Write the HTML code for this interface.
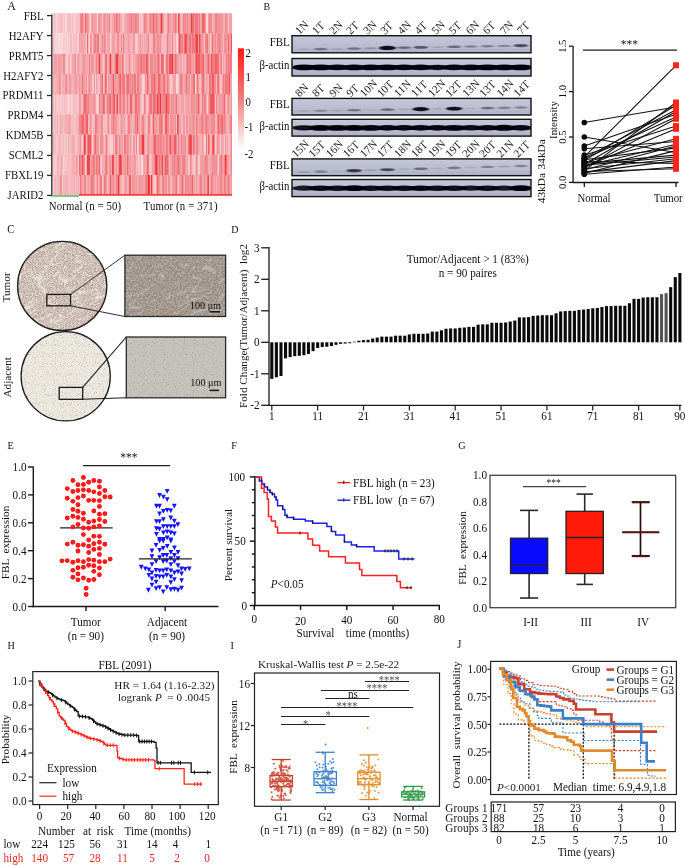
<!DOCTYPE html>
<html><head><meta charset="utf-8"><title>Figure</title>
<style>
html,body{margin:0;padding:0;background:#fff;}
body{width:685px;height:866px;overflow:hidden;}
svg{display:block;font-family:"Liberation Serif", serif;}
svg text{white-space:pre;}
svg{will-change:transform;}
</style></head><body>
<svg width="685" height="866" viewBox="0 0 685 866">
<rect x="0" y="0" width="685" height="866" fill="#fff"/>
<text x="7.30" y="9.60" font-size="12" text-anchor="start" fill="#111" transform="translate(0 5.40) scale(1 1.1) translate(0 -5.40)" >A</text>
<path fill="rgb(250,232,234)" d="M77.40 33.50h0.94v20.24h-0.94z"/>
<path fill="rgb(249,227,230)" d="M58.60 33.50h1.04v20.24h-1.04z"/>
<path fill="rgb(249,222,225)" d="M67.40 33.50h0.54v20.24h-0.54z"/>
<path fill="rgb(248,218,221)" d="M65.60 13.30h1.04v20.24h-1.04zM96.70 13.30h1.54v20.24h-1.54zM110.00 33.50h1.54v20.24h-1.54zM177.40 33.50h0.94v20.24h-0.94zM121.40 53.70h0.54v20.24h-0.54zM95.10 73.90h1.04v20.24h-1.04zM175.90 73.90h2.54v20.24h-2.54zM195.00 73.90h1.54v20.24h-1.54zM96.30 94.10h2.54v20.24h-2.54zM58.10 114.30h1.04v20.24h-1.04zM140.90 154.70h1.54v20.24h-1.54zM197.90 154.70h1.24v20.24h-1.24zM209.40 174.90h0.54v20.24h-0.54z"/>
<path fill="rgb(248,213,216)" d="M73.60 13.30h0.74v20.24h-0.74zM138.90 13.30h1.04v20.24h-1.04zM177.00 13.30h0.94v20.24h-0.94zM180.40 13.30h1.04v20.24h-1.04zM206.00 13.30h1.54v20.24h-1.54zM207.50 13.30h0.54v20.24h-0.54zM55.90 33.50h1.04v20.24h-1.04zM56.90 33.50h1.04v20.24h-1.04zM60.80 33.50h0.94v20.24h-0.94zM175.70 33.50h0.54v20.24h-0.54zM70.00 53.70h1.54v20.24h-1.54zM63.00 154.70h1.04v20.24h-1.04zM100.30 154.70h1.24v20.24h-1.24zM217.60 154.70h1.04v20.24h-1.04z"/>
<path fill="rgb(247,208,211)" d="M56.20 13.30h1.54v20.24h-1.54zM101.50 13.30h0.74v20.24h-0.74zM54.50 33.50h0.94v20.24h-0.94zM61.70 33.50h1.24v20.24h-1.24zM86.00 33.50h1.04v20.24h-1.04zM136.10 33.50h1.04v20.24h-1.04zM164.00 53.70h1.54v20.24h-1.54zM142.20 73.90h1.04v20.24h-1.04zM169.90 73.90h1.54v20.24h-1.54zM52.50 94.10h0.54v20.24h-0.54zM67.30 94.10h1.04v20.24h-1.04zM68.30 94.10h1.54v20.24h-1.54zM206.50 94.10h0.94v20.24h-0.94zM99.40 134.50h0.94v20.24h-0.94zM109.80 134.50h1.24v20.24h-1.24zM187.30 134.50h1.04v20.24h-1.04zM204.10 134.50h2.04v20.24h-2.04zM223.90 134.50h0.74v20.24h-0.74zM78.00 154.70h0.74v20.24h-0.74zM138.20 154.70h1.04v20.24h-1.04zM142.40 154.70h1.04v20.24h-1.04zM188.50 154.70h1.54v20.24h-1.54zM114.80 174.90h0.54v20.24h-0.54z"/>
<path fill="rgb(247,203,207)" d="M62.70 13.30h0.54v20.24h-0.54zM71.10 13.30h1.04v20.24h-1.04zM78.00 13.30h1.24v20.24h-1.24zM90.20 13.30h1.04v20.24h-1.04zM59.60 33.50h1.24v20.24h-1.24zM62.90 33.50h2.54v20.24h-2.54zM67.90 33.50h2.04v20.24h-2.04zM88.20 33.50h1.54v20.24h-1.54zM91.70 33.50h1.54v20.24h-1.54zM75.90 53.70h0.74v20.24h-0.74zM124.10 53.70h1.54v20.24h-1.54zM184.50 53.70h0.74v20.24h-0.74zM221.70 53.70h1.04v20.24h-1.04zM92.20 73.90h2.04v20.24h-2.04zM143.20 73.90h2.04v20.24h-2.04zM60.70 94.10h1.54v20.24h-1.54zM76.00 94.10h0.74v20.24h-0.74zM141.20 94.10h2.54v20.24h-2.54zM125.60 114.30h1.04v20.24h-1.04zM176.10 114.30h1.04v20.24h-1.04zM185.80 114.30h0.74v20.24h-0.74zM92.20 134.50h1.04v20.24h-1.04zM111.00 134.50h2.04v20.24h-2.04zM122.70 134.50h1.04v20.24h-1.04zM137.00 134.50h2.04v20.24h-2.04zM215.50 134.50h1.24v20.24h-1.24zM228.60 134.50h1.04v20.24h-1.04zM54.50 154.70h2.54v20.24h-2.54zM85.00 154.70h0.94v20.24h-0.94zM149.20 154.70h1.04v20.24h-1.04zM53.00 174.90h1.54v20.24h-1.54zM62.10 174.90h1.04v20.24h-1.04zM140.50 174.90h0.54v20.24h-0.54zM170.70 174.90h1.54v20.24h-1.54z"/>
<path fill="rgb(246,198,202)" d="M53.70 13.30h2.54v20.24h-2.54zM140.40 13.30h2.04v20.24h-2.04zM57.90 33.50h0.74v20.24h-0.74zM65.40 33.50h2.04v20.24h-2.04zM89.70 33.50h0.54v20.24h-0.54zM176.20 33.50h1.24v20.24h-1.24zM210.20 33.50h1.54v20.24h-1.54zM65.00 53.70h2.54v20.24h-2.54zM103.10 53.70h1.54v20.24h-1.54zM182.30 53.70h1.04v20.24h-1.04zM57.60 94.10h1.04v20.24h-1.04zM65.90 94.10h0.54v20.24h-0.54zM71.30 94.10h1.04v20.24h-1.04zM226.40 94.10h1.04v20.24h-1.04zM75.70 134.50h1.54v20.24h-1.54zM128.60 134.50h1.04v20.24h-1.04zM134.60 134.50h1.24v20.24h-1.24zM192.40 154.70h2.04v20.24h-2.04zM102.20 174.90h1.54v20.24h-1.54zM154.30 174.90h2.04v20.24h-2.04zM177.40 174.90h1.24v20.24h-1.24zM184.40 174.90h0.54v20.24h-0.54zM229.60 174.90h0.74v20.24h-0.74z"/>
<path fill="rgb(246,194,198)" d="M57.70 13.30h2.54v20.24h-2.54zM63.20 13.30h1.54v20.24h-1.54zM64.70 13.30h0.94v20.24h-0.94zM74.30 13.30h1.24v20.24h-1.24zM123.20 13.30h0.94v20.24h-0.94zM165.70 13.30h0.94v20.24h-0.94zM227.90 13.30h1.04v20.24h-1.04zM72.40 33.50h0.54v20.24h-0.54zM72.90 33.50h2.54v20.24h-2.54zM99.20 33.50h1.04v20.24h-1.04zM137.10 33.50h0.54v20.24h-0.54zM113.30 53.70h0.54v20.24h-0.54zM194.10 53.70h0.54v20.24h-0.54zM60.90 73.90h1.04v20.24h-1.04zM98.50 73.90h1.04v20.24h-1.04zM103.00 73.90h1.24v20.24h-1.24zM107.10 73.90h1.04v20.24h-1.04zM125.30 73.90h0.54v20.24h-0.54zM220.20 73.90h1.54v20.24h-1.54zM53.90 94.10h0.74v20.24h-0.74zM56.60 94.10h1.04v20.24h-1.04zM59.50 94.10h1.24v20.24h-1.24zM69.80 94.10h1.54v20.24h-1.54zM77.70 94.10h1.54v20.24h-1.54zM81.70 94.10h1.04v20.24h-1.04zM118.20 94.10h1.04v20.24h-1.04zM214.60 94.10h1.24v20.24h-1.24zM56.40 114.30h0.54v20.24h-0.54zM74.60 114.30h1.54v20.24h-1.54zM150.30 114.30h2.54v20.24h-2.54zM215.50 114.30h0.74v20.24h-0.74zM56.50 134.50h1.04v20.24h-1.04zM61.20 134.50h1.24v20.24h-1.24zM64.60 134.50h1.54v20.24h-1.54zM81.30 134.50h1.54v20.24h-1.54zM131.10 134.50h1.54v20.24h-1.54zM145.70 134.50h1.54v20.24h-1.54zM64.00 154.70h2.54v20.24h-2.54zM69.60 154.70h0.94v20.24h-0.94zM85.90 154.70h1.04v20.24h-1.04zM107.30 154.70h0.54v20.24h-0.54zM55.70 174.90h1.54v20.24h-1.54zM121.90 174.90h2.54v20.24h-2.54z"/>
<path fill="rgb(245,189,193)" d="M52.50 13.30h1.24v20.24h-1.24zM66.60 13.30h2.04v20.24h-2.04zM68.60 13.30h2.54v20.24h-2.54zM75.50 13.30h2.54v20.24h-2.54zM83.80 13.30h1.04v20.24h-1.04zM89.30 13.30h0.94v20.24h-0.94zM109.90 13.30h2.04v20.24h-2.04zM171.50 13.30h0.54v20.24h-0.54zM52.50 33.50h2.04v20.24h-2.04zM55.40 33.50h0.54v20.24h-0.54zM70.90 33.50h1.54v20.24h-1.54zM135.40 33.50h0.74v20.24h-0.74zM141.40 33.50h1.04v20.24h-1.04zM148.90 33.50h2.54v20.24h-2.54zM161.40 33.50h0.54v20.24h-0.54zM173.00 33.50h1.54v20.24h-1.54zM204.30 33.50h0.94v20.24h-0.94zM62.00 53.70h0.54v20.24h-0.54zM131.30 53.70h1.54v20.24h-1.54zM159.90 53.70h0.94v20.24h-0.94zM86.70 73.90h1.04v20.24h-1.04zM121.30 73.90h0.54v20.24h-0.54zM190.10 73.90h0.94v20.24h-0.94zM199.00 73.90h2.04v20.24h-2.04zM204.60 73.90h1.54v20.24h-1.54zM231.90 73.90h0.14v20.24h-0.14zM63.40 94.10h2.54v20.24h-2.54zM72.30 94.10h2.54v20.24h-2.54zM74.80 94.10h1.24v20.24h-1.24zM145.70 94.10h0.74v20.24h-0.74zM146.40 94.10h1.54v20.24h-1.54zM207.90 94.10h0.54v20.24h-0.54zM52.50 114.30h0.94v20.24h-0.94zM54.90 114.30h1.54v20.24h-1.54zM63.60 114.30h0.94v20.24h-0.94zM91.70 114.30h1.04v20.24h-1.04zM94.20 114.30h0.74v20.24h-0.74zM102.60 114.30h2.54v20.24h-2.54zM109.10 114.30h0.94v20.24h-0.94zM110.00 114.30h1.04v20.24h-1.04zM146.10 114.30h1.54v20.24h-1.54zM187.50 114.30h1.24v20.24h-1.24zM54.50 134.50h2.04v20.24h-2.04zM66.10 134.50h1.24v20.24h-1.24zM69.30 134.50h1.04v20.24h-1.04zM85.80 134.50h1.54v20.24h-1.54zM107.30 134.50h2.54v20.24h-2.54zM114.50 134.50h0.74v20.24h-0.74zM220.30 134.50h1.24v20.24h-1.24zM53.50 154.70h1.04v20.24h-1.04zM150.20 154.70h1.54v20.24h-1.54zM194.40 154.70h1.04v20.24h-1.04zM199.10 154.70h1.24v20.24h-1.24zM218.60 154.70h0.54v20.24h-0.54zM52.50 174.90h0.54v20.24h-0.54zM193.30 174.90h0.54v20.24h-0.54zM194.50 174.90h0.54v20.24h-0.54z"/>
<path fill="rgb(245,184,188)" d="M60.20 13.30h2.54v20.24h-2.54zM72.10 13.30h1.54v20.24h-1.54zM120.50 13.30h1.24v20.24h-1.24zM121.70 13.30h1.54v20.24h-1.54zM181.90 13.30h1.04v20.24h-1.04zM212.00 13.30h1.54v20.24h-1.54zM78.30 33.50h0.74v20.24h-0.74zM106.10 33.50h0.74v20.24h-0.74zM119.40 33.50h1.54v20.24h-1.54zM121.80 33.50h1.24v20.24h-1.24zM163.30 33.50h2.54v20.24h-2.54zM165.80 33.50h1.04v20.24h-1.04zM67.50 53.70h1.54v20.24h-1.54zM67.00 73.90h1.24v20.24h-1.24zM171.40 73.90h1.04v20.24h-1.04zM216.20 73.90h0.94v20.24h-0.94zM53.00 94.10h0.94v20.24h-0.94zM54.60 94.10h2.04v20.24h-2.04zM147.90 94.10h1.04v20.24h-1.04zM169.70 94.10h1.54v20.24h-1.54zM200.50 94.10h1.04v20.24h-1.04zM71.20 114.30h0.94v20.24h-0.94zM105.10 114.30h2.54v20.24h-2.54zM162.50 114.30h2.04v20.24h-2.04zM169.00 114.30h0.74v20.24h-0.74zM184.80 114.30h1.04v20.24h-1.04zM204.30 114.30h0.74v20.24h-0.74zM67.30 134.50h0.54v20.24h-0.54zM91.30 134.50h0.94v20.24h-0.94zM207.10 134.50h1.04v20.24h-1.04zM209.60 134.50h0.74v20.24h-0.74zM101.50 154.70h0.54v20.24h-0.54zM136.20 154.70h1.04v20.24h-1.04zM139.20 154.70h0.74v20.24h-0.74zM168.70 154.70h1.54v20.24h-1.54zM181.00 154.70h0.54v20.24h-0.54zM69.40 174.90h0.94v20.24h-0.94zM78.00 174.90h2.04v20.24h-2.04zM106.60 174.90h1.24v20.24h-1.24zM160.70 174.90h1.04v20.24h-1.04z"/>
<path fill="rgb(244,179,184)" d="M102.20 13.30h1.04v20.24h-1.04zM126.40 13.30h0.94v20.24h-0.94zM69.90 33.50h1.04v20.24h-1.04zM75.40 33.50h2.04v20.24h-2.04zM114.70 33.50h2.54v20.24h-2.54zM171.00 33.50h0.54v20.24h-0.54zM88.00 53.70h0.94v20.24h-0.94zM54.40 73.90h2.54v20.24h-2.54zM104.20 73.90h0.54v20.24h-0.54zM208.10 73.90h1.04v20.24h-1.04zM62.20 94.10h1.24v20.24h-1.24zM183.70 94.10h1.04v20.24h-1.04zM207.40 94.10h0.54v20.24h-0.54zM53.40 114.30h1.54v20.24h-1.54zM73.70 114.30h0.94v20.24h-0.94zM92.70 114.30h1.54v20.24h-1.54zM119.40 114.30h1.24v20.24h-1.24zM144.10 114.30h2.04v20.24h-2.04zM180.80 114.30h2.04v20.24h-2.04zM194.80 114.30h0.74v20.24h-0.74zM226.20 114.30h1.24v20.24h-1.24zM228.90 114.30h1.04v20.24h-1.04zM57.50 134.50h2.04v20.24h-2.04zM62.40 134.50h1.54v20.24h-1.54zM63.90 134.50h0.74v20.24h-0.74zM214.50 134.50h1.04v20.24h-1.04zM62.00 154.70h1.04v20.24h-1.04zM67.70 154.70h0.74v20.24h-0.74zM71.20 154.70h0.94v20.24h-0.94zM75.00 154.70h1.04v20.24h-1.04zM57.20 174.90h1.54v20.24h-1.54zM63.10 174.90h1.04v20.24h-1.04zM71.30 174.90h2.54v20.24h-2.54zM75.30 174.90h0.74v20.24h-0.74zM76.00 174.90h2.04v20.24h-2.04zM94.60 174.90h0.94v20.24h-0.94zM144.00 174.90h0.74v20.24h-0.74zM152.40 174.90h1.04v20.24h-1.04zM166.70 174.90h1.54v20.24h-1.54z"/>
<path fill="rgb(244,174,179)" d="M79.20 13.30h0.74v20.24h-0.74zM107.90 13.30h1.04v20.24h-1.04zM164.50 13.30h0.74v20.24h-0.74zM100.70 33.50h0.94v20.24h-0.94zM170.00 33.50h1.04v20.24h-1.04zM223.30 33.50h1.04v20.24h-1.04zM94.60 53.70h1.04v20.24h-1.04zM107.10 53.70h1.24v20.24h-1.24zM126.30 53.70h1.04v20.24h-1.04zM148.60 53.70h0.94v20.24h-0.94zM72.70 73.90h0.74v20.24h-0.74zM75.80 73.90h0.54v20.24h-0.54zM141.00 73.90h1.24v20.24h-1.24zM150.00 73.90h0.94v20.24h-0.94zM207.10 73.90h1.04v20.24h-1.04zM66.40 94.10h0.94v20.24h-0.94zM76.70 94.10h1.04v20.24h-1.04zM115.10 94.10h0.94v20.24h-0.94zM217.70 94.10h1.24v20.24h-1.24zM229.10 94.10h2.04v20.24h-2.04zM59.10 114.30h1.04v20.24h-1.04zM61.10 114.30h2.54v20.24h-2.54zM65.70 114.30h2.54v20.24h-2.54zM72.10 114.30h0.74v20.24h-0.74zM77.10 114.30h0.74v20.24h-0.74zM60.00 134.50h1.24v20.24h-1.24zM67.80 134.50h1.54v20.24h-1.54zM71.30 134.50h0.94v20.24h-0.94zM73.70 134.50h2.04v20.24h-2.04zM77.20 134.50h0.94v20.24h-0.94zM78.10 134.50h1.24v20.24h-1.24zM104.30 134.50h1.54v20.24h-1.54zM117.40 134.50h1.54v20.24h-1.54zM179.80 134.50h1.04v20.24h-1.04zM186.30 134.50h0.54v20.24h-0.54zM198.60 134.50h2.54v20.24h-2.54zM203.10 134.50h1.04v20.24h-1.04zM52.50 154.70h1.04v20.24h-1.04zM57.00 154.70h0.74v20.24h-0.74zM57.70 154.70h0.74v20.24h-0.74zM59.40 154.70h0.74v20.24h-0.74zM60.80 154.70h1.24v20.24h-1.24zM66.50 154.70h0.54v20.24h-0.54zM73.10 154.70h1.24v20.24h-1.24zM78.70 154.70h0.54v20.24h-0.54zM102.90 154.70h1.54v20.24h-1.54zM117.10 154.70h1.04v20.24h-1.04zM64.10 174.90h2.04v20.24h-2.04zM67.00 174.90h1.04v20.24h-1.04zM68.50 174.90h0.94v20.24h-0.94zM73.80 174.90h1.54v20.24h-1.54zM86.00 174.90h2.04v20.24h-2.04zM97.90 174.90h0.94v20.24h-0.94zM107.80 174.90h1.54v20.24h-1.54zM149.90 174.90h1.04v20.24h-1.04zM202.20 174.90h1.04v20.24h-1.04zM216.10 174.90h1.04v20.24h-1.04z"/>
<path fill="rgb(243,170,175)" d="M112.40 13.30h1.24v20.24h-1.24zM124.10 13.30h0.94v20.24h-0.94zM142.40 13.30h1.04v20.24h-1.04zM164.00 13.30h0.54v20.24h-0.54zM200.00 13.30h2.04v20.24h-2.04zM84.00 33.50h2.04v20.24h-2.04zM129.20 33.50h1.54v20.24h-1.54zM130.70 33.50h0.74v20.24h-0.74zM143.60 33.50h2.04v20.24h-2.04zM161.90 33.50h0.54v20.24h-0.54zM57.10 53.70h0.74v20.24h-0.74zM60.00 53.70h1.04v20.24h-1.04zM79.30 53.70h1.24v20.24h-1.24zM101.70 53.70h0.94v20.24h-0.94zM111.30 53.70h2.04v20.24h-2.04zM185.20 53.70h0.94v20.24h-0.94zM209.70 53.70h1.04v20.24h-1.04zM52.50 73.90h0.74v20.24h-0.74zM77.00 73.90h1.54v20.24h-1.54zM80.00 73.90h1.04v20.24h-1.04zM97.60 73.90h0.94v20.24h-0.94zM135.90 73.90h0.94v20.24h-0.94zM80.70 94.10h1.04v20.24h-1.04zM105.50 94.10h1.04v20.24h-1.04zM121.20 94.10h0.54v20.24h-0.54zM125.10 94.10h1.54v20.24h-1.54zM177.00 94.10h0.54v20.24h-0.54zM177.50 94.10h0.74v20.24h-0.74zM178.20 94.10h2.54v20.24h-2.54zM60.10 114.30h1.04v20.24h-1.04zM70.70 114.30h0.54v20.24h-0.54zM72.80 114.30h0.94v20.24h-0.94zM77.80 114.30h1.24v20.24h-1.24zM88.30 114.30h1.04v20.24h-1.04zM117.40 114.30h2.04v20.24h-2.04zM132.60 114.30h2.54v20.24h-2.54zM174.10 114.30h1.04v20.24h-1.04zM197.90 114.30h0.74v20.24h-0.74zM52.50 134.50h2.04v20.24h-2.04zM176.60 134.50h1.54v20.24h-1.54zM210.30 134.50h1.04v20.24h-1.04zM222.70 134.50h1.24v20.24h-1.24zM58.40 154.70h1.04v20.24h-1.04zM67.00 154.70h0.74v20.24h-0.74zM126.00 154.70h1.04v20.24h-1.04zM139.90 154.70h1.04v20.24h-1.04zM211.20 154.70h0.54v20.24h-0.54zM66.10 174.90h0.94v20.24h-0.94zM120.20 174.90h1.24v20.24h-1.24zM121.40 174.90h0.54v20.24h-0.54zM126.40 174.90h2.04v20.24h-2.04zM153.40 174.90h0.94v20.24h-0.94zM195.00 174.90h1.54v20.24h-1.54zM196.50 174.90h2.04v20.24h-2.04zM213.20 174.90h0.94v20.24h-0.94z"/>
<path fill="rgb(243,165,170)" d="M99.60 13.30h1.24v20.24h-1.24zM105.70 13.30h1.04v20.24h-1.04zM118.30 13.30h0.74v20.24h-0.74zM125.00 13.30h0.94v20.24h-0.94zM146.40 13.30h1.54v20.24h-1.54zM148.60 13.30h0.74v20.24h-0.74zM208.00 13.30h1.04v20.24h-1.04zM223.20 13.30h1.54v20.24h-1.54zM82.00 33.50h2.04v20.24h-2.04zM125.20 33.50h1.54v20.24h-1.54zM131.40 33.50h1.04v20.24h-1.04zM134.40 33.50h1.04v20.24h-1.04zM142.90 33.50h0.74v20.24h-0.74zM162.40 33.50h0.94v20.24h-0.94zM197.90 33.50h1.04v20.24h-1.04zM208.70 33.50h1.54v20.24h-1.54zM69.00 53.70h1.04v20.24h-1.04zM72.90 53.70h2.04v20.24h-2.04zM80.50 53.70h2.04v20.24h-2.04zM179.70 53.70h0.94v20.24h-0.94zM218.70 53.70h2.04v20.24h-2.04zM224.70 53.70h1.04v20.24h-1.04zM63.10 73.90h0.74v20.24h-0.74zM63.80 73.90h0.74v20.24h-0.74zM85.50 73.90h0.74v20.24h-0.74zM99.50 73.90h0.54v20.24h-0.54zM178.40 73.90h1.54v20.24h-1.54zM210.60 73.90h0.94v20.24h-0.94zM219.00 73.90h1.24v20.24h-1.24zM230.00 73.90h1.24v20.24h-1.24zM58.60 94.10h0.94v20.24h-0.94zM94.60 94.10h0.54v20.24h-0.54zM104.80 94.10h0.74v20.24h-0.74zM128.60 94.10h1.54v20.24h-1.54zM132.50 94.10h2.54v20.24h-2.54zM189.60 94.10h1.54v20.24h-1.54zM224.90 94.10h1.54v20.24h-1.54zM98.90 114.30h1.54v20.24h-1.54zM114.50 114.30h0.74v20.24h-0.74zM130.10 114.30h2.54v20.24h-2.54zM140.60 114.30h1.54v20.24h-1.54zM216.20 114.30h1.04v20.24h-1.04zM59.50 134.50h0.54v20.24h-0.54zM70.30 134.50h1.04v20.24h-1.04zM82.80 134.50h1.04v20.24h-1.04zM102.80 134.50h1.54v20.24h-1.54zM113.00 134.50h1.54v20.24h-1.54zM120.60 134.50h1.24v20.24h-1.24zM150.40 134.50h2.54v20.24h-2.54zM218.80 134.50h1.54v20.24h-1.54zM226.60 134.50h2.04v20.24h-2.04zM60.10 154.70h0.74v20.24h-0.74zM68.40 154.70h1.24v20.24h-1.24zM72.10 154.70h1.04v20.24h-1.04zM107.80 154.70h0.74v20.24h-0.74zM113.90 154.70h2.04v20.24h-2.04zM122.10 154.70h0.54v20.24h-0.54zM131.70 154.70h2.54v20.24h-2.54zM163.60 154.70h1.04v20.24h-1.04zM186.50 154.70h2.04v20.24h-2.04zM209.20 154.70h1.04v20.24h-1.04zM228.30 154.70h1.54v20.24h-1.54zM58.70 174.90h0.94v20.24h-0.94zM68.00 174.90h0.54v20.24h-0.54zM137.00 174.90h2.54v20.24h-2.54zM178.60 174.90h1.04v20.24h-1.04zM179.60 174.90h0.94v20.24h-0.94zM183.70 174.90h0.74v20.24h-0.74zM214.10 174.90h1.04v20.24h-1.04z"/>
<path fill="rgb(242,160,165)" d="M94.20 13.30h2.04v20.24h-2.04zM162.50 13.30h1.54v20.24h-1.54zM165.20 13.30h0.54v20.24h-0.54zM172.00 13.30h1.04v20.24h-1.04zM229.80 13.30h2.04v20.24h-2.04zM81.00 33.50h1.04v20.24h-1.04zM124.50 33.50h0.74v20.24h-0.74zM138.60 33.50h0.94v20.24h-0.94zM151.40 33.50h1.04v20.24h-1.04zM169.00 33.50h1.04v20.24h-1.04zM208.20 33.50h0.54v20.24h-0.54zM230.00 33.50h1.04v20.24h-1.04zM53.90 53.70h0.74v20.24h-0.74zM54.60 53.70h2.54v20.24h-2.54zM61.00 53.70h1.04v20.24h-1.04zM72.00 53.70h0.94v20.24h-0.94zM76.60 53.70h1.24v20.24h-1.24zM86.50 53.70h1.54v20.24h-1.54zM90.10 53.70h1.04v20.24h-1.04zM127.30 53.70h1.54v20.24h-1.54zM133.80 53.70h0.74v20.24h-0.74zM156.00 53.70h1.54v20.24h-1.54zM176.70 53.70h2.54v20.24h-2.54zM181.30 53.70h1.04v20.24h-1.04zM204.70 53.70h2.54v20.24h-2.54zM56.90 73.90h1.54v20.24h-1.54zM71.70 73.90h1.04v20.24h-1.04zM73.40 73.90h1.54v20.24h-1.54zM81.00 73.90h0.94v20.24h-0.94zM87.70 73.90h1.24v20.24h-1.24zM140.00 73.90h1.04v20.24h-1.04zM168.90 73.90h1.04v20.24h-1.04zM172.40 73.90h2.04v20.24h-2.04zM174.40 73.90h1.54v20.24h-1.54zM183.40 73.90h2.54v20.24h-2.54zM201.00 73.90h0.94v20.24h-0.94zM89.70 94.10h2.54v20.24h-2.54zM140.50 94.10h0.74v20.24h-0.74zM185.60 94.10h2.04v20.24h-2.04zM56.90 114.30h1.24v20.24h-1.24zM76.60 114.30h0.54v20.24h-0.54zM87.80 114.30h0.54v20.24h-0.54zM157.30 114.30h1.54v20.24h-1.54zM190.10 114.30h1.04v20.24h-1.04zM208.50 114.30h2.54v20.24h-2.54zM227.40 114.30h1.54v20.24h-1.54zM93.20 134.50h1.04v20.24h-1.04zM98.90 134.50h0.54v20.24h-0.54zM144.70 134.50h1.04v20.24h-1.04zM70.50 154.70h0.74v20.24h-0.74zM76.00 154.70h2.04v20.24h-2.04zM89.90 154.70h1.54v20.24h-1.54zM102.00 154.70h0.94v20.24h-0.94zM135.70 154.70h0.54v20.24h-0.54zM137.20 154.70h1.04v20.24h-1.04zM208.30 154.70h0.94v20.24h-0.94zM54.50 174.90h1.24v20.24h-1.24zM88.00 174.90h0.94v20.24h-0.94zM89.60 174.90h1.54v20.24h-1.54zM113.90 174.90h0.94v20.24h-0.94zM130.90 174.90h1.04v20.24h-1.04zM135.80 174.90h1.24v20.24h-1.24zM141.00 174.90h2.54v20.24h-2.54zM226.10 174.90h1.54v20.24h-1.54z"/>
<path fill="rgb(242,155,161)" d="M87.80 13.30h1.54v20.24h-1.54zM147.90 13.30h0.74v20.24h-0.74zM228.90 13.30h0.94v20.24h-0.94zM79.00 33.50h1.54v20.24h-1.54zM106.80 33.50h1.04v20.24h-1.04zM108.30 33.50h1.24v20.24h-1.24zM109.50 33.50h0.54v20.24h-0.54zM126.70 33.50h1.04v20.24h-1.04zM137.60 33.50h1.04v20.24h-1.04zM146.50 33.50h0.94v20.24h-0.94zM152.40 33.50h0.54v20.24h-0.54zM159.00 33.50h0.94v20.24h-0.94zM203.30 33.50h1.04v20.24h-1.04zM215.90 33.50h0.54v20.24h-0.54zM221.30 33.50h2.04v20.24h-2.04zM53.40 53.70h0.54v20.24h-0.54zM57.80 53.70h1.54v20.24h-1.54zM59.30 53.70h0.74v20.24h-0.74zM84.00 53.70h2.54v20.24h-2.54zM132.80 53.70h1.04v20.24h-1.04zM168.00 53.70h0.74v20.24h-0.74zM179.20 53.70h0.54v20.24h-0.54zM204.20 53.70h0.54v20.24h-0.54zM222.70 53.70h2.04v20.24h-2.04zM62.40 73.90h0.74v20.24h-0.74zM68.20 73.90h2.04v20.24h-2.04zM70.20 73.90h1.54v20.24h-1.54zM82.80 73.90h1.54v20.24h-1.54zM96.10 73.90h1.54v20.24h-1.54zM133.00 73.90h0.54v20.24h-0.54zM133.50 73.90h0.54v20.24h-0.54zM146.20 73.90h1.04v20.24h-1.04zM165.20 73.90h1.54v20.24h-1.54zM187.10 73.90h1.04v20.24h-1.04zM95.60 94.10h0.74v20.24h-0.74zM180.70 94.10h2.04v20.24h-2.04zM194.60 94.10h1.04v20.24h-1.04zM201.50 94.10h0.54v20.24h-0.54zM203.00 94.10h1.04v20.24h-1.04zM68.20 114.30h2.54v20.24h-2.54zM96.90 114.30h2.04v20.24h-2.04zM126.60 114.30h1.04v20.24h-1.04zM138.10 114.30h2.54v20.24h-2.54zM132.60 134.50h1.04v20.24h-1.04zM148.90 134.50h1.54v20.24h-1.54zM201.10 134.50h0.54v20.24h-0.54zM224.60 134.50h2.04v20.24h-2.04zM108.50 154.70h1.04v20.24h-1.04zM111.20 154.70h0.74v20.24h-0.74zM115.90 154.70h1.24v20.24h-1.24zM201.80 154.70h2.54v20.24h-2.54zM229.80 154.70h0.74v20.24h-0.74zM70.30 174.90h1.04v20.24h-1.04zM82.50 174.90h1.04v20.24h-1.04zM95.50 174.90h0.94v20.24h-0.94zM131.90 174.90h1.54v20.24h-1.54zM205.20 174.90h1.04v20.24h-1.04zM208.90 174.90h0.54v20.24h-0.54z"/>
<path fill="rgb(241,150,156)" d="M169.50 13.30h2.04v20.24h-2.04zM188.50 13.30h2.54v20.24h-2.54zM221.70 13.30h1.54v20.24h-1.54zM224.70 13.30h0.54v20.24h-0.54zM102.80 33.50h0.94v20.24h-0.94zM127.70 33.50h1.54v20.24h-1.54zM132.40 33.50h1.04v20.24h-1.04zM168.50 33.50h0.54v20.24h-0.54zM174.50 33.50h1.24v20.24h-1.24zM100.20 53.70h1.54v20.24h-1.54zM130.30 53.70h1.04v20.24h-1.04zM173.20 53.70h1.54v20.24h-1.54zM192.60 53.70h1.54v20.24h-1.54zM53.20 73.90h0.74v20.24h-0.74zM64.50 73.90h1.54v20.24h-1.54zM78.50 73.90h1.54v20.24h-1.54zM116.70 73.90h0.74v20.24h-0.74zM148.10 73.90h1.24v20.24h-1.24zM156.40 73.90h0.94v20.24h-0.94zM206.10 73.90h1.04v20.24h-1.04zM92.20 94.10h0.94v20.24h-0.94zM151.90 94.10h0.74v20.24h-0.74zM174.80 94.10h1.24v20.24h-1.24zM184.70 94.10h0.94v20.24h-0.94zM218.90 94.10h2.54v20.24h-2.54zM64.50 114.30h1.24v20.24h-1.24zM76.10 114.30h0.54v20.24h-0.54zM84.20 114.30h0.74v20.24h-0.74zM89.30 114.30h1.54v20.24h-1.54zM111.00 114.30h1.54v20.24h-1.54zM112.50 114.30h0.54v20.24h-0.54zM115.90 114.30h1.54v20.24h-1.54zM122.10 114.30h0.54v20.24h-0.54zM124.60 114.30h1.04v20.24h-1.04zM153.80 114.30h1.04v20.24h-1.04zM155.80 114.30h1.54v20.24h-1.54zM179.60 114.30h1.24v20.24h-1.24zM191.10 114.30h0.54v20.24h-0.54zM72.20 134.50h1.54v20.24h-1.54zM147.70 134.50h1.24v20.24h-1.24zM164.00 134.50h1.54v20.24h-1.54zM182.80 134.50h1.04v20.24h-1.04zM183.80 134.50h1.54v20.24h-1.54zM185.30 134.50h1.04v20.24h-1.04zM191.80 134.50h0.74v20.24h-0.74zM229.60 134.50h1.04v20.24h-1.04zM110.50 154.70h0.74v20.24h-0.74zM129.20 154.70h2.54v20.24h-2.54zM145.30 154.70h1.24v20.24h-1.24zM170.20 154.70h1.54v20.24h-1.54zM174.90 154.70h1.24v20.24h-1.24zM176.10 154.70h1.04v20.24h-1.04zM179.80 154.70h1.24v20.24h-1.24zM59.60 174.90h2.54v20.24h-2.54zM111.50 174.90h0.94v20.24h-0.94zM158.70 174.90h2.04v20.24h-2.04zM163.70 174.90h1.54v20.24h-1.54zM209.90 174.90h0.74v20.24h-0.74z"/>
<path fill="rgb(241,146,152)" d="M91.20 13.30h2.54v20.24h-2.54zM114.80 13.30h1.04v20.24h-1.04zM157.60 13.30h1.04v20.24h-1.04zM176.00 13.30h1.04v20.24h-1.04zM181.40 13.30h0.54v20.24h-0.54zM205.00 13.30h1.04v20.24h-1.04zM107.80 33.50h0.54v20.24h-0.54zM52.50 53.70h0.94v20.24h-0.94zM71.50 53.70h0.54v20.24h-0.54zM77.80 53.70h1.54v20.24h-1.54zM93.60 53.70h1.04v20.24h-1.04zM123.10 53.70h1.04v20.24h-1.04zM135.50 53.70h0.94v20.24h-0.94zM194.60 53.70h0.74v20.24h-0.74zM53.90 73.90h0.54v20.24h-0.54zM58.40 73.90h2.54v20.24h-2.54zM61.90 73.90h0.54v20.24h-0.54zM89.90 73.90h0.54v20.24h-0.54zM108.10 73.90h1.54v20.24h-1.54zM112.00 73.90h1.04v20.24h-1.04zM114.70 73.90h2.04v20.24h-2.04zM129.00 73.90h1.04v20.24h-1.04zM161.20 73.90h1.54v20.24h-1.54zM181.90 73.90h1.54v20.24h-1.54zM191.00 73.90h1.54v20.24h-1.54zM231.20 73.90h0.74v20.24h-0.74zM100.30 94.10h2.54v20.24h-2.54zM128.10 94.10h0.54v20.24h-0.54zM139.50 94.10h1.04v20.24h-1.04zM172.40 94.10h0.94v20.24h-0.94zM173.30 94.10h1.54v20.24h-1.54zM187.60 94.10h2.04v20.24h-2.04zM199.00 94.10h1.54v20.24h-1.54zM122.60 114.30h1.04v20.24h-1.04zM164.50 114.30h0.54v20.24h-0.54zM169.70 114.30h2.54v20.24h-2.54zM182.80 114.30h1.04v20.24h-1.04zM199.30 114.30h1.54v20.24h-1.54zM79.30 134.50h2.04v20.24h-2.04zM97.70 134.50h1.24v20.24h-1.24zM161.60 134.50h1.24v20.24h-1.24zM171.40 134.50h2.54v20.24h-2.54zM201.60 134.50h1.54v20.24h-1.54zM211.30 134.50h1.04v20.24h-1.04zM217.60 134.50h1.24v20.24h-1.24zM74.30 154.70h0.74v20.24h-0.74zM95.30 154.70h1.04v20.24h-1.04zM151.70 154.70h1.04v20.24h-1.04zM163.10 154.70h0.54v20.24h-0.54zM185.00 154.70h1.54v20.24h-1.54zM195.40 154.70h2.54v20.24h-2.54zM200.80 154.70h1.04v20.24h-1.04zM212.60 154.70h2.04v20.24h-2.04zM214.60 154.70h1.54v20.24h-1.54zM222.10 154.70h1.54v20.24h-1.54zM169.20 174.90h1.54v20.24h-1.54zM173.70 174.90h0.94v20.24h-0.94zM185.60 174.90h2.54v20.24h-2.54zM222.60 174.90h1.04v20.24h-1.04zM231.50 174.90h0.54v20.24h-0.54z"/>
<path fill="rgb(240,141,147)" d="M105.20 13.30h0.54v20.24h-0.54zM158.60 13.30h0.94v20.24h-0.94zM166.60 13.30h0.94v20.24h-0.94zM173.00 13.30h1.54v20.24h-1.54zM183.80 13.30h1.04v20.24h-1.04zM214.50 13.30h0.54v20.24h-0.54zM218.20 13.30h2.04v20.24h-2.04zM226.20 13.30h1.04v20.24h-1.04zM105.40 33.50h0.74v20.24h-0.74zM113.70 33.50h1.04v20.24h-1.04zM157.80 33.50h1.24v20.24h-1.24zM159.90 33.50h1.54v20.24h-1.54zM183.40 33.50h0.94v20.24h-0.94zM191.00 33.50h0.74v20.24h-0.74zM202.10 33.50h1.24v20.24h-1.24zM216.40 33.50h1.54v20.24h-1.54zM217.90 33.50h1.54v20.24h-1.54zM82.50 53.70h1.54v20.24h-1.54zM91.10 53.70h2.54v20.24h-2.54zM97.20 53.70h1.54v20.24h-1.54zM102.60 53.70h0.54v20.24h-0.54zM108.30 53.70h1.54v20.24h-1.54zM138.90 53.70h1.04v20.24h-1.04zM144.90 53.70h1.04v20.24h-1.04zM153.50 53.70h2.54v20.24h-2.54zM188.60 53.70h0.74v20.24h-0.74zM191.70 53.70h0.94v20.24h-0.94zM91.30 73.90h0.94v20.24h-0.94zM100.00 73.90h1.54v20.24h-1.54zM114.00 73.90h0.74v20.24h-0.74zM125.80 73.90h1.24v20.24h-1.24zM130.00 73.90h1.54v20.24h-1.54zM139.30 73.90h0.74v20.24h-0.74zM188.10 73.90h2.04v20.24h-2.04zM198.50 73.90h0.54v20.24h-0.54zM214.00 73.90h0.74v20.24h-0.74zM221.70 73.90h0.94v20.24h-0.94zM121.70 94.10h0.94v20.24h-0.94zM123.60 94.10h1.54v20.24h-1.54zM192.10 94.10h1.54v20.24h-1.54zM221.40 94.10h2.54v20.24h-2.54zM231.10 94.10h0.94v20.24h-0.94zM154.80 114.30h1.04v20.24h-1.04zM172.20 114.30h0.94v20.24h-0.94zM211.00 114.30h2.54v20.24h-2.54zM213.50 114.30h2.04v20.24h-2.04zM129.60 134.50h1.54v20.24h-1.54zM156.90 134.50h1.04v20.24h-1.04zM158.40 134.50h2.04v20.24h-2.04zM165.50 134.50h0.94v20.24h-0.94zM167.40 134.50h1.04v20.24h-1.04zM179.10 134.50h0.74v20.24h-0.74zM195.40 134.50h0.74v20.24h-0.74zM124.50 154.70h1.54v20.24h-1.54zM191.50 154.70h0.94v20.24h-0.94zM205.80 154.70h2.54v20.24h-2.54zM210.20 154.70h1.04v20.24h-1.04zM223.60 154.70h1.04v20.24h-1.04zM81.00 174.90h1.54v20.24h-1.54zM88.90 174.90h0.74v20.24h-0.74zM98.80 174.90h0.94v20.24h-0.94zM104.90 174.90h1.24v20.24h-1.24zM128.40 174.90h0.54v20.24h-0.54zM135.30 174.90h0.54v20.24h-0.54zM198.50 174.90h1.24v20.24h-1.24zM203.20 174.90h2.04v20.24h-2.04zM215.10 174.90h1.04v20.24h-1.04z"/>
<path fill="rgb(240,136,142)" d="M83.30 13.30h0.54v20.24h-0.54zM103.20 13.30h2.04v20.24h-2.04zM106.70 13.30h1.24v20.24h-1.24zM128.30 13.30h1.24v20.24h-1.24zM137.40 13.30h1.54v20.24h-1.54zM139.90 13.30h0.54v20.24h-0.54zM154.40 13.30h2.54v20.24h-2.54zM198.00 13.30h1.54v20.24h-1.54zM217.00 13.30h1.24v20.24h-1.24zM80.50 33.50h0.54v20.24h-0.54zM95.70 33.50h1.04v20.24h-1.04zM100.20 33.50h0.54v20.24h-0.54zM111.50 33.50h1.04v20.24h-1.04zM117.90 33.50h1.54v20.24h-1.54zM140.20 33.50h1.24v20.24h-1.24zM145.60 33.50h0.94v20.24h-0.94zM155.40 33.50h0.94v20.24h-0.94zM171.50 33.50h1.54v20.24h-1.54zM201.60 33.50h0.54v20.24h-0.54zM213.40 33.50h1.04v20.24h-1.04zM62.50 53.70h2.54v20.24h-2.54zM118.00 53.70h1.24v20.24h-1.24zM128.80 53.70h1.54v20.24h-1.54zM134.50 53.70h1.04v20.24h-1.04zM136.40 53.70h2.54v20.24h-2.54zM149.50 53.70h1.54v20.24h-1.54zM151.00 53.70h2.54v20.24h-2.54zM158.70 53.70h1.24v20.24h-1.24zM183.80 53.70h0.74v20.24h-0.74zM186.10 53.70h1.04v20.24h-1.04zM190.80 53.70h0.94v20.24h-0.94zM226.90 53.70h1.04v20.24h-1.04zM66.00 73.90h1.04v20.24h-1.04zM74.90 73.90h0.94v20.24h-0.94zM76.30 73.90h0.74v20.24h-0.74zM90.40 73.90h0.94v20.24h-0.94zM109.60 73.90h1.04v20.24h-1.04zM149.30 73.90h0.74v20.24h-0.74zM215.70 73.90h0.54v20.24h-0.54zM88.70 94.10h1.04v20.24h-1.04zM107.00 94.10h2.04v20.24h-2.04zM111.40 94.10h1.24v20.24h-1.24zM164.50 94.10h1.04v20.24h-1.04zM182.70 94.10h1.04v20.24h-1.04zM215.80 94.10h1.24v20.24h-1.24zM217.00 94.10h0.74v20.24h-0.74zM79.00 114.30h2.04v20.24h-2.04zM100.40 114.30h1.54v20.24h-1.54zM120.60 114.30h1.54v20.24h-1.54zM123.60 114.30h1.04v20.24h-1.04zM167.50 114.30h1.54v20.24h-1.54zM183.80 114.30h1.04v20.24h-1.04zM197.00 114.30h0.94v20.24h-0.94zM96.20 134.50h1.54v20.24h-1.54zM101.30 134.50h1.54v20.24h-1.54zM135.80 134.50h1.24v20.24h-1.24zM155.90 134.50h1.04v20.24h-1.04zM162.80 134.50h1.24v20.24h-1.24zM193.90 134.50h1.54v20.24h-1.54zM230.60 134.50h1.44v20.24h-1.44zM94.80 154.70h0.54v20.24h-0.54zM104.40 154.70h2.04v20.24h-2.04zM144.40 154.70h0.94v20.24h-0.94zM153.60 154.70h1.54v20.24h-1.54zM171.70 154.70h2.04v20.24h-2.04zM230.50 154.70h1.54v20.24h-1.54zM83.50 174.90h1.04v20.24h-1.04zM84.50 174.90h1.54v20.24h-1.54zM124.40 174.90h2.04v20.24h-2.04zM183.00 174.90h0.74v20.24h-0.74zM188.10 174.90h2.54v20.24h-2.54zM217.60 174.90h0.74v20.24h-0.74zM219.50 174.90h1.24v20.24h-1.24z"/>
<path fill="rgb(240,131,137)" d="M111.90 13.30h0.54v20.24h-0.54zM119.00 13.30h1.54v20.24h-1.54zM132.40 13.30h2.04v20.24h-2.04zM143.40 13.30h2.04v20.24h-2.04zM186.50 13.30h2.04v20.24h-2.04zM197.00 13.30h1.04v20.24h-1.04zM210.50 13.30h1.54v20.24h-1.54zM213.50 13.30h1.04v20.24h-1.04zM215.00 13.30h1.04v20.24h-1.04zM216.00 13.30h1.04v20.24h-1.04zM227.20 13.30h0.74v20.24h-0.74zM112.50 33.50h1.24v20.24h-1.24zM139.50 33.50h0.74v20.24h-0.74zM152.90 33.50h2.54v20.24h-2.54zM156.30 33.50h1.54v20.24h-1.54zM180.90 33.50h2.54v20.24h-2.54zM186.80 33.50h0.54v20.24h-0.54zM214.40 33.50h1.54v20.24h-1.54zM226.30 33.50h1.24v20.24h-1.24zM88.90 53.70h1.24v20.24h-1.24zM114.50 53.70h1.04v20.24h-1.04zM119.20 53.70h1.54v20.24h-1.54zM183.30 53.70h0.54v20.24h-0.54zM84.30 73.90h1.24v20.24h-1.24zM88.90 73.90h1.04v20.24h-1.04zM105.90 73.90h1.24v20.24h-1.24zM117.40 73.90h0.94v20.24h-0.94zM132.00 73.90h1.04v20.24h-1.04zM157.30 73.90h0.74v20.24h-0.74zM168.20 73.90h0.74v20.24h-0.74zM79.20 94.10h1.54v20.24h-1.54zM82.70 94.10h1.04v20.24h-1.04zM156.30 94.10h0.54v20.24h-0.54zM161.20 94.10h1.54v20.24h-1.54zM196.80 94.10h1.04v20.24h-1.04zM204.00 94.10h2.54v20.24h-2.54zM90.80 114.30h0.94v20.24h-0.94zM127.60 114.30h2.54v20.24h-2.54zM173.10 114.30h1.04v20.24h-1.04zM178.60 114.30h1.04v20.24h-1.04zM188.70 114.30h0.74v20.24h-0.74zM192.60 114.30h1.24v20.24h-1.24zM195.50 114.30h1.54v20.24h-1.54zM205.00 114.30h2.54v20.24h-2.54zM219.20 114.30h0.94v20.24h-0.94zM223.20 114.30h2.54v20.24h-2.54zM118.90 134.50h1.04v20.24h-1.04zM126.20 134.50h1.54v20.24h-1.54zM140.70 134.50h1.04v20.24h-1.04zM144.20 134.50h0.54v20.24h-0.54zM152.90 134.50h1.04v20.24h-1.04zM168.40 134.50h1.54v20.24h-1.54zM182.30 134.50h0.54v20.24h-0.54zM196.10 134.50h2.54v20.24h-2.54zM221.50 134.50h1.24v20.24h-1.24zM80.40 154.70h1.54v20.24h-1.54zM97.80 154.70h1.04v20.24h-1.04zM122.60 154.70h0.94v20.24h-0.94zM128.20 154.70h1.04v20.24h-1.04zM134.20 154.70h1.54v20.24h-1.54zM152.70 154.70h0.94v20.24h-0.94zM160.60 154.70h1.54v20.24h-1.54zM181.50 154.70h2.04v20.24h-2.04zM183.50 154.70h1.54v20.24h-1.54zM216.10 154.70h1.54v20.24h-1.54zM219.10 154.70h1.54v20.24h-1.54zM226.60 154.70h1.04v20.24h-1.04zM96.40 174.90h1.54v20.24h-1.54zM115.30 174.90h0.94v20.24h-0.94zM116.20 174.90h0.94v20.24h-0.94zM156.30 174.90h0.54v20.24h-0.54zM161.70 174.90h1.04v20.24h-1.04zM174.60 174.90h0.94v20.24h-0.94zM206.20 174.90h1.24v20.24h-1.24zM218.30 174.90h1.24v20.24h-1.24zM221.60 174.90h1.04v20.24h-1.04zM223.60 174.90h2.54v20.24h-2.54z"/>
<path fill="rgb(240,126,132)" d="M80.60 13.30h1.54v20.24h-1.54zM86.30 13.30h1.54v20.24h-1.54zM93.70 13.30h0.54v20.24h-0.54zM125.90 13.30h0.54v20.24h-0.54zM134.40 13.30h0.94v20.24h-0.94zM135.30 13.30h0.94v20.24h-0.94zM151.20 13.30h1.04v20.24h-1.04zM159.50 13.30h1.04v20.24h-1.04zM185.50 13.30h1.04v20.24h-1.04zM220.20 13.30h1.54v20.24h-1.54zM93.20 33.50h1.54v20.24h-1.54zM103.70 33.50h0.54v20.24h-0.54zM123.00 33.50h1.54v20.24h-1.54zM142.40 33.50h0.54v20.24h-0.54zM147.40 33.50h1.54v20.24h-1.54zM166.80 33.50h1.24v20.24h-1.24zM168.00 33.50h0.54v20.24h-0.54zM192.90 33.50h2.54v20.24h-2.54zM220.30 33.50h1.04v20.24h-1.04zM74.90 53.70h1.04v20.24h-1.04zM125.60 53.70h0.74v20.24h-0.74zM139.90 53.70h1.04v20.24h-1.04zM142.40 53.70h2.54v20.24h-2.54zM227.90 53.70h2.54v20.24h-2.54zM230.40 53.70h1.64v20.24h-1.64zM110.60 73.90h0.94v20.24h-0.94zM136.80 73.90h2.54v20.24h-2.54zM166.70 73.90h1.54v20.24h-1.54zM179.90 73.90h2.04v20.24h-2.04zM222.60 73.90h0.94v20.24h-0.94zM223.50 73.90h1.04v20.24h-1.04zM227.00 73.90h2.04v20.24h-2.04zM93.10 94.10h1.54v20.24h-1.54zM98.80 94.10h1.54v20.24h-1.54zM116.00 94.10h0.74v20.24h-0.74zM126.60 94.10h1.54v20.24h-1.54zM143.70 94.10h2.04v20.24h-2.04zM191.10 94.10h1.04v20.24h-1.04zM195.60 94.10h1.24v20.24h-1.24zM84.90 114.30h0.74v20.24h-0.74zM107.60 114.30h1.54v20.24h-1.54zM142.10 114.30h1.54v20.24h-1.54zM147.60 114.30h0.74v20.24h-0.74zM149.80 114.30h0.54v20.24h-0.54zM158.80 114.30h1.04v20.24h-1.04zM159.80 114.30h1.54v20.24h-1.54zM175.10 114.30h1.04v20.24h-1.04zM193.80 114.30h1.04v20.24h-1.04zM229.90 114.30h2.14v20.24h-2.14zM119.90 134.50h0.74v20.24h-0.74zM139.50 134.50h1.24v20.24h-1.24zM180.80 134.50h1.54v20.24h-1.54zM118.10 154.70h1.04v20.24h-1.04zM123.50 154.70h1.04v20.24h-1.04zM143.40 154.70h1.04v20.24h-1.04zM190.00 154.70h1.54v20.24h-1.54zM93.10 174.90h1.54v20.24h-1.54zM99.70 174.90h2.54v20.24h-2.54zM119.30 174.90h0.94v20.24h-0.94zM143.50 174.90h0.54v20.24h-0.54zM165.20 174.90h1.54v20.24h-1.54zM168.20 174.90h1.04v20.24h-1.04zM172.20 174.90h1.54v20.24h-1.54zM199.70 174.90h2.54v20.24h-2.54zM230.30 174.90h1.24v20.24h-1.24z"/>
<path fill="rgb(240,121,127)" d="M96.20 13.30h0.54v20.24h-0.54zM108.90 13.30h1.04v20.24h-1.04zM115.80 13.30h2.54v20.24h-2.54zM127.30 13.30h1.04v20.24h-1.04zM130.40 13.30h2.04v20.24h-2.04zM167.50 13.30h2.04v20.24h-2.04zM204.00 13.30h1.04v20.24h-1.04zM209.00 13.30h1.54v20.24h-1.54zM90.20 33.50h1.54v20.24h-1.54zM96.70 33.50h2.54v20.24h-2.54zM117.20 33.50h0.74v20.24h-0.74zM225.30 33.50h1.04v20.24h-1.04zM229.50 33.50h0.54v20.24h-0.54zM95.60 53.70h0.74v20.24h-0.74zM165.50 53.70h1.54v20.24h-1.54zM167.00 53.70h1.04v20.24h-1.04zM225.70 53.70h1.24v20.24h-1.24zM111.50 73.90h0.54v20.24h-0.54zM122.80 73.90h2.54v20.24h-2.54zM150.90 73.90h2.54v20.24h-2.54zM95.10 94.10h0.54v20.24h-0.54zM158.70 94.10h1.04v20.24h-1.04zM167.50 94.10h0.74v20.24h-0.74zM202.00 94.10h1.04v20.24h-1.04zM94.90 114.30h2.04v20.24h-2.04zM200.80 114.30h0.94v20.24h-0.94zM202.40 114.30h1.04v20.24h-1.04zM220.10 114.30h0.94v20.24h-0.94zM121.80 134.50h0.94v20.24h-0.94zM123.70 134.50h2.54v20.24h-2.54zM178.10 134.50h1.04v20.24h-1.04zM192.50 134.50h0.74v20.24h-0.74zM84.30 154.70h0.74v20.24h-0.74zM148.00 154.70h1.24v20.24h-1.24zM80.00 174.90h1.04v20.24h-1.04zM109.30 174.90h0.54v20.24h-0.54zM112.40 174.90h1.54v20.24h-1.54zM134.30 174.90h1.04v20.24h-1.04zM146.90 174.90h1.04v20.24h-1.04zM190.60 174.90h0.74v20.24h-0.74zM217.10 174.90h0.54v20.24h-0.54z"/>
<path fill="rgb(240,116,122)" d="M98.20 13.30h0.74v20.24h-0.74zM113.60 13.30h1.24v20.24h-1.24zM152.20 13.30h1.04v20.24h-1.04zM174.50 13.30h1.54v20.24h-1.54zM194.50 13.30h2.04v20.24h-2.04zM196.50 13.30h0.54v20.24h-0.54zM225.20 13.30h1.04v20.24h-1.04zM101.60 33.50h1.24v20.24h-1.24zM120.90 33.50h0.94v20.24h-0.94zM179.90 33.50h1.04v20.24h-1.04zM188.50 33.50h1.04v20.24h-1.04zM189.50 33.50h1.54v20.24h-1.54zM200.10 33.50h1.04v20.24h-1.04zM206.70 33.50h1.54v20.24h-1.54zM227.50 33.50h2.04v20.24h-2.04zM104.60 53.70h2.54v20.24h-2.54zM147.90 53.70h0.74v20.24h-0.74zM162.00 53.70h2.04v20.24h-2.04zM94.20 73.90h0.94v20.24h-0.94zM134.90 73.90h1.04v20.24h-1.04zM145.20 73.90h1.04v20.24h-1.04zM162.70 73.90h2.54v20.24h-2.54zM196.50 73.90h2.04v20.24h-2.04zM217.10 73.90h1.24v20.24h-1.24zM218.30 73.90h0.74v20.24h-0.74zM224.50 73.90h2.54v20.24h-2.54zM86.20 94.10h1.54v20.24h-1.54zM119.20 94.10h2.04v20.24h-2.04zM131.00 94.10h1.54v20.24h-1.54zM137.50 94.10h1.04v20.24h-1.04zM176.00 94.10h1.04v20.24h-1.04zM208.40 94.10h1.24v20.24h-1.24zM227.40 94.10h1.24v20.24h-1.24zM113.00 114.30h1.54v20.24h-1.54zM189.40 114.30h0.74v20.24h-0.74zM191.60 114.30h1.04v20.24h-1.04zM105.80 134.50h1.54v20.24h-1.54zM96.80 154.70h1.04v20.24h-1.04zM146.50 154.70h0.54v20.24h-0.54zM158.60 154.70h1.54v20.24h-1.54zM173.70 154.70h1.24v20.24h-1.24zM177.10 154.70h2.04v20.24h-2.04zM179.10 154.70h0.74v20.24h-0.74zM200.30 154.70h0.54v20.24h-0.54zM204.30 154.70h1.54v20.24h-1.54zM220.60 154.70h1.54v20.24h-1.54zM227.60 154.70h0.74v20.24h-0.74zM117.10 174.90h0.74v20.24h-0.74zM176.70 174.90h0.74v20.24h-0.74zM211.60 174.90h0.94v20.24h-0.94z"/>
<path fill="rgb(239,111,117)" d="M82.10 13.30h1.24v20.24h-1.24zM98.90 13.30h0.74v20.24h-0.74zM136.20 13.30h1.24v20.24h-1.24zM178.90 13.30h1.54v20.24h-1.54zM182.90 13.30h0.94v20.24h-0.94zM104.20 33.50h1.24v20.24h-1.24zM133.40 33.50h1.04v20.24h-1.04zM178.30 33.50h0.74v20.24h-0.74zM187.30 33.50h1.24v20.24h-1.24zM201.10 33.50h0.54v20.24h-0.54zM224.30 33.50h1.04v20.24h-1.04zM121.90 53.70h1.24v20.24h-1.24zM140.90 53.70h1.54v20.24h-1.54zM200.30 53.70h0.94v20.24h-0.94zM101.50 73.90h1.54v20.24h-1.54zM118.30 73.90h1.54v20.24h-1.54zM127.00 73.90h2.04v20.24h-2.04zM134.00 73.90h0.94v20.24h-0.94zM155.40 73.90h1.04v20.24h-1.04zM185.90 73.90h1.24v20.24h-1.24zM192.50 73.90h2.54v20.24h-2.54zM202.60 73.90h2.04v20.24h-2.04zM214.70 73.90h1.04v20.24h-1.04zM106.50 94.10h0.54v20.24h-0.54zM109.90 94.10h1.54v20.24h-1.54zM135.00 94.10h2.54v20.24h-2.54zM149.40 94.10h2.54v20.24h-2.54zM155.10 94.10h1.24v20.24h-1.24zM81.00 114.30h2.04v20.24h-2.04zM115.20 114.30h0.74v20.24h-0.74zM135.10 114.30h1.54v20.24h-1.54zM198.60 114.30h0.74v20.24h-0.74zM225.70 114.30h0.54v20.24h-0.54zM186.80 134.50h0.54v20.24h-0.54zM91.40 154.70h1.24v20.24h-1.24zM93.80 154.70h1.04v20.24h-1.04zM157.60 154.70h1.04v20.24h-1.04zM133.40 174.90h0.94v20.24h-0.94zM145.70 174.90h1.24v20.24h-1.24zM180.50 174.90h1.04v20.24h-1.04zM193.80 174.90h0.74v20.24h-0.74zM227.60 174.90h1.54v20.24h-1.54zM229.10 174.90h0.54v20.24h-0.54z"/>
<path fill="rgb(239,106,112)" d="M149.30 13.30h1.24v20.24h-1.24zM192.50 13.30h2.04v20.24h-2.04zM191.70 33.50h1.24v20.24h-1.24zM205.20 33.50h1.54v20.24h-1.54zM212.70 33.50h0.74v20.24h-0.74zM96.30 53.70h0.94v20.24h-0.94zM113.80 53.70h0.74v20.24h-0.74zM160.80 53.70h1.24v20.24h-1.24zM174.70 53.70h2.04v20.24h-2.04zM180.60 53.70h0.74v20.24h-0.74zM207.20 53.70h2.54v20.24h-2.54zM212.20 53.70h1.54v20.24h-1.54zM158.00 73.90h2.54v20.24h-2.54zM84.70 94.10h1.54v20.24h-1.54zM109.00 94.10h0.94v20.24h-0.94zM152.60 94.10h2.54v20.24h-2.54zM171.20 94.10h1.24v20.24h-1.24zM193.60 94.10h1.04v20.24h-1.04zM228.60 94.10h0.54v20.24h-0.54zM221.70 114.30h1.54v20.24h-1.54zM94.20 134.50h2.04v20.24h-2.04zM133.60 134.50h1.04v20.24h-1.04zM206.10 134.50h1.04v20.24h-1.04zM98.80 154.70h1.54v20.24h-1.54zM127.00 154.70h1.24v20.24h-1.24zM147.00 154.70h1.04v20.24h-1.04zM166.70 154.70h2.04v20.24h-2.04zM103.70 174.90h1.24v20.24h-1.24zM110.80 174.90h0.74v20.24h-0.74zM181.50 174.90h1.54v20.24h-1.54z"/>
<path fill="rgb(239,101,107)" d="M79.90 13.30h0.74v20.24h-0.74zM84.80 13.30h1.54v20.24h-1.54zM87.00 33.50h1.24v20.24h-1.24zM120.70 53.70h0.74v20.24h-0.74zM201.20 53.70h1.54v20.24h-1.54zM81.90 73.90h0.94v20.24h-0.94zM121.80 73.90h1.04v20.24h-1.04zM131.50 73.90h0.54v20.24h-0.54zM102.80 94.10h2.04v20.24h-2.04zM162.70 94.10h0.94v20.24h-0.94zM83.00 114.30h1.24v20.24h-1.24zM101.90 114.30h0.74v20.24h-0.74zM136.60 114.30h1.54v20.24h-1.54zM148.30 114.30h1.54v20.24h-1.54zM203.40 114.30h0.94v20.24h-0.94zM216.70 134.50h0.94v20.24h-0.94zM92.60 154.70h1.24v20.24h-1.24zM91.10 174.90h1.54v20.24h-1.54zM106.10 174.90h0.54v20.24h-0.54zM144.70 174.90h1.04v20.24h-1.04zM156.80 174.90h1.04v20.24h-1.04zM157.80 174.90h0.94v20.24h-0.94zM191.30 174.90h2.04v20.24h-2.04z"/>
<path fill="rgb(239,97,102)" d="M129.50 13.30h0.94v20.24h-0.94zM150.50 13.30h0.74v20.24h-0.74zM202.00 13.30h2.04v20.24h-2.04zM231.80 13.30h0.24v20.24h-0.24zM187.10 53.70h1.54v20.24h-1.54zM189.30 53.70h1.54v20.24h-1.54zM202.70 53.70h1.54v20.24h-1.54zM214.70 53.70h2.54v20.24h-2.54zM119.80 73.90h1.54v20.24h-1.54zM153.40 73.90h2.04v20.24h-2.04zM160.50 73.90h0.74v20.24h-0.74zM87.70 94.10h1.04v20.24h-1.04zM197.80 94.10h1.24v20.24h-1.24zM223.90 94.10h1.04v20.24h-1.04zM207.50 114.30h1.04v20.24h-1.04zM217.20 114.30h0.54v20.24h-0.54zM116.40 134.50h1.04v20.24h-1.04zM127.70 134.50h0.94v20.24h-0.94zM147.20 134.50h0.54v20.24h-0.54zM83.40 154.70h0.94v20.24h-0.94zM109.50 154.70h1.04v20.24h-1.04zM160.10 154.70h0.54v20.24h-0.54zM211.70 154.70h0.94v20.24h-0.94zM210.60 174.90h1.04v20.24h-1.04z"/>
<path fill="rgb(239,92,97)" d="M100.80 13.30h0.74v20.24h-0.74zM156.90 13.30h0.74v20.24h-0.74zM94.70 33.50h1.04v20.24h-1.04zM145.90 53.70h2.04v20.24h-2.04zM197.80 53.70h2.54v20.24h-2.54zM104.70 73.90h1.24v20.24h-1.24zM122.60 94.10h1.04v20.24h-1.04zM168.20 94.10h1.54v20.24h-1.54zM209.60 94.10h2.54v20.24h-2.54zM165.00 114.30h2.54v20.24h-2.54zM217.70 114.30h1.54v20.24h-1.54zM100.30 134.50h1.04v20.24h-1.04zM115.20 134.50h1.24v20.24h-1.24zM139.00 134.50h0.54v20.24h-0.54zM153.90 134.50h2.04v20.24h-2.04zM174.60 134.50h2.04v20.24h-2.04zM193.20 134.50h0.74v20.24h-0.74zM92.60 174.90h0.54v20.24h-0.54zM128.90 174.90h2.04v20.24h-2.04zM162.70 174.90h1.04v20.24h-1.04z"/>
<path fill="rgb(239,87,92)" d="M145.40 13.30h1.04v20.24h-1.04zM184.80 13.30h0.74v20.24h-0.74zM168.70 53.70h1.04v20.24h-1.04zM169.70 53.70h1.54v20.24h-1.54zM213.70 53.70h1.04v20.24h-1.04zM86.20 73.90h0.54v20.24h-0.54zM113.00 73.90h1.04v20.24h-1.04zM209.10 73.90h0.54v20.24h-0.54zM211.50 73.90h2.54v20.24h-2.54zM229.00 73.90h1.04v20.24h-1.04zM113.60 94.10h1.54v20.24h-1.54zM138.50 94.10h1.04v20.24h-1.04zM148.90 94.10h0.54v20.24h-0.54zM163.60 94.10h0.94v20.24h-0.94zM81.90 154.70h1.54v20.24h-1.54zM121.10 154.70h1.04v20.24h-1.04zM139.50 174.90h1.04v20.24h-1.04z"/>
<path fill="rgb(239,82,87)" d="M211.70 33.50h1.04v20.24h-1.04zM231.00 33.50h1.04v20.24h-1.04zM217.20 53.70h1.54v20.24h-1.54zM201.90 73.90h0.74v20.24h-0.74zM130.10 94.10h0.94v20.24h-0.94zM221.00 114.30h0.74v20.24h-0.74zM87.30 134.50h2.04v20.24h-2.04zM160.40 134.50h1.24v20.24h-1.24zM169.90 134.50h1.54v20.24h-1.54zM208.10 134.50h1.54v20.24h-1.54zM175.50 174.90h1.24v20.24h-1.24zM212.50 174.90h0.74v20.24h-0.74zM220.70 174.90h0.94v20.24h-0.94z"/>
<path fill="rgb(238,77,82)" d="M153.20 13.30h1.24v20.24h-1.24zM219.40 33.50h0.94v20.24h-0.94zM195.30 53.70h2.54v20.24h-2.54zM210.70 53.70h1.54v20.24h-1.54zM83.70 94.10h1.04v20.24h-1.04zM212.10 94.10h2.54v20.24h-2.54zM161.30 114.30h1.24v20.24h-1.24zM186.50 114.30h1.04v20.24h-1.04zM201.70 114.30h0.74v20.24h-0.74zM89.30 134.50h2.04v20.24h-2.04zM165.80 154.70h0.94v20.24h-0.94zM109.80 174.90h1.04v20.24h-1.04z"/>
<path fill="rgb(238,72,77)" d="M198.90 33.50h1.24v20.24h-1.24zM220.70 53.70h1.04v20.24h-1.04zM116.70 94.10h1.54v20.24h-1.54zM79.20 154.70h1.24v20.24h-1.24zM111.90 154.70h2.04v20.24h-2.04zM164.60 154.70h1.24v20.24h-1.24zM184.90 174.90h0.74v20.24h-0.74z"/>
<path fill="rgb(238,67,72)" d="M179.00 33.50h0.94v20.24h-0.94zM184.30 33.50h2.54v20.24h-2.54zM157.50 53.70h1.24v20.24h-1.24zM112.60 94.10h1.04v20.24h-1.04zM156.80 94.10h1.24v20.24h-1.24zM86.60 114.30h1.24v20.24h-1.24zM83.80 134.50h2.04v20.24h-2.04zM188.30 134.50h1.04v20.24h-1.04zM213.00 134.50h1.54v20.24h-1.54zM86.90 154.70h1.04v20.24h-1.04zM87.90 154.70h2.04v20.24h-2.04z"/>
<path fill="rgb(238,62,66)" d="M160.50 13.30h2.04v20.24h-2.04zM177.90 13.30h1.04v20.24h-1.04zM199.50 13.30h0.54v20.24h-0.54zM115.50 53.70h2.54v20.24h-2.54zM147.20 73.90h0.94v20.24h-0.94zM85.60 114.30h1.04v20.24h-1.04zM143.60 114.30h0.54v20.24h-0.54zM141.70 134.50h2.54v20.24h-2.54zM189.30 134.50h2.54v20.24h-2.54zM212.30 134.50h0.74v20.24h-0.74zM119.10 154.70h2.04v20.24h-2.04zM117.80 174.90h1.54v20.24h-1.54z"/>
<path fill="rgb(238,57,62)" d="M191.00 13.30h1.54v20.24h-1.54zM195.40 33.50h2.54v20.24h-2.54zM98.70 53.70h1.54v20.24h-1.54zM109.80 53.70h1.54v20.24h-1.54zM171.20 53.70h2.04v20.24h-2.04zM209.60 73.90h1.04v20.24h-1.04zM158.00 94.10h0.74v20.24h-0.74zM159.70 94.10h1.54v20.24h-1.54zM165.50 94.10h2.04v20.24h-2.04zM177.10 114.30h1.54v20.24h-1.54zM157.90 134.50h0.54v20.24h-0.54zM166.40 134.50h1.04v20.24h-1.04zM173.90 134.50h0.74v20.24h-0.74zM96.30 154.70h0.54v20.24h-0.54zM106.40 154.70h0.94v20.24h-0.94zM155.10 154.70h2.54v20.24h-2.54zM224.60 154.70h2.04v20.24h-2.04zM150.90 174.90h1.54v20.24h-1.54z"/>
<path fill="rgb(238,52,57)" d="M152.80 114.30h1.04v20.24h-1.04zM162.10 154.70h1.04v20.24h-1.04zM207.40 174.90h1.54v20.24h-1.54z"/>
<path fill="rgb(238,48,52)" d="M147.90 174.90h2.04v20.24h-2.04z"/>
<line x1="51.80" y1="14.50" x2="51.80" y2="196.20" stroke="#2a2a2a" stroke-width="1.3" />
<line x1="47.00" y1="15.60" x2="51.80" y2="15.60" stroke="#2a2a2a" stroke-width="1.3" />
<text x="43.50" y="19.20" font-size="10.8" text-anchor="end" fill="#111" transform="translate(0 15.42) scale(1 1.1) translate(0 -15.42)" >FBL</text>
<line x1="47.00" y1="35.58" x2="51.80" y2="35.58" stroke="#2a2a2a" stroke-width="1.3" />
<text x="43.50" y="39.18" font-size="10.8" text-anchor="end" fill="#111" transform="translate(0 35.40) scale(1 1.1) translate(0 -35.40)" >H2AFY</text>
<line x1="47.00" y1="55.56" x2="51.80" y2="55.56" stroke="#2a2a2a" stroke-width="1.3" />
<text x="43.50" y="59.16" font-size="10.8" text-anchor="end" fill="#111" transform="translate(0 55.38) scale(1 1.1) translate(0 -55.38)" >PRMT5</text>
<line x1="47.00" y1="75.54" x2="51.80" y2="75.54" stroke="#2a2a2a" stroke-width="1.3" />
<text x="43.50" y="79.14" font-size="10.8" text-anchor="end" fill="#111" transform="translate(0 75.36) scale(1 1.1) translate(0 -75.36)" >H2AFY2</text>
<line x1="47.00" y1="95.52" x2="51.80" y2="95.52" stroke="#2a2a2a" stroke-width="1.3" />
<text x="43.50" y="99.12" font-size="10.8" text-anchor="end" fill="#111" transform="translate(0 95.34) scale(1 1.1) translate(0 -95.34)" >PRDM11</text>
<line x1="47.00" y1="115.50" x2="51.80" y2="115.50" stroke="#2a2a2a" stroke-width="1.3" />
<text x="43.50" y="119.10" font-size="10.8" text-anchor="end" fill="#111" transform="translate(0 115.32) scale(1 1.1) translate(0 -115.32)" >PRDM4</text>
<line x1="47.00" y1="135.48" x2="51.80" y2="135.48" stroke="#2a2a2a" stroke-width="1.3" />
<text x="43.50" y="139.08" font-size="10.8" text-anchor="end" fill="#111" transform="translate(0 135.30) scale(1 1.1) translate(0 -135.30)" >KDM5B</text>
<line x1="47.00" y1="155.46" x2="51.80" y2="155.46" stroke="#2a2a2a" stroke-width="1.3" />
<text x="43.50" y="159.06" font-size="10.8" text-anchor="end" fill="#111" transform="translate(0 155.28) scale(1 1.1) translate(0 -155.28)" >SCML2</text>
<line x1="47.00" y1="175.44" x2="51.80" y2="175.44" stroke="#2a2a2a" stroke-width="1.3" />
<text x="43.50" y="179.04" font-size="10.8" text-anchor="end" fill="#111" transform="translate(0 175.26) scale(1 1.1) translate(0 -175.26)" >FBXL19</text>
<line x1="47.00" y1="195.42" x2="51.80" y2="195.42" stroke="#2a2a2a" stroke-width="1.3" />
<text x="43.50" y="199.02" font-size="10.8" text-anchor="end" fill="#111" transform="translate(0 195.24) scale(1 1.1) translate(0 -195.24)" >JARID2</text>
<line x1="52.50" y1="196.00" x2="79.00" y2="196.00" stroke="#5bbf6a" stroke-width="1.6" />
<line x1="79.00" y1="194.90" x2="232.00" y2="194.90" stroke="#f2403a" stroke-width="1.6" />
<text x="48.80" y="209.90" font-size="10.8" text-anchor="start" fill="#111" textLength="72.4" lengthAdjust="spacing" transform="translate(0 206.12) scale(1 1.1) translate(0 -206.12)" >Normal (n = 50)</text>
<text x="143.60" y="209.90" font-size="10.8" text-anchor="start" fill="#111" textLength="73.9" lengthAdjust="spacing" transform="translate(0 206.12) scale(1 1.1) translate(0 -206.12)" >Tumor (n = 371)</text>
<defs><linearGradient id="cb" x1="0" y1="0" x2="0" y2="1"><stop offset="0" stop-color="#ff1a14"/><stop offset="0.5" stop-color="#ee8080"/><stop offset="1" stop-color="#ffffff"/></linearGradient></defs>
<rect x="237.90" y="48.30" width="6.10" height="101.50" fill="url(#cb)" stroke="none" stroke-width="1" />
<text x="245.50" y="56.20" font-size="10.8" text-anchor="start" fill="#111" transform="translate(0 52.42) scale(1 1.1) translate(0 -52.42)" >2</text>
<text x="245.50" y="81.10" font-size="10.8" text-anchor="start" fill="#111" transform="translate(0 77.32) scale(1 1.1) translate(0 -77.32)" >1</text>
<text x="245.50" y="105.30" font-size="10.8" text-anchor="start" fill="#111" transform="translate(0 101.52) scale(1 1.1) translate(0 -101.52)" >0</text>
<text x="244.50" y="130.30" font-size="10.8" text-anchor="start" fill="#111" transform="translate(0 126.52) scale(1 1.1) translate(0 -126.52)" >-1</text>
<text x="244.50" y="158.00" font-size="10.8" text-anchor="start" fill="#111" transform="translate(0 154.22) scale(1 1.1) translate(0 -154.22)" >-2</text>
<text x="263.50" y="9.50" font-size="10" text-anchor="start" fill="#111" transform="translate(0 6.00) scale(1 1.1) translate(0 -6.00)" >B</text>
<defs><filter id="blur1" x="-20%" y="-50%" width="140%" height="200%"><feGaussianBlur stdDeviation="1.0 0.6"/></filter></defs>
<text x="0" y="0" font-size="11.2" fill="#1a1a1a" transform="translate(299.54,34.90) rotate(-45)">1N</text>
<text x="0" y="0" font-size="11.2" fill="#1a1a1a" transform="translate(316.61,34.90) rotate(-45)">1T</text>
<text x="0" y="0" font-size="11.2" fill="#1a1a1a" transform="translate(333.68,34.90) rotate(-45)">2N</text>
<text x="0" y="0" font-size="11.2" fill="#1a1a1a" transform="translate(350.75,34.90) rotate(-45)">2T</text>
<text x="0" y="0" font-size="11.2" fill="#1a1a1a" transform="translate(367.82,34.90) rotate(-45)">3N</text>
<text x="0" y="0" font-size="11.2" fill="#1a1a1a" transform="translate(384.89,34.90) rotate(-45)">3T</text>
<text x="0" y="0" font-size="11.2" fill="#1a1a1a" transform="translate(401.96,34.90) rotate(-45)">4N</text>
<text x="0" y="0" font-size="11.2" fill="#1a1a1a" transform="translate(419.04,34.90) rotate(-45)">4T</text>
<text x="0" y="0" font-size="11.2" fill="#1a1a1a" transform="translate(436.11,34.90) rotate(-45)">5N</text>
<text x="0" y="0" font-size="11.2" fill="#1a1a1a" transform="translate(453.18,34.90) rotate(-45)">5T</text>
<text x="0" y="0" font-size="11.2" fill="#1a1a1a" transform="translate(470.25,34.90) rotate(-45)">6N</text>
<text x="0" y="0" font-size="11.2" fill="#1a1a1a" transform="translate(487.32,34.90) rotate(-45)">6T</text>
<text x="0" y="0" font-size="11.2" fill="#1a1a1a" transform="translate(504.39,34.90) rotate(-45)">7N</text>
<text x="0" y="0" font-size="11.2" fill="#1a1a1a" transform="translate(521.46,34.90) rotate(-45)">7T</text>
<defs><linearGradient id="bl11" x1="0" y1="0" x2="0" y2="1"><stop offset="0" stop-color="#c6c8d8"/><stop offset="0.6" stop-color="#babdd0"/><stop offset="1" stop-color="#acafc4"/></linearGradient></defs>
<rect x="292.00" y="35.70" width="239.00" height="17.10" fill="url(#bl11)" stroke="none" stroke-width="1" />
<clipPath id="cbl11"><rect x="292.0" y="35.7" width="239.0" height="17.099999999999994"/></clipPath>
<g clip-path="url(#cbl11)"><g filter="url(#blur1)">
<ellipse cx="304.00" cy="49.38" rx="6.27" ry="0.86" fill="#0a0a1a" opacity="0.06"/>
<ellipse cx="320.68" cy="49.09" rx="6.98" ry="1.25" fill="#0a0a1a" opacity="0.39"/>
<ellipse cx="337.36" cy="48.80" rx="6.38" ry="0.93" fill="#0a0a1a" opacity="0.11"/>
<ellipse cx="354.04" cy="48.51" rx="6.98" ry="1.25" fill="#0a0a1a" opacity="0.39"/>
<ellipse cx="370.72" cy="48.22" rx="6.62" ry="1.06" fill="#0a0a1a" opacity="0.22"/>
<ellipse cx="387.40" cy="47.93" rx="8.54" ry="2.10" fill="#0a0a1a" opacity="1.00"/>
<ellipse cx="404.08" cy="47.64" rx="7.10" ry="1.32" fill="#0a0a1a" opacity="0.44"/>
<ellipse cx="420.76" cy="47.35" rx="7.34" ry="1.45" fill="#0a0a1a" opacity="0.55"/>
<ellipse cx="437.44" cy="47.06" rx="6.43" ry="0.96" fill="#0a0a1a" opacity="0.13"/>
<ellipse cx="454.12" cy="46.78" rx="7.10" ry="1.32" fill="#0a0a1a" opacity="0.44"/>
<ellipse cx="470.80" cy="46.49" rx="6.86" ry="1.19" fill="#0a0a1a" opacity="0.33"/>
<ellipse cx="487.48" cy="46.20" rx="6.86" ry="1.19" fill="#0a0a1a" opacity="0.33"/>
<ellipse cx="504.16" cy="45.91" rx="6.74" ry="1.12" fill="#0a0a1a" opacity="0.28"/>
<ellipse cx="520.84" cy="45.62" rx="7.46" ry="1.52" fill="#0a0a1a" opacity="0.61"/>
</g></g>
<rect x="292.00" y="35.70" width="239.00" height="17.10" fill="none" stroke="#111" stroke-width="1.4" />
<defs><linearGradient id="bl12" x1="0" y1="0" x2="0" y2="1"><stop offset="0" stop-color="#c6c8d8"/><stop offset="0.6" stop-color="#babdd0"/><stop offset="1" stop-color="#acafc4"/></linearGradient></defs>
<rect x="292.00" y="58.50" width="239.00" height="17.50" fill="url(#bl12)" stroke="none" stroke-width="1" />
<clipPath id="cbl12"><rect x="292.0" y="58.5" width="239.0" height="17.5"/></clipPath>
<g clip-path="url(#cbl12)"><g filter="url(#blur1)">
<ellipse cx="304.00" cy="67.42" rx="12.29" ry="2.90" fill="#05050f" opacity="1.00"/>
<ellipse cx="320.68" cy="67.42" rx="12.29" ry="2.90" fill="#05050f" opacity="1.00"/>
<ellipse cx="337.36" cy="67.42" rx="12.29" ry="2.80" fill="#05050f" opacity="0.96"/>
<ellipse cx="354.04" cy="67.42" rx="12.29" ry="2.85" fill="#05050f" opacity="0.98"/>
<ellipse cx="370.72" cy="67.42" rx="12.29" ry="2.85" fill="#05050f" opacity="0.98"/>
<ellipse cx="387.40" cy="67.42" rx="12.29" ry="2.90" fill="#05050f" opacity="1.00"/>
<ellipse cx="404.08" cy="67.42" rx="12.29" ry="2.80" fill="#05050f" opacity="0.96"/>
<ellipse cx="420.76" cy="67.42" rx="12.29" ry="2.80" fill="#05050f" opacity="0.96"/>
<ellipse cx="437.44" cy="67.42" rx="12.29" ry="2.75" fill="#05050f" opacity="0.94"/>
<ellipse cx="454.12" cy="67.42" rx="12.29" ry="2.80" fill="#05050f" opacity="0.96"/>
<ellipse cx="470.80" cy="67.42" rx="12.29" ry="2.85" fill="#05050f" opacity="0.98"/>
<ellipse cx="487.48" cy="67.42" rx="12.29" ry="2.95" fill="#05050f" opacity="1.00"/>
<ellipse cx="504.16" cy="67.42" rx="12.29" ry="2.85" fill="#05050f" opacity="0.98"/>
<ellipse cx="520.84" cy="67.42" rx="12.29" ry="2.90" fill="#05050f" opacity="1.00"/>
</g></g>
<rect x="292.00" y="58.50" width="239.00" height="17.50" fill="none" stroke="#111" stroke-width="1.4" />
<text x="289.50" y="45.40" font-size="10.8" text-anchor="end" fill="#111" transform="translate(0 41.62) scale(1 1.1) translate(0 -41.62)" >FBL</text>
<text x="289.50" y="69.10" font-size="10.8" text-anchor="end" fill="#111" transform="translate(0 65.32) scale(1 1.1) translate(0 -65.32)" >β-actin</text>
<text x="0" y="0" font-size="11.2" fill="#1a1a1a" transform="translate(299.54,97.60) rotate(-45)">8N</text>
<text x="0" y="0" font-size="11.2" fill="#1a1a1a" transform="translate(316.61,97.60) rotate(-45)">8T</text>
<text x="0" y="0" font-size="11.2" fill="#1a1a1a" transform="translate(333.68,97.60) rotate(-45)">9N</text>
<text x="0" y="0" font-size="11.2" fill="#1a1a1a" transform="translate(350.75,97.60) rotate(-45)">9T</text>
<text x="0" y="0" font-size="11.2" fill="#1a1a1a" transform="translate(364.32,97.60) rotate(-45)">10N</text>
<text x="0" y="0" font-size="11.2" fill="#1a1a1a" transform="translate(381.39,97.60) rotate(-45)">10T</text>
<text x="0" y="0" font-size="11.2" fill="#1a1a1a" transform="translate(398.46,97.60) rotate(-45)">11N</text>
<text x="0" y="0" font-size="11.2" fill="#1a1a1a" transform="translate(415.54,97.60) rotate(-45)">11T</text>
<text x="0" y="0" font-size="11.2" fill="#1a1a1a" transform="translate(432.61,97.60) rotate(-45)">12N</text>
<text x="0" y="0" font-size="11.2" fill="#1a1a1a" transform="translate(449.68,97.60) rotate(-45)">12T</text>
<text x="0" y="0" font-size="11.2" fill="#1a1a1a" transform="translate(466.75,97.60) rotate(-45)">13N</text>
<text x="0" y="0" font-size="11.2" fill="#1a1a1a" transform="translate(483.82,97.60) rotate(-45)">13T</text>
<text x="0" y="0" font-size="11.2" fill="#1a1a1a" transform="translate(500.89,97.60) rotate(-45)">14N</text>
<text x="0" y="0" font-size="11.2" fill="#1a1a1a" transform="translate(517.96,97.60) rotate(-45)">14T</text>
<defs><linearGradient id="bl81" x1="0" y1="0" x2="0" y2="1"><stop offset="0" stop-color="#c6c8d8"/><stop offset="0.6" stop-color="#babdd0"/><stop offset="1" stop-color="#acafc4"/></linearGradient></defs>
<rect x="292.00" y="98.40" width="239.00" height="16.60" fill="url(#bl81)" stroke="none" stroke-width="1" />
<clipPath id="cbl81"><rect x="292.0" y="98.4" width="239.0" height="16.599999999999994"/></clipPath>
<g clip-path="url(#cbl81)"><g filter="url(#blur1)">
<ellipse cx="304.00" cy="111.02" rx="6.38" ry="0.93" fill="#0a0a1a" opacity="0.11"/>
<ellipse cx="320.68" cy="110.75" rx="6.74" ry="1.12" fill="#0a0a1a" opacity="0.28"/>
<ellipse cx="337.36" cy="110.48" rx="6.38" ry="0.93" fill="#0a0a1a" opacity="0.11"/>
<ellipse cx="354.04" cy="110.21" rx="6.98" ry="1.25" fill="#0a0a1a" opacity="0.39"/>
<ellipse cx="370.72" cy="109.94" rx="6.27" ry="0.86" fill="#0a0a1a" opacity="0.06"/>
<ellipse cx="387.40" cy="109.68" rx="7.10" ry="1.32" fill="#0a0a1a" opacity="0.44"/>
<ellipse cx="404.08" cy="109.41" rx="6.43" ry="0.96" fill="#0a0a1a" opacity="0.13"/>
<ellipse cx="420.76" cy="109.14" rx="8.42" ry="2.04" fill="#0a0a1a" opacity="1.00"/>
<ellipse cx="437.44" cy="108.87" rx="6.38" ry="0.93" fill="#0a0a1a" opacity="0.11"/>
<ellipse cx="454.12" cy="108.60" rx="8.30" ry="1.97" fill="#0a0a1a" opacity="0.99"/>
<ellipse cx="470.80" cy="108.33" rx="6.34" ry="0.90" fill="#0a0a1a" opacity="0.09"/>
<ellipse cx="487.48" cy="108.07" rx="7.10" ry="1.32" fill="#0a0a1a" opacity="0.44"/>
<ellipse cx="504.16" cy="107.80" rx="6.86" ry="1.19" fill="#0a0a1a" opacity="0.33"/>
<ellipse cx="520.84" cy="107.53" rx="6.86" ry="1.19" fill="#0a0a1a" opacity="0.33"/>
</g></g>
<rect x="292.00" y="98.40" width="239.00" height="16.60" fill="none" stroke="#111" stroke-width="1.4" />
<defs><linearGradient id="bl82" x1="0" y1="0" x2="0" y2="1"><stop offset="0" stop-color="#c6c8d8"/><stop offset="0.6" stop-color="#babdd0"/><stop offset="1" stop-color="#acafc4"/></linearGradient></defs>
<rect x="292.00" y="119.30" width="239.00" height="16.80" fill="url(#bl82)" stroke="none" stroke-width="1" />
<clipPath id="cbl82"><rect x="292.0" y="119.3" width="239.0" height="16.799999999999997"/></clipPath>
<g clip-path="url(#cbl82)"><g filter="url(#blur1)">
<ellipse cx="304.00" cy="127.87" rx="12.29" ry="2.70" fill="#05050f" opacity="0.92"/>
<ellipse cx="320.68" cy="127.87" rx="12.29" ry="2.90" fill="#05050f" opacity="1.00"/>
<ellipse cx="337.36" cy="127.87" rx="12.29" ry="2.85" fill="#05050f" opacity="0.98"/>
<ellipse cx="354.04" cy="127.87" rx="12.29" ry="2.90" fill="#05050f" opacity="1.00"/>
<ellipse cx="370.72" cy="127.87" rx="12.29" ry="2.85" fill="#05050f" opacity="0.98"/>
<ellipse cx="387.40" cy="127.87" rx="12.29" ry="2.80" fill="#05050f" opacity="0.96"/>
<ellipse cx="404.08" cy="127.87" rx="12.29" ry="2.80" fill="#05050f" opacity="0.96"/>
<ellipse cx="420.76" cy="127.87" rx="12.29" ry="2.80" fill="#05050f" opacity="0.96"/>
<ellipse cx="437.44" cy="127.87" rx="12.29" ry="2.80" fill="#05050f" opacity="0.96"/>
<ellipse cx="454.12" cy="127.87" rx="12.29" ry="2.85" fill="#05050f" opacity="0.98"/>
<ellipse cx="470.80" cy="127.87" rx="12.29" ry="2.75" fill="#05050f" opacity="0.94"/>
<ellipse cx="487.48" cy="127.87" rx="12.29" ry="2.80" fill="#05050f" opacity="0.96"/>
<ellipse cx="504.16" cy="127.87" rx="12.29" ry="3.00" fill="#05050f" opacity="1.00"/>
<ellipse cx="520.84" cy="127.87" rx="12.29" ry="2.80" fill="#05050f" opacity="0.96"/>
</g></g>
<rect x="292.00" y="119.30" width="239.00" height="16.80" fill="none" stroke="#111" stroke-width="1.4" />
<text x="289.50" y="108.10" font-size="10.8" text-anchor="end" fill="#111" transform="translate(0 104.32) scale(1 1.1) translate(0 -104.32)" >FBL</text>
<text x="289.50" y="129.90" font-size="10.8" text-anchor="end" fill="#111" transform="translate(0 126.12) scale(1 1.1) translate(0 -126.12)" >β-actin</text>
<text x="0" y="0" font-size="11.2" fill="#1a1a1a" transform="translate(296.04,158.10) rotate(-45)">15N</text>
<text x="0" y="0" font-size="11.2" fill="#1a1a1a" transform="translate(313.11,158.10) rotate(-45)">15T</text>
<text x="0" y="0" font-size="11.2" fill="#1a1a1a" transform="translate(330.18,158.10) rotate(-45)">16N</text>
<text x="0" y="0" font-size="11.2" fill="#1a1a1a" transform="translate(347.25,158.10) rotate(-45)">16T</text>
<text x="0" y="0" font-size="11.2" fill="#1a1a1a" transform="translate(364.32,158.10) rotate(-45)">17N</text>
<text x="0" y="0" font-size="11.2" fill="#1a1a1a" transform="translate(381.39,158.10) rotate(-45)">17T</text>
<text x="0" y="0" font-size="11.2" fill="#1a1a1a" transform="translate(398.46,158.10) rotate(-45)">18N</text>
<text x="0" y="0" font-size="11.2" fill="#1a1a1a" transform="translate(415.54,158.10) rotate(-45)">18T</text>
<text x="0" y="0" font-size="11.2" fill="#1a1a1a" transform="translate(432.61,158.10) rotate(-45)">19N</text>
<text x="0" y="0" font-size="11.2" fill="#1a1a1a" transform="translate(449.68,158.10) rotate(-45)">19T</text>
<text x="0" y="0" font-size="11.2" fill="#1a1a1a" transform="translate(466.75,158.10) rotate(-45)">20N</text>
<text x="0" y="0" font-size="11.2" fill="#1a1a1a" transform="translate(483.82,158.10) rotate(-45)">20T</text>
<text x="0" y="0" font-size="11.2" fill="#1a1a1a" transform="translate(500.89,158.10) rotate(-45)">21N</text>
<text x="0" y="0" font-size="11.2" fill="#1a1a1a" transform="translate(517.96,158.10) rotate(-45)">21T</text>
<defs><linearGradient id="bl151" x1="0" y1="0" x2="0" y2="1"><stop offset="0" stop-color="#c6c8d8"/><stop offset="0.6" stop-color="#babdd0"/><stop offset="1" stop-color="#acafc4"/></linearGradient></defs>
<rect x="292.00" y="158.90" width="239.00" height="16.80" fill="url(#bl151)" stroke="none" stroke-width="1" />
<clipPath id="cbl151"><rect x="292.0" y="158.9" width="239.0" height="16.799999999999983"/></clipPath>
<g clip-path="url(#cbl151)"><g filter="url(#blur1)">
<ellipse cx="304.00" cy="172.00" rx="6.43" ry="0.96" fill="#0a0a1a" opacity="0.13"/>
<ellipse cx="320.68" cy="171.54" rx="6.86" ry="1.19" fill="#0a0a1a" opacity="0.33"/>
<ellipse cx="337.36" cy="171.07" rx="6.27" ry="0.86" fill="#0a0a1a" opacity="0.06"/>
<ellipse cx="354.04" cy="170.61" rx="7.82" ry="1.71" fill="#0a0a1a" opacity="0.77"/>
<ellipse cx="370.72" cy="170.14" rx="6.50" ry="1.00" fill="#0a0a1a" opacity="0.17"/>
<ellipse cx="387.40" cy="169.68" rx="7.46" ry="1.52" fill="#0a0a1a" opacity="0.61"/>
<ellipse cx="404.08" cy="169.21" rx="6.34" ry="0.90" fill="#0a0a1a" opacity="0.09"/>
<ellipse cx="420.76" cy="168.75" rx="7.10" ry="1.32" fill="#0a0a1a" opacity="0.44"/>
<ellipse cx="437.44" cy="168.28" rx="6.34" ry="0.90" fill="#0a0a1a" opacity="0.09"/>
<ellipse cx="454.12" cy="167.82" rx="6.98" ry="1.25" fill="#0a0a1a" opacity="0.39"/>
<ellipse cx="470.80" cy="167.35" rx="6.38" ry="0.93" fill="#0a0a1a" opacity="0.11"/>
<ellipse cx="487.48" cy="166.89" rx="6.86" ry="1.19" fill="#0a0a1a" opacity="0.33"/>
<ellipse cx="504.16" cy="166.42" rx="6.50" ry="1.00" fill="#0a0a1a" opacity="0.17"/>
<ellipse cx="520.84" cy="165.96" rx="6.86" ry="1.19" fill="#0a0a1a" opacity="0.33"/>
</g></g>
<rect x="292.00" y="158.90" width="239.00" height="16.80" fill="none" stroke="#111" stroke-width="1.4" />
<defs><linearGradient id="bl152" x1="0" y1="0" x2="0" y2="1"><stop offset="0" stop-color="#c6c8d8"/><stop offset="0.6" stop-color="#babdd0"/><stop offset="1" stop-color="#acafc4"/></linearGradient></defs>
<rect x="292.00" y="179.50" width="239.00" height="17.10" fill="url(#bl152)" stroke="none" stroke-width="1" />
<clipPath id="cbl152"><rect x="292.0" y="179.5" width="239.0" height="17.099999999999994"/></clipPath>
<g clip-path="url(#cbl152)"><g filter="url(#blur1)">
<ellipse cx="304.00" cy="188.22" rx="12.29" ry="2.60" fill="#05050f" opacity="0.87"/>
<ellipse cx="320.68" cy="188.22" rx="12.29" ry="2.75" fill="#05050f" opacity="0.94"/>
<ellipse cx="337.36" cy="188.22" rx="12.29" ry="2.70" fill="#05050f" opacity="0.92"/>
<ellipse cx="354.04" cy="188.22" rx="12.29" ry="2.90" fill="#05050f" opacity="1.00"/>
<ellipse cx="370.72" cy="188.22" rx="12.29" ry="2.70" fill="#05050f" opacity="0.92"/>
<ellipse cx="387.40" cy="188.22" rx="12.29" ry="2.70" fill="#05050f" opacity="0.92"/>
<ellipse cx="404.08" cy="188.22" rx="12.29" ry="2.75" fill="#05050f" opacity="0.94"/>
<ellipse cx="420.76" cy="188.22" rx="12.29" ry="2.80" fill="#05050f" opacity="0.96"/>
<ellipse cx="437.44" cy="188.22" rx="12.29" ry="2.70" fill="#05050f" opacity="0.92"/>
<ellipse cx="454.12" cy="188.22" rx="12.29" ry="2.70" fill="#05050f" opacity="0.92"/>
<ellipse cx="470.80" cy="188.22" rx="12.29" ry="2.65" fill="#05050f" opacity="0.89"/>
<ellipse cx="487.48" cy="188.22" rx="12.29" ry="2.70" fill="#05050f" opacity="0.92"/>
<ellipse cx="504.16" cy="188.22" rx="12.29" ry="2.60" fill="#05050f" opacity="0.87"/>
<ellipse cx="520.84" cy="188.22" rx="12.29" ry="2.90" fill="#05050f" opacity="1.00"/>
</g></g>
<rect x="292.00" y="179.50" width="239.00" height="17.10" fill="none" stroke="#111" stroke-width="1.4" />
<text x="289.50" y="168.60" font-size="10.8" text-anchor="end" fill="#111" transform="translate(0 164.82) scale(1 1.1) translate(0 -164.82)" >FBL</text>
<text x="289.50" y="190.10" font-size="10.8" text-anchor="end" fill="#111" transform="translate(0 186.32) scale(1 1.1) translate(0 -186.32)" >β-actin</text>
<text x="0" y="0" font-size="11.4" text-anchor="middle" fill="#111" transform="translate(544.60,154.30) rotate(-90)" >34kDa</text>
<text x="0" y="0" font-size="11.4" text-anchor="middle" fill="#111" transform="translate(544.60,188.10) rotate(-90)" >43kDa</text>
<line x1="573.10" y1="46.00" x2="573.10" y2="183.10" stroke="#1a1a1a" stroke-width="1.3" />
<line x1="572.50" y1="182.50" x2="678.50" y2="182.50" stroke="#1a1a1a" stroke-width="1.3" />
<line x1="569.00" y1="182.40" x2="573.10" y2="182.40" stroke="#1a1a1a" stroke-width="1.3" />
<text x="0" y="0" font-size="10.6" text-anchor="middle" fill="#111" transform="translate(565.50,182.40) rotate(-90)" >0.0</text>
<line x1="569.00" y1="137.00" x2="573.10" y2="137.00" stroke="#1a1a1a" stroke-width="1.3" />
<text x="0" y="0" font-size="10.6" text-anchor="middle" fill="#111" transform="translate(565.50,137.00) rotate(-90)" >0.5</text>
<line x1="569.00" y1="91.60" x2="573.10" y2="91.60" stroke="#1a1a1a" stroke-width="1.3" />
<text x="0" y="0" font-size="10.6" text-anchor="middle" fill="#111" transform="translate(565.50,91.60) rotate(-90)" >1.0</text>
<line x1="569.00" y1="46.20" x2="573.10" y2="46.20" stroke="#1a1a1a" stroke-width="1.3" />
<text x="0" y="0" font-size="10.6" text-anchor="middle" fill="#111" transform="translate(565.50,46.20) rotate(-90)" >1.5</text>
<line x1="584.30" y1="182.50" x2="584.30" y2="187.00" stroke="#1a1a1a" stroke-width="1.3" />
<line x1="676.00" y1="182.50" x2="676.00" y2="187.00" stroke="#1a1a1a" stroke-width="1.3" />
<text x="594.00" y="201.20" font-size="10.8" text-anchor="middle" fill="#111" transform="translate(0 197.42) scale(1 1.1) translate(0 -197.42)" >Normal</text>
<text x="668.20" y="201.20" font-size="10.8" text-anchor="middle" fill="#111" transform="translate(0 197.42) scale(1 1.1) translate(0 -197.42)" >Tumor</text>
<text x="0" y="0" font-size="10.8" text-anchor="middle" fill="#111" transform="translate(556.50,120.00) rotate(-90)" >Intensity</text>
<line x1="583.00" y1="50.10" x2="677.00" y2="50.10" stroke="#1a1a1a" stroke-width="1.2" />
<text x="629.30" y="47.50" font-size="11.5" text-anchor="middle" fill="#111" transform="translate(0 43.48) scale(1 1.1) translate(0 -43.48)" >***</text>
<line x1="584.30" y1="122.47" x2="676.00" y2="107.04" stroke="#111" stroke-width="1.1" />
<line x1="584.30" y1="137.00" x2="676.00" y2="152.44" stroke="#111" stroke-width="1.1" />
<line x1="584.30" y1="146.08" x2="676.00" y2="114.30" stroke="#111" stroke-width="1.1" />
<line x1="584.30" y1="148.80" x2="676.00" y2="141.54" stroke="#111" stroke-width="1.1" />
<line x1="584.30" y1="155.16" x2="676.00" y2="126.10" stroke="#111" stroke-width="1.1" />
<line x1="584.30" y1="156.98" x2="676.00" y2="65.27" stroke="#111" stroke-width="1.1" />
<line x1="584.30" y1="157.88" x2="676.00" y2="109.76" stroke="#111" stroke-width="1.1" />
<line x1="584.30" y1="158.79" x2="676.00" y2="117.02" stroke="#111" stroke-width="1.1" />
<line x1="584.30" y1="159.70" x2="676.00" y2="147.90" stroke="#111" stroke-width="1.1" />
<line x1="584.30" y1="160.61" x2="676.00" y2="105.22" stroke="#111" stroke-width="1.1" />
<line x1="584.30" y1="162.42" x2="676.00" y2="138.82" stroke="#111" stroke-width="1.1" />
<line x1="584.30" y1="163.33" x2="676.00" y2="155.16" stroke="#111" stroke-width="1.1" />
<line x1="584.30" y1="164.24" x2="676.00" y2="111.58" stroke="#111" stroke-width="1.1" />
<line x1="584.30" y1="166.06" x2="676.00" y2="144.26" stroke="#111" stroke-width="1.1" />
<line x1="584.30" y1="166.96" x2="676.00" y2="128.83" stroke="#111" stroke-width="1.1" />
<line x1="584.30" y1="168.78" x2="676.00" y2="158.79" stroke="#111" stroke-width="1.1" />
<line x1="584.30" y1="169.69" x2="676.00" y2="146.08" stroke="#111" stroke-width="1.1" />
<line x1="584.30" y1="170.60" x2="676.00" y2="102.50" stroke="#111" stroke-width="1.1" />
<line x1="584.30" y1="172.41" x2="676.00" y2="160.61" stroke="#111" stroke-width="1.1" />
<line x1="584.30" y1="173.32" x2="676.00" y2="150.62" stroke="#111" stroke-width="1.1" />
<line x1="584.30" y1="174.23" x2="676.00" y2="166.96" stroke="#111" stroke-width="1.1" />
<line x1="584.30" y1="171.50" x2="676.00" y2="168.78" stroke="#111" stroke-width="1.1" />
<line x1="584.30" y1="167.87" x2="676.00" y2="118.84" stroke="#111" stroke-width="1.1" />
<line x1="584.30" y1="165.15" x2="676.00" y2="156.98" stroke="#111" stroke-width="1.1" />
<line x1="584.30" y1="161.52" x2="676.00" y2="163.33" stroke="#111" stroke-width="1.1" />
<circle cx="584.30" cy="122.47" r="2.8" fill="#0a0a0a" />
<circle cx="584.30" cy="137.00" r="2.8" fill="#0a0a0a" />
<circle cx="584.30" cy="146.08" r="2.8" fill="#0a0a0a" />
<circle cx="584.30" cy="148.80" r="2.8" fill="#0a0a0a" />
<circle cx="584.30" cy="155.16" r="2.8" fill="#0a0a0a" />
<circle cx="584.30" cy="156.98" r="2.8" fill="#0a0a0a" />
<circle cx="584.30" cy="157.88" r="2.8" fill="#0a0a0a" />
<circle cx="584.30" cy="158.79" r="2.8" fill="#0a0a0a" />
<circle cx="584.30" cy="159.70" r="2.8" fill="#0a0a0a" />
<circle cx="584.30" cy="160.61" r="2.8" fill="#0a0a0a" />
<circle cx="584.30" cy="162.42" r="2.8" fill="#0a0a0a" />
<circle cx="584.30" cy="163.33" r="2.8" fill="#0a0a0a" />
<circle cx="584.30" cy="164.24" r="2.8" fill="#0a0a0a" />
<circle cx="584.30" cy="166.06" r="2.8" fill="#0a0a0a" />
<circle cx="584.30" cy="166.96" r="2.8" fill="#0a0a0a" />
<circle cx="584.30" cy="168.78" r="2.8" fill="#0a0a0a" />
<circle cx="584.30" cy="169.69" r="2.8" fill="#0a0a0a" />
<circle cx="584.30" cy="170.60" r="2.8" fill="#0a0a0a" />
<circle cx="584.30" cy="172.41" r="2.8" fill="#0a0a0a" />
<circle cx="584.30" cy="173.32" r="2.8" fill="#0a0a0a" />
<circle cx="584.30" cy="174.23" r="2.8" fill="#0a0a0a" />
<circle cx="584.30" cy="171.50" r="2.8" fill="#0a0a0a" />
<circle cx="584.30" cy="167.87" r="2.8" fill="#0a0a0a" />
<circle cx="584.30" cy="165.15" r="2.8" fill="#0a0a0a" />
<circle cx="584.30" cy="161.52" r="2.8" fill="#0a0a0a" />
<rect x="673.00" y="104.04" width="6.00" height="6.00" fill="#ff2418" stroke="none" stroke-width="1" />
<rect x="673.00" y="149.44" width="6.00" height="6.00" fill="#ff2418" stroke="none" stroke-width="1" />
<rect x="673.00" y="111.30" width="6.00" height="6.00" fill="#ff2418" stroke="none" stroke-width="1" />
<rect x="673.00" y="138.54" width="6.00" height="6.00" fill="#ff2418" stroke="none" stroke-width="1" />
<rect x="673.00" y="123.10" width="6.00" height="6.00" fill="#ff2418" stroke="none" stroke-width="1" />
<rect x="673.00" y="62.27" width="6.00" height="6.00" fill="#ff2418" stroke="none" stroke-width="1" />
<rect x="673.00" y="106.76" width="6.00" height="6.00" fill="#ff2418" stroke="none" stroke-width="1" />
<rect x="673.00" y="114.02" width="6.00" height="6.00" fill="#ff2418" stroke="none" stroke-width="1" />
<rect x="673.00" y="144.90" width="6.00" height="6.00" fill="#ff2418" stroke="none" stroke-width="1" />
<rect x="673.00" y="102.22" width="6.00" height="6.00" fill="#ff2418" stroke="none" stroke-width="1" />
<rect x="673.00" y="135.82" width="6.00" height="6.00" fill="#ff2418" stroke="none" stroke-width="1" />
<rect x="673.00" y="152.16" width="6.00" height="6.00" fill="#ff2418" stroke="none" stroke-width="1" />
<rect x="673.00" y="108.58" width="6.00" height="6.00" fill="#ff2418" stroke="none" stroke-width="1" />
<rect x="673.00" y="141.26" width="6.00" height="6.00" fill="#ff2418" stroke="none" stroke-width="1" />
<rect x="673.00" y="125.83" width="6.00" height="6.00" fill="#ff2418" stroke="none" stroke-width="1" />
<rect x="673.00" y="155.79" width="6.00" height="6.00" fill="#ff2418" stroke="none" stroke-width="1" />
<rect x="673.00" y="143.08" width="6.00" height="6.00" fill="#ff2418" stroke="none" stroke-width="1" />
<rect x="673.00" y="99.50" width="6.00" height="6.00" fill="#ff2418" stroke="none" stroke-width="1" />
<rect x="673.00" y="157.61" width="6.00" height="6.00" fill="#ff2418" stroke="none" stroke-width="1" />
<rect x="673.00" y="147.62" width="6.00" height="6.00" fill="#ff2418" stroke="none" stroke-width="1" />
<rect x="673.00" y="163.96" width="6.00" height="6.00" fill="#ff2418" stroke="none" stroke-width="1" />
<rect x="673.00" y="165.78" width="6.00" height="6.00" fill="#ff2418" stroke="none" stroke-width="1" />
<rect x="673.00" y="115.84" width="6.00" height="6.00" fill="#ff2418" stroke="none" stroke-width="1" />
<rect x="673.00" y="153.98" width="6.00" height="6.00" fill="#ff2418" stroke="none" stroke-width="1" />
<rect x="673.00" y="160.33" width="6.00" height="6.00" fill="#ff2418" stroke="none" stroke-width="1" />
<text x="7.30" y="232.80" font-size="10.5" text-anchor="start" fill="#111" transform="translate(0 229.12) scale(1 1.1) translate(0 -229.12)" >C</text>
<defs>
<filter id="spkT" x="0" y="0" width="1" height="1" color-interpolation-filters="sRGB">
  <feTurbulence type="fractalNoise" baseFrequency="1.1" numOctaves="1" seed="4" result="n"/>
  <feColorMatrix in="n" type="matrix" values="0 0 0 0 0.70  0 0 0 0 0.60  0 0 0 0 0.56  2.6 0 0 0 -0.8" result="s"/>
  <feComposite in="s" in2="SourceGraphic" operator="in"/>
</filter>
<filter id="strk" x="0" y="0" width="1" height="1" color-interpolation-filters="sRGB">
  <feTurbulence type="turbulence" baseFrequency="0.045 0.11" numOctaves="2" seed="9" result="n"/>
  <feColorMatrix in="n" type="matrix" values="0 0 0 0 0.91  0 0 0 0 0.91  0 0 0 0 0.87  -12 0 0 0 1.4" result="s"/>
  <feComposite in="s" in2="SourceGraphic" operator="in"/>
</filter>
<filter id="spkA" x="0" y="0" width="1" height="1" color-interpolation-filters="sRGB">
  <feTurbulence type="fractalNoise" baseFrequency="0.9" numOctaves="1" seed="11" result="n"/>
  <feColorMatrix in="n" type="matrix" values="0 0 0 0 0.55  0 0 0 0 0.48  0 0 0 0 0.46  2.6 0 0 0 -1.55" result="s"/>
  <feComposite in="s" in2="SourceGraphic" operator="in"/>
</filter>
<clipPath id="cT"><circle cx="62.2" cy="285.9" r="45"/></clipPath>
<clipPath id="bxT"><rect x="124.9" y="255.2" width="100.7" height="61.3"/></clipPath>
<filter id="spkB" x="0" y="0" width="1" height="1" color-interpolation-filters="sRGB">
  <feTurbulence type="fractalNoise" baseFrequency="0.55" numOctaves="1" seed="6" result="n"/>
  <feColorMatrix in="n" type="matrix" values="0 0 0 0 0.61  0 0 0 0 0.54  0 0 0 0 0.50  3.5 0 0 0 -1.1" result="s"/>
  <feComposite in="s" in2="SourceGraphic" operator="in"/>
</filter>
<filter id="strkB" x="0" y="0" width="1" height="1" color-interpolation-filters="sRGB">
  <feTurbulence type="turbulence" baseFrequency="0.03 0.08" numOctaves="2" seed="21" result="n"/>
  <feColorMatrix in="n" type="matrix" values="0 0 0 0 0.78  0 0 0 0 0.79  0 0 0 0 0.76  -16 0 0 0 1.5" result="s"/>
  <feComposite in="s" in2="SourceGraphic" operator="in"/>
</filter>
<clipPath id="cA"><circle cx="65.7" cy="376.3" r="45"/></clipPath>
</defs>
<circle cx="62.20" cy="285.90" r="45" fill="#e8e3db" />
<g clip-path="url(#cT)">
<rect x="17.00" y="240.00" width="91.00" height="92.00" fill="#000" stroke="none" stroke-width="1" filter="url(#spkT)"/>
<g transform="rotate(-35 62 286)">
<rect x="-10.00" y="230.00" width="150.00" height="115.00" fill="#000" stroke="none" stroke-width="1" filter="url(#strk)"/>
</g></g>
<circle cx="62.2" cy="285.9" r="44.6" fill="none" stroke="#1e1e1e" stroke-width="1.3"/>
<rect x="124.90" y="255.20" width="100.70" height="61.30" fill="#b0b0aa" stroke="none" stroke-width="1" />
<rect x="124.90" y="255.20" width="100.70" height="61.30" fill="#000" stroke="none" stroke-width="1" filter="url(#spkB)"/>
<g clip-path="url(#bxT)"><g transform="rotate(-20 175 286)">
<rect x="110.00" y="235.00" width="130.00" height="100.00" fill="#000" stroke="none" stroke-width="1" filter="url(#strkB)" opacity="0.7"/>
</g></g>
<rect x="124.90" y="255.20" width="100.70" height="61.30" fill="none" stroke="#2a2a2a" stroke-width="1.3" />
<rect x="46.80" y="294.40" width="23.80" height="11.40" fill="none" stroke="#1a1a1a" stroke-width="1.3" />
<line x1="70.60" y1="294.40" x2="124.90" y2="255.20" stroke="#1a1a1a" stroke-width="0.9" />
<line x1="70.60" y1="305.80" x2="124.90" y2="316.50" stroke="#1a1a1a" stroke-width="0.9" />
<text x="189.80" y="308.80" font-size="10.2" text-anchor="start" fill="#111" transform="translate(0 305.23) scale(1 1.1) translate(0 -305.23)" >100 μm</text>
<line x1="209.80" y1="311.80" x2="220.00" y2="311.80" stroke="#111" stroke-width="1.5" />
<text x="0" y="0" font-size="11.2" text-anchor="middle" fill="#111" transform="translate(9.60,287.40) rotate(-90)" >Tumor</text>
<circle cx="65.70" cy="376.30" r="45" fill="#ebe8e0" />
<g clip-path="url(#cA)">
<rect x="20.00" y="331.00" width="92.00" height="92.00" fill="#000" stroke="none" stroke-width="1" filter="url(#spkA)"/>
</g>
<circle cx="65.7" cy="376.3" r="44.6" fill="none" stroke="#1e1e1e" stroke-width="1.3"/>
<rect x="126.30" y="337.00" width="99.30" height="60.80" fill="#c3c3bc" stroke="none" stroke-width="1" />
<rect x="126.30" y="337.00" width="99.30" height="60.80" fill="#000" stroke="none" stroke-width="1" filter="url(#spkA)"/>
<rect x="126.30" y="337.00" width="99.30" height="60.80" fill="none" stroke="#2a2a2a" stroke-width="1.3" />
<rect x="59.20" y="387.40" width="23.50" height="11.90" fill="none" stroke="#1a1a1a" stroke-width="1.3" />
<line x1="82.70" y1="387.40" x2="126.30" y2="337.00" stroke="#1a1a1a" stroke-width="1.1" />
<line x1="82.70" y1="399.30" x2="126.30" y2="397.80" stroke="#1a1a1a" stroke-width="1.1" />
<text x="190.20" y="386.00" font-size="10.2" text-anchor="start" fill="#111" transform="translate(0 382.43) scale(1 1.1) translate(0 -382.43)" >100 μm</text>
<line x1="209.50" y1="390.40" x2="219.00" y2="390.40" stroke="#111" stroke-width="1.5" />
<text x="0" y="0" font-size="11.2" text-anchor="middle" fill="#111" transform="translate(10.80,377.30) rotate(-90)" >Adjacent</text>
<text x="231.30" y="232.60" font-size="10" text-anchor="start" fill="#111" transform="translate(0 229.10) scale(1 1.1) translate(0 -229.10)" >D</text>
<line x1="269.00" y1="247.00" x2="269.00" y2="406.00" stroke="#1a1a1a" stroke-width="1.3" />
<line x1="268.40" y1="405.40" x2="681.50" y2="405.40" stroke="#1a1a1a" stroke-width="1.3" />
<line x1="261.20" y1="247.80" x2="269.00" y2="247.80" stroke="#1a1a1a" stroke-width="1.3" />
<text x="259.50" y="251.50" font-size="11.2" text-anchor="end" fill="#111" transform="translate(0 247.58) scale(1 1.1) translate(0 -247.58)" >3</text>
<line x1="261.20" y1="279.30" x2="269.00" y2="279.30" stroke="#1a1a1a" stroke-width="1.3" />
<text x="259.50" y="283.00" font-size="11.2" text-anchor="end" fill="#111" transform="translate(0 279.08) scale(1 1.1) translate(0 -279.08)" >2</text>
<line x1="261.20" y1="310.80" x2="269.00" y2="310.80" stroke="#1a1a1a" stroke-width="1.3" />
<text x="259.50" y="314.50" font-size="11.2" text-anchor="end" fill="#111" transform="translate(0 310.58) scale(1 1.1) translate(0 -310.58)" >1</text>
<line x1="261.20" y1="342.30" x2="269.00" y2="342.30" stroke="#1a1a1a" stroke-width="1.3" />
<text x="259.50" y="346.00" font-size="11.2" text-anchor="end" fill="#111" transform="translate(0 342.08) scale(1 1.1) translate(0 -342.08)" >0</text>
<line x1="261.20" y1="373.80" x2="269.00" y2="373.80" stroke="#1a1a1a" stroke-width="1.3" />
<text x="259.50" y="377.50" font-size="11.2" text-anchor="end" fill="#111" transform="translate(0 373.58) scale(1 1.1) translate(0 -373.58)" >-1</text>
<line x1="261.20" y1="405.30" x2="269.00" y2="405.30" stroke="#1a1a1a" stroke-width="1.3" />
<text x="259.50" y="409.00" font-size="11.2" text-anchor="end" fill="#111" transform="translate(0 405.08) scale(1 1.1) translate(0 -405.08)" >-2</text>
<rect x="270.25" y="342.30" width="3.10" height="36.54" fill="#0a0a0a" stroke="none" stroke-width="1" />
<rect x="274.83" y="342.30" width="3.10" height="34.96" fill="#0a0a0a" stroke="none" stroke-width="1" />
<rect x="279.42" y="342.30" width="3.10" height="33.70" fill="#0a0a0a" stroke="none" stroke-width="1" />
<rect x="284.00" y="342.30" width="3.10" height="16.06" fill="#0a0a0a" stroke="none" stroke-width="1" />
<rect x="288.59" y="342.30" width="3.10" height="14.81" fill="#0a0a0a" stroke="none" stroke-width="1" />
<rect x="293.18" y="342.30" width="3.10" height="13.86" fill="#0a0a0a" stroke="none" stroke-width="1" />
<rect x="297.76" y="342.30" width="3.10" height="13.55" fill="#0a0a0a" stroke="none" stroke-width="1" />
<rect x="302.34" y="342.30" width="3.10" height="12.92" fill="#0a0a0a" stroke="none" stroke-width="1" />
<rect x="306.93" y="342.30" width="3.10" height="11.65" fill="#0a0a0a" stroke="none" stroke-width="1" />
<rect x="311.51" y="342.30" width="3.10" height="8.82" fill="#0a0a0a" stroke="none" stroke-width="1" />
<rect x="316.10" y="342.30" width="3.10" height="5.67" fill="#0a0a0a" stroke="none" stroke-width="1" />
<rect x="320.69" y="342.30" width="3.10" height="4.73" fill="#0a0a0a" stroke="none" stroke-width="1" />
<rect x="325.27" y="342.30" width="3.10" height="4.41" fill="#0a0a0a" stroke="none" stroke-width="1" />
<rect x="329.86" y="342.30" width="3.10" height="3.78" fill="#0a0a0a" stroke="none" stroke-width="1" />
<rect x="334.44" y="342.30" width="3.10" height="2.52" fill="#0a0a0a" stroke="none" stroke-width="1" />
<rect x="339.03" y="342.30" width="3.10" height="1.57" fill="#0a0a0a" stroke="none" stroke-width="1" />
<rect x="343.61" y="342.30" width="3.10" height="1.26" fill="#0a0a0a" stroke="none" stroke-width="1" />
<rect x="348.19" y="342.30" width="3.10" height="0.94" fill="#0a0a0a" stroke="none" stroke-width="1" />
<rect x="352.78" y="341.67" width="3.10" height="0.63" fill="#0a0a0a" stroke="none" stroke-width="1" />
<rect x="357.37" y="340.73" width="3.10" height="1.57" fill="#0a0a0a" stroke="none" stroke-width="1" />
<rect x="361.95" y="340.10" width="3.10" height="2.20" fill="#0a0a0a" stroke="none" stroke-width="1" />
<rect x="366.54" y="339.78" width="3.10" height="2.52" fill="#0a0a0a" stroke="none" stroke-width="1" />
<rect x="371.12" y="338.52" width="3.10" height="3.78" fill="#0a0a0a" stroke="none" stroke-width="1" />
<rect x="375.70" y="337.57" width="3.10" height="4.73" fill="#0a0a0a" stroke="none" stroke-width="1" />
<rect x="380.29" y="336.63" width="3.10" height="5.67" fill="#0a0a0a" stroke="none" stroke-width="1" />
<rect x="384.88" y="336.63" width="3.10" height="5.67" fill="#0a0a0a" stroke="none" stroke-width="1" />
<rect x="389.46" y="336.63" width="3.10" height="5.67" fill="#0a0a0a" stroke="none" stroke-width="1" />
<rect x="394.05" y="335.69" width="3.10" height="6.62" fill="#0a0a0a" stroke="none" stroke-width="1" />
<rect x="398.63" y="335.69" width="3.10" height="6.62" fill="#0a0a0a" stroke="none" stroke-width="1" />
<rect x="403.21" y="335.69" width="3.10" height="6.62" fill="#0a0a0a" stroke="none" stroke-width="1" />
<rect x="407.80" y="334.43" width="3.10" height="7.88" fill="#0a0a0a" stroke="none" stroke-width="1" />
<rect x="412.38" y="333.80" width="3.10" height="8.50" fill="#0a0a0a" stroke="none" stroke-width="1" />
<rect x="416.97" y="333.80" width="3.10" height="8.50" fill="#0a0a0a" stroke="none" stroke-width="1" />
<rect x="421.56" y="333.80" width="3.10" height="8.50" fill="#0a0a0a" stroke="none" stroke-width="1" />
<rect x="426.14" y="333.48" width="3.10" height="8.82" fill="#0a0a0a" stroke="none" stroke-width="1" />
<rect x="430.72" y="331.59" width="3.10" height="10.71" fill="#0a0a0a" stroke="none" stroke-width="1" />
<rect x="435.31" y="331.59" width="3.10" height="10.71" fill="#0a0a0a" stroke="none" stroke-width="1" />
<rect x="439.90" y="330.33" width="3.10" height="11.97" fill="#0a0a0a" stroke="none" stroke-width="1" />
<rect x="444.48" y="328.75" width="3.10" height="13.55" fill="#0a0a0a" stroke="none" stroke-width="1" />
<rect x="449.06" y="328.44" width="3.10" height="13.86" fill="#0a0a0a" stroke="none" stroke-width="1" />
<rect x="453.65" y="328.44" width="3.10" height="13.86" fill="#0a0a0a" stroke="none" stroke-width="1" />
<rect x="458.23" y="327.81" width="3.10" height="14.49" fill="#0a0a0a" stroke="none" stroke-width="1" />
<rect x="462.82" y="327.50" width="3.10" height="14.81" fill="#0a0a0a" stroke="none" stroke-width="1" />
<rect x="467.41" y="326.87" width="3.10" height="15.44" fill="#0a0a0a" stroke="none" stroke-width="1" />
<rect x="471.99" y="326.87" width="3.10" height="15.44" fill="#0a0a0a" stroke="none" stroke-width="1" />
<rect x="476.57" y="324.66" width="3.10" height="17.64" fill="#0a0a0a" stroke="none" stroke-width="1" />
<rect x="481.16" y="324.35" width="3.10" height="17.95" fill="#0a0a0a" stroke="none" stroke-width="1" />
<rect x="485.75" y="324.35" width="3.10" height="17.95" fill="#0a0a0a" stroke="none" stroke-width="1" />
<rect x="490.33" y="322.77" width="3.10" height="19.53" fill="#0a0a0a" stroke="none" stroke-width="1" />
<rect x="494.92" y="322.77" width="3.10" height="19.53" fill="#0a0a0a" stroke="none" stroke-width="1" />
<rect x="499.50" y="322.77" width="3.10" height="19.53" fill="#0a0a0a" stroke="none" stroke-width="1" />
<rect x="504.08" y="322.46" width="3.10" height="19.84" fill="#0a0a0a" stroke="none" stroke-width="1" />
<rect x="508.67" y="321.51" width="3.10" height="20.79" fill="#0a0a0a" stroke="none" stroke-width="1" />
<rect x="513.26" y="320.56" width="3.10" height="21.74" fill="#0a0a0a" stroke="none" stroke-width="1" />
<rect x="517.84" y="317.42" width="3.10" height="24.88" fill="#0a0a0a" stroke="none" stroke-width="1" />
<rect x="522.43" y="317.42" width="3.10" height="24.88" fill="#0a0a0a" stroke="none" stroke-width="1" />
<rect x="527.01" y="317.10" width="3.10" height="25.20" fill="#0a0a0a" stroke="none" stroke-width="1" />
<rect x="531.60" y="315.84" width="3.10" height="26.46" fill="#0a0a0a" stroke="none" stroke-width="1" />
<rect x="536.18" y="315.53" width="3.10" height="26.77" fill="#0a0a0a" stroke="none" stroke-width="1" />
<rect x="540.77" y="315.21" width="3.10" height="27.09" fill="#0a0a0a" stroke="none" stroke-width="1" />
<rect x="545.35" y="315.21" width="3.10" height="27.09" fill="#0a0a0a" stroke="none" stroke-width="1" />
<rect x="549.94" y="315.21" width="3.10" height="27.09" fill="#0a0a0a" stroke="none" stroke-width="1" />
<rect x="554.52" y="313.32" width="3.10" height="28.98" fill="#0a0a0a" stroke="none" stroke-width="1" />
<rect x="559.11" y="311.43" width="3.10" height="30.87" fill="#0a0a0a" stroke="none" stroke-width="1" />
<rect x="563.69" y="311.12" width="3.10" height="31.19" fill="#0a0a0a" stroke="none" stroke-width="1" />
<rect x="568.28" y="310.80" width="3.10" height="31.50" fill="#0a0a0a" stroke="none" stroke-width="1" />
<rect x="572.86" y="310.80" width="3.10" height="31.50" fill="#0a0a0a" stroke="none" stroke-width="1" />
<rect x="577.45" y="309.86" width="3.10" height="32.44" fill="#0a0a0a" stroke="none" stroke-width="1" />
<rect x="582.03" y="309.54" width="3.10" height="32.76" fill="#0a0a0a" stroke="none" stroke-width="1" />
<rect x="586.62" y="308.91" width="3.10" height="33.39" fill="#0a0a0a" stroke="none" stroke-width="1" />
<rect x="591.20" y="308.28" width="3.10" height="34.02" fill="#0a0a0a" stroke="none" stroke-width="1" />
<rect x="595.79" y="307.97" width="3.10" height="34.33" fill="#0a0a0a" stroke="none" stroke-width="1" />
<rect x="600.37" y="307.02" width="3.10" height="35.28" fill="#0a0a0a" stroke="none" stroke-width="1" />
<rect x="604.96" y="306.08" width="3.10" height="36.22" fill="#0a0a0a" stroke="none" stroke-width="1" />
<rect x="609.54" y="306.08" width="3.10" height="36.22" fill="#0a0a0a" stroke="none" stroke-width="1" />
<rect x="614.12" y="305.76" width="3.10" height="36.54" fill="#0a0a0a" stroke="none" stroke-width="1" />
<rect x="618.71" y="305.76" width="3.10" height="36.54" fill="#0a0a0a" stroke="none" stroke-width="1" />
<rect x="623.30" y="305.76" width="3.10" height="36.54" fill="#0a0a0a" stroke="none" stroke-width="1" />
<rect x="627.88" y="303.24" width="3.10" height="39.06" fill="#0a0a0a" stroke="none" stroke-width="1" />
<rect x="632.47" y="298.83" width="3.10" height="43.47" fill="#0a0a0a" stroke="none" stroke-width="1" />
<rect x="637.05" y="298.83" width="3.10" height="43.47" fill="#0a0a0a" stroke="none" stroke-width="1" />
<rect x="641.63" y="297.57" width="3.10" height="44.73" fill="#0a0a0a" stroke="none" stroke-width="1" />
<rect x="646.22" y="297.25" width="3.10" height="45.05" fill="#0a0a0a" stroke="none" stroke-width="1" />
<rect x="650.81" y="297.25" width="3.10" height="45.05" fill="#0a0a0a" stroke="none" stroke-width="1" />
<rect x="655.39" y="297.25" width="3.10" height="45.05" fill="#0a0a0a" stroke="none" stroke-width="1" />
<rect x="659.98" y="294.11" width="3.10" height="48.19" fill="#555" stroke="none" stroke-width="1" />
<rect x="664.56" y="293.16" width="3.10" height="49.14" fill="#555" stroke="none" stroke-width="1" />
<rect x="669.14" y="287.18" width="3.10" height="55.12" fill="#0a0a0a" stroke="none" stroke-width="1" />
<rect x="673.73" y="277.10" width="3.10" height="65.20" fill="#0a0a0a" stroke="none" stroke-width="1" />
<rect x="678.32" y="273.00" width="3.10" height="69.30" fill="#0a0a0a" stroke="none" stroke-width="1" />
<line x1="271.80" y1="405.40" x2="271.80" y2="410.50" stroke="#1a1a1a" stroke-width="1.2" />
<text x="271.80" y="420.00" font-size="11.2" text-anchor="middle" fill="#111" transform="translate(0 416.08) scale(1 1.1) translate(0 -416.08)" >1</text>
<line x1="317.65" y1="405.40" x2="317.65" y2="410.50" stroke="#1a1a1a" stroke-width="1.2" />
<text x="317.65" y="420.00" font-size="11.2" text-anchor="middle" fill="#111" transform="translate(0 416.08) scale(1 1.1) translate(0 -416.08)" >11</text>
<line x1="363.50" y1="405.40" x2="363.50" y2="410.50" stroke="#1a1a1a" stroke-width="1.2" />
<text x="363.50" y="420.00" font-size="11.2" text-anchor="middle" fill="#111" transform="translate(0 416.08) scale(1 1.1) translate(0 -416.08)" >21</text>
<line x1="409.35" y1="405.40" x2="409.35" y2="410.50" stroke="#1a1a1a" stroke-width="1.2" />
<text x="409.35" y="420.00" font-size="11.2" text-anchor="middle" fill="#111" transform="translate(0 416.08) scale(1 1.1) translate(0 -416.08)" >31</text>
<line x1="455.20" y1="405.40" x2="455.20" y2="410.50" stroke="#1a1a1a" stroke-width="1.2" />
<text x="455.20" y="420.00" font-size="11.2" text-anchor="middle" fill="#111" transform="translate(0 416.08) scale(1 1.1) translate(0 -416.08)" >41</text>
<line x1="501.05" y1="405.40" x2="501.05" y2="410.50" stroke="#1a1a1a" stroke-width="1.2" />
<text x="501.05" y="420.00" font-size="11.2" text-anchor="middle" fill="#111" transform="translate(0 416.08) scale(1 1.1) translate(0 -416.08)" >51</text>
<line x1="546.90" y1="405.40" x2="546.90" y2="410.50" stroke="#1a1a1a" stroke-width="1.2" />
<text x="546.90" y="420.00" font-size="11.2" text-anchor="middle" fill="#111" transform="translate(0 416.08) scale(1 1.1) translate(0 -416.08)" >61</text>
<line x1="592.75" y1="405.40" x2="592.75" y2="410.50" stroke="#1a1a1a" stroke-width="1.2" />
<text x="592.75" y="420.00" font-size="11.2" text-anchor="middle" fill="#111" transform="translate(0 416.08) scale(1 1.1) translate(0 -416.08)" >71</text>
<line x1="638.60" y1="405.40" x2="638.60" y2="410.50" stroke="#1a1a1a" stroke-width="1.2" />
<text x="638.60" y="420.00" font-size="11.2" text-anchor="middle" fill="#111" transform="translate(0 416.08) scale(1 1.1) translate(0 -416.08)" >81</text>
<line x1="679.87" y1="405.40" x2="679.87" y2="410.50" stroke="#1a1a1a" stroke-width="1.2" />
<text x="679.87" y="420.00" font-size="11.2" text-anchor="middle" fill="#111" transform="translate(0 416.08) scale(1 1.1) translate(0 -416.08)" >90</text>
<text x="467.80" y="262.60" font-size="11.2" text-anchor="middle" fill="#111" transform="translate(0 258.68) scale(1 1.1) translate(0 -258.68)" >Tumor/Adjacent &gt; 1 (83%)</text>
<text x="467.80" y="276.40" font-size="11.2" text-anchor="middle" fill="#111" transform="translate(0 272.48) scale(1 1.1) translate(0 -272.48)" >n = 90 paires</text>
<text x="0" y="0" font-size="11.2" text-anchor="middle" fill="#111" transform="translate(246.80,326.00) rotate(-90)" >Fold Change(Tumor/Adjacent)  log2</text>
<text x="7.50" y="448.20" font-size="10.2" text-anchor="start" fill="#111" transform="translate(0 444.63) scale(1 1.1) translate(0 -444.63)" >E</text>
<line x1="33.30" y1="466.40" x2="33.30" y2="607.20" stroke="#1a1a1a" stroke-width="1.4" />
<line x1="32.60" y1="606.50" x2="218.50" y2="606.50" stroke="#1a1a1a" stroke-width="1.4" />
<line x1="28.00" y1="606.50" x2="33.30" y2="606.50" stroke="#1a1a1a" stroke-width="1.4" />
<text x="26.60" y="610.20" font-size="11.2" text-anchor="end" fill="#111" transform="translate(0 606.28) scale(1 1.1) translate(0 -606.28)" >0.0</text>
<line x1="28.00" y1="578.60" x2="33.30" y2="578.60" stroke="#1a1a1a" stroke-width="1.4" />
<text x="26.60" y="582.30" font-size="11.2" text-anchor="end" fill="#111" transform="translate(0 578.38) scale(1 1.1) translate(0 -578.38)" >0.2</text>
<line x1="28.00" y1="550.70" x2="33.30" y2="550.70" stroke="#1a1a1a" stroke-width="1.4" />
<text x="26.60" y="554.40" font-size="11.2" text-anchor="end" fill="#111" transform="translate(0 550.48) scale(1 1.1) translate(0 -550.48)" >0.4</text>
<line x1="28.00" y1="522.80" x2="33.30" y2="522.80" stroke="#1a1a1a" stroke-width="1.4" />
<text x="26.60" y="526.50" font-size="11.2" text-anchor="end" fill="#111" transform="translate(0 522.58) scale(1 1.1) translate(0 -522.58)" >0.6</text>
<line x1="28.00" y1="494.90" x2="33.30" y2="494.90" stroke="#1a1a1a" stroke-width="1.4" />
<text x="26.60" y="498.60" font-size="11.2" text-anchor="end" fill="#111" transform="translate(0 494.68) scale(1 1.1) translate(0 -494.68)" >0.8</text>
<line x1="28.00" y1="467.00" x2="33.30" y2="467.00" stroke="#1a1a1a" stroke-width="1.4" />
<text x="26.60" y="470.70" font-size="11.2" text-anchor="end" fill="#111" transform="translate(0 466.78) scale(1 1.1) translate(0 -466.78)" >1.0</text>
<text x="0" y="0" font-size="11.2" text-anchor="middle" fill="#111" transform="translate(8.60,542.50) rotate(-90)" >FBL  expression</text>
<line x1="86.00" y1="606.50" x2="86.00" y2="611.00" stroke="#1a1a1a" stroke-width="1.4" />
<line x1="165.20" y1="606.50" x2="165.20" y2="611.00" stroke="#1a1a1a" stroke-width="1.4" />
<text x="85.80" y="625.60" font-size="11.2" text-anchor="middle" fill="#111" transform="translate(0 621.68) scale(1 1.1) translate(0 -621.68)" >Tumor</text>
<text x="85.80" y="639.40" font-size="11.2" text-anchor="middle" fill="#111" transform="translate(0 635.48) scale(1 1.1) translate(0 -635.48)" >(n = 90)</text>
<text x="167.00" y="625.60" font-size="11.2" text-anchor="middle" fill="#111" transform="translate(0 621.68) scale(1 1.1) translate(0 -621.68)" >Adjacent</text>
<text x="167.00" y="639.40" font-size="11.2" text-anchor="middle" fill="#111" transform="translate(0 635.48) scale(1 1.1) translate(0 -635.48)" >(n = 90)</text>
<line x1="83.10" y1="465.70" x2="170.20" y2="465.70" stroke="#222" stroke-width="1.3" />
<text x="128.80" y="460.50" font-size="11.5" text-anchor="middle" fill="#111" transform="translate(0 456.48) scale(1 1.1) translate(0 -456.48)" >***</text>
<line x1="60.10" y1="527.90" x2="112.70" y2="527.90" stroke="#222" stroke-width="1.4" />
<circle cx="83.40" cy="477.57" r="2.45" fill="#ff1a1a" />
<circle cx="72.88" cy="480.43" r="2.45" fill="#ff1a1a" />
<circle cx="93.82" cy="480.43" r="2.45" fill="#ff1a1a" />
<circle cx="99.43" cy="481.25" r="2.45" fill="#ff1a1a" />
<circle cx="88.71" cy="482.27" r="2.45" fill="#ff1a1a" />
<circle cx="77.98" cy="484.72" r="2.45" fill="#ff1a1a" />
<circle cx="83.40" cy="484.51" r="2.45" fill="#ff1a1a" />
<circle cx="67.26" cy="488.60" r="2.45" fill="#ff1a1a" />
<circle cx="99.43" cy="487.07" r="2.45" fill="#ff1a1a" />
<circle cx="72.88" cy="491.46" r="2.45" fill="#ff1a1a" />
<circle cx="77.98" cy="490.44" r="2.45" fill="#ff1a1a" />
<circle cx="83.40" cy="489.83" r="2.45" fill="#ff1a1a" />
<circle cx="88.71" cy="490.44" r="2.45" fill="#ff1a1a" />
<circle cx="93.82" cy="491.87" r="2.45" fill="#ff1a1a" />
<circle cx="99.43" cy="493.50" r="2.45" fill="#ff1a1a" />
<circle cx="104.85" cy="490.44" r="2.45" fill="#ff1a1a" />
<circle cx="67.26" cy="498.30" r="2.45" fill="#ff1a1a" />
<circle cx="77.98" cy="497.59" r="2.45" fill="#ff1a1a" />
<circle cx="83.40" cy="495.96" r="2.45" fill="#ff1a1a" />
<circle cx="104.85" cy="496.77" r="2.45" fill="#ff1a1a" />
<circle cx="110.16" cy="496.98" r="2.45" fill="#ff1a1a" />
<circle cx="72.88" cy="501.37" r="2.45" fill="#ff1a1a" />
<circle cx="88.71" cy="500.35" r="2.45" fill="#ff1a1a" />
<circle cx="93.82" cy="500.35" r="2.45" fill="#ff1a1a" />
<circle cx="99.43" cy="500.65" r="2.45" fill="#ff1a1a" />
<circle cx="77.98" cy="504.74" r="2.45" fill="#ff1a1a" />
<circle cx="99.43" cy="506.48" r="2.45" fill="#ff1a1a" />
<circle cx="72.88" cy="509.54" r="2.45" fill="#ff1a1a" />
<circle cx="77.98" cy="511.28" r="2.45" fill="#ff1a1a" />
<circle cx="83.40" cy="513.32" r="2.45" fill="#ff1a1a" />
<circle cx="93.82" cy="511.07" r="2.45" fill="#ff1a1a" />
<circle cx="99.43" cy="514.14" r="2.45" fill="#ff1a1a" />
<circle cx="104.85" cy="513.63" r="2.45" fill="#ff1a1a" />
<circle cx="67.26" cy="518.02" r="2.45" fill="#ff1a1a" />
<circle cx="72.88" cy="516.18" r="2.45" fill="#ff1a1a" />
<circle cx="77.98" cy="517.41" r="2.45" fill="#ff1a1a" />
<circle cx="83.40" cy="519.24" r="2.45" fill="#ff1a1a" />
<circle cx="88.71" cy="522.31" r="2.45" fill="#ff1a1a" />
<circle cx="93.82" cy="521.08" r="2.45" fill="#ff1a1a" />
<circle cx="99.43" cy="519.45" r="2.45" fill="#ff1a1a" />
<circle cx="104.85" cy="521.49" r="2.45" fill="#ff1a1a" />
<circle cx="72.88" cy="526.91" r="2.45" fill="#ff1a1a" />
<circle cx="77.98" cy="524.56" r="2.45" fill="#ff1a1a" />
<circle cx="83.40" cy="527.93" r="2.45" fill="#ff1a1a" />
<circle cx="88.71" cy="528.23" r="2.45" fill="#ff1a1a" />
<circle cx="93.82" cy="526.91" r="2.45" fill="#ff1a1a" />
<circle cx="99.43" cy="525.88" r="2.45" fill="#ff1a1a" />
<circle cx="83.40" cy="534.60" r="2.45" fill="#ff1a1a" />
<circle cx="93.82" cy="536.13" r="2.45" fill="#ff1a1a" />
<circle cx="99.43" cy="536.33" r="2.45" fill="#ff1a1a" />
<circle cx="88.71" cy="540.01" r="2.45" fill="#ff1a1a" />
<circle cx="67.26" cy="544.10" r="2.45" fill="#ff1a1a" />
<circle cx="72.88" cy="542.26" r="2.45" fill="#ff1a1a" />
<circle cx="77.98" cy="545.32" r="2.45" fill="#ff1a1a" />
<circle cx="83.40" cy="544.81" r="2.45" fill="#ff1a1a" />
<circle cx="88.71" cy="546.14" r="2.45" fill="#ff1a1a" />
<circle cx="93.82" cy="543.79" r="2.45" fill="#ff1a1a" />
<circle cx="99.43" cy="542.26" r="2.45" fill="#ff1a1a" />
<circle cx="104.85" cy="544.30" r="2.45" fill="#ff1a1a" />
<circle cx="77.98" cy="550.94" r="2.45" fill="#ff1a1a" />
<circle cx="93.82" cy="549.41" r="2.45" fill="#ff1a1a" />
<circle cx="99.43" cy="548.39" r="2.45" fill="#ff1a1a" />
<circle cx="88.71" cy="552.47" r="2.45" fill="#ff1a1a" />
<circle cx="99.43" cy="554.51" r="2.45" fill="#ff1a1a" />
<circle cx="61.95" cy="560.85" r="2.45" fill="#ff1a1a" />
<circle cx="67.26" cy="560.64" r="2.45" fill="#ff1a1a" />
<circle cx="72.88" cy="562.18" r="2.45" fill="#ff1a1a" />
<circle cx="77.98" cy="560.64" r="2.45" fill="#ff1a1a" />
<circle cx="83.40" cy="561.66" r="2.45" fill="#ff1a1a" />
<circle cx="88.71" cy="559.62" r="2.45" fill="#ff1a1a" />
<circle cx="93.82" cy="560.13" r="2.45" fill="#ff1a1a" />
<circle cx="99.43" cy="561.66" r="2.45" fill="#ff1a1a" />
<circle cx="104.85" cy="561.66" r="2.45" fill="#ff1a1a" />
<circle cx="110.16" cy="559.11" r="2.45" fill="#ff1a1a" />
<circle cx="77.98" cy="567.79" r="2.45" fill="#ff1a1a" />
<circle cx="83.40" cy="567.28" r="2.45" fill="#ff1a1a" />
<circle cx="88.71" cy="565.24" r="2.45" fill="#ff1a1a" />
<circle cx="93.82" cy="565.75" r="2.45" fill="#ff1a1a" />
<circle cx="99.43" cy="568.00" r="2.45" fill="#ff1a1a" />
<circle cx="72.88" cy="570.35" r="2.45" fill="#ff1a1a" />
<circle cx="77.98" cy="573.92" r="2.45" fill="#ff1a1a" />
<circle cx="93.82" cy="571.37" r="2.45" fill="#ff1a1a" />
<circle cx="99.43" cy="574.74" r="2.45" fill="#ff1a1a" />
<circle cx="72.88" cy="577.19" r="2.45" fill="#ff1a1a" />
<circle cx="77.98" cy="579.85" r="2.45" fill="#ff1a1a" />
<circle cx="83.40" cy="578.01" r="2.45" fill="#ff1a1a" />
<circle cx="88.71" cy="580.26" r="2.45" fill="#ff1a1a" />
<circle cx="93.82" cy="579.54" r="2.45" fill="#ff1a1a" />
<circle cx="86.15" cy="588.22" r="2.45" fill="#ff1a1a" />
<circle cx="86.15" cy="594.56" r="2.45" fill="#ff1a1a" />
<path d="M164.78,489.04L169.58,489.04L167.18,493.84ZM157.11,493.12L161.91,493.12L159.51,497.92ZM161.00,494.65L165.80,494.65L163.40,499.45ZM164.78,497.21L169.58,497.21L167.18,502.01ZM154.05,503.85L158.85,503.85L156.45,508.65ZM157.11,503.85L161.91,503.85L159.51,508.65ZM171.93,503.85L176.73,503.85L174.33,508.65ZM161.00,508.95L165.80,508.95L163.40,513.75ZM164.78,507.93L169.58,507.93L167.18,512.73ZM168.35,508.44L173.15,508.44L170.75,513.24ZM157.11,511.51L161.91,511.51L159.51,516.31ZM161.00,517.13L165.80,517.13L163.40,521.93ZM168.35,515.59L173.15,515.59L170.75,520.39ZM171.93,518.66L176.73,518.66L174.33,523.46ZM154.05,519.17L158.85,519.17L156.45,523.97ZM157.11,519.17L161.91,519.17L159.51,523.97ZM175.50,522.23L180.30,522.23L177.90,527.03ZM161.00,524.28L165.80,524.28L163.40,529.08ZM164.78,524.28L169.58,524.28L167.18,529.08ZM168.35,524.28L173.15,524.28L170.75,529.08ZM171.93,524.28L176.73,524.28L174.33,529.08ZM154.05,526.32L158.85,526.32L156.45,531.12ZM157.11,526.83L161.91,526.83L159.51,531.63ZM161.00,530.40L165.80,530.40L163.40,535.20ZM164.78,529.38L169.58,529.38L167.18,534.18ZM168.35,530.40L173.15,530.40L170.75,535.20ZM171.93,531.43L176.73,531.43L174.33,536.23ZM154.05,531.94L158.85,531.94L156.45,536.74ZM157.11,537.04L161.91,537.04L159.51,541.84ZM161.00,537.04L165.80,537.04L163.40,541.84ZM164.78,535.51L169.58,535.51L167.18,540.31ZM168.35,537.55L173.15,537.55L170.75,542.35ZM157.22,538.82L162.02,538.82L159.62,543.62ZM160.80,538.82L165.60,538.82L163.20,543.62ZM168.46,538.82L173.26,538.82L170.86,543.62ZM153.65,542.91L158.45,542.91L156.05,547.71ZM164.88,543.93L169.68,543.93L167.28,548.73ZM172.03,545.46L176.83,545.46L174.43,550.26ZM160.80,545.97L165.60,545.97L163.20,550.77ZM149.56,548.53L154.36,548.53L151.96,553.33ZM157.22,548.01L162.02,548.01L159.62,552.81ZM168.46,550.06L173.26,550.06L170.86,554.86ZM175.61,550.06L180.41,550.06L178.01,554.86ZM160.80,553.12L165.60,553.12L163.20,557.92ZM164.37,553.12L169.17,553.12L166.77,557.92ZM149.56,554.14L154.36,554.14L151.96,558.94ZM157.22,555.16L162.02,555.16L159.62,559.96ZM172.03,553.12L176.83,553.12L174.43,557.92ZM168.46,556.19L173.26,556.19L170.86,560.99ZM175.61,556.19L180.41,556.19L178.01,560.99ZM153.65,559.25L158.45,559.25L156.05,564.05ZM160.80,559.25L165.60,559.25L163.20,564.05ZM164.37,558.74L169.17,558.74L166.77,563.54ZM172.03,559.25L176.83,559.25L174.43,564.05ZM149.56,562.31L154.36,562.31L151.96,567.11ZM168.46,562.31L173.26,562.31L170.86,567.11ZM175.61,563.34L180.41,563.34L178.01,568.14ZM138.84,564.87L143.64,564.87L141.24,569.67ZM142.92,566.40L147.72,566.40L145.32,571.20ZM146.50,567.42L151.30,567.42L148.90,572.22ZM153.65,567.93L158.45,567.93L156.05,572.73ZM157.22,568.44L162.02,568.44L159.62,573.24ZM160.80,568.44L165.60,568.44L163.20,573.24ZM164.37,567.42L169.17,567.42L166.77,572.22ZM168.46,568.44L173.26,568.44L170.86,573.24ZM179.18,566.40L183.98,566.40L181.58,571.20ZM182.76,566.91L187.56,566.91L185.16,571.71ZM186.84,566.40L191.64,566.40L189.24,571.20ZM149.56,570.49L154.36,570.49L151.96,575.29ZM172.03,570.49L176.83,570.49L174.43,575.29ZM175.61,569.46L180.41,569.46L178.01,574.26ZM179.18,571.51L183.98,571.51L181.58,576.31ZM146.50,573.04L151.30,573.04L148.90,577.84ZM153.65,574.06L158.45,574.06L156.05,578.86ZM157.22,574.57L162.02,574.57L159.62,579.37ZM160.80,574.57L165.60,574.57L163.20,579.37ZM164.37,573.04L169.17,573.04L166.77,577.84ZM168.46,574.57L173.26,574.57L170.86,579.37ZM149.56,576.62L154.36,576.62L151.96,581.42ZM172.03,577.13L176.83,577.13L174.43,581.93ZM179.18,578.15L183.98,578.15L181.58,582.95ZM153.65,579.68L158.45,579.68L156.05,584.48ZM168.46,580.19L173.26,580.19L170.86,584.99ZM149.56,582.74L154.36,582.74L151.96,587.54ZM145.99,587.85L150.79,587.85L148.39,592.65ZM153.65,586.32L158.45,586.32L156.05,591.12ZM157.22,585.30L162.02,585.30L159.62,590.10ZM160.80,589.38L165.60,589.38L163.20,594.18ZM164.37,585.30L169.17,585.30L166.77,590.10ZM168.46,587.34L173.26,587.34L170.86,592.14ZM172.03,586.83L176.83,586.83L174.43,591.63ZM175.61,587.85L180.41,587.85L178.01,592.65ZM179.18,585.81L183.98,585.81L181.58,590.61Z" fill="#1414ff"/>
<line x1="139.00" y1="558.90" x2="191.80" y2="558.90" stroke="#222" stroke-width="1.4" />
<text x="231.30" y="448.30" font-size="10.2" text-anchor="start" fill="#111" transform="translate(0 444.73) scale(1 1.1) translate(0 -444.73)" >F</text>
<line x1="254.90" y1="476.00" x2="254.90" y2="606.20" stroke="#111" stroke-width="1.5" />
<line x1="254.20" y1="605.50" x2="440.00" y2="605.50" stroke="#111" stroke-width="1.5" />
<line x1="249.80" y1="605.50" x2="254.90" y2="605.50" stroke="#111" stroke-width="1.4" />
<line x1="251.80" y1="592.64" x2="254.90" y2="592.64" stroke="#111" stroke-width="1.4" />
<line x1="251.80" y1="579.78" x2="254.90" y2="579.78" stroke="#111" stroke-width="1.4" />
<line x1="251.80" y1="566.92" x2="254.90" y2="566.92" stroke="#111" stroke-width="1.4" />
<line x1="251.80" y1="554.06" x2="254.90" y2="554.06" stroke="#111" stroke-width="1.4" />
<line x1="249.80" y1="541.20" x2="254.90" y2="541.20" stroke="#111" stroke-width="1.4" />
<line x1="251.80" y1="528.34" x2="254.90" y2="528.34" stroke="#111" stroke-width="1.4" />
<line x1="251.80" y1="515.48" x2="254.90" y2="515.48" stroke="#111" stroke-width="1.4" />
<line x1="251.80" y1="502.62" x2="254.90" y2="502.62" stroke="#111" stroke-width="1.4" />
<line x1="251.80" y1="489.76" x2="254.90" y2="489.76" stroke="#111" stroke-width="1.4" />
<line x1="249.80" y1="476.90" x2="254.90" y2="476.90" stroke="#111" stroke-width="1.4" />
<text x="247.00" y="609.40" font-size="11.2" text-anchor="end" fill="#111" transform="translate(0 605.48) scale(1 1.1) translate(0 -605.48)" >0</text>
<text x="245.80" y="545.10" font-size="11.2" text-anchor="end" fill="#111" transform="translate(0 541.18) scale(1 1.1) translate(0 -541.18)" >50</text>
<text x="245.20" y="480.80" font-size="11.2" text-anchor="end" fill="#111" transform="translate(0 476.88) scale(1 1.1) translate(0 -476.88)" >100</text>
<line x1="254.30" y1="605.50" x2="254.30" y2="610.00" stroke="#111" stroke-width="1.4" />
<text x="254.30" y="622.50" font-size="11.2" text-anchor="middle" fill="#111" transform="translate(0 618.58) scale(1 1.1) translate(0 -618.58)" >0</text>
<line x1="300.55" y1="605.50" x2="300.55" y2="610.00" stroke="#111" stroke-width="1.4" />
<text x="300.55" y="625.00" font-size="11.2" text-anchor="middle" fill="#111" transform="translate(0 621.08) scale(1 1.1) translate(0 -621.08)" >20</text>
<line x1="346.80" y1="605.50" x2="346.80" y2="610.00" stroke="#111" stroke-width="1.4" />
<text x="346.80" y="623.50" font-size="11.2" text-anchor="middle" fill="#111" transform="translate(0 619.58) scale(1 1.1) translate(0 -619.58)" >40</text>
<line x1="393.05" y1="605.50" x2="393.05" y2="610.00" stroke="#111" stroke-width="1.4" />
<text x="393.05" y="623.50" font-size="11.2" text-anchor="middle" fill="#111" transform="translate(0 619.58) scale(1 1.1) translate(0 -619.58)" >60</text>
<line x1="439.30" y1="605.50" x2="439.30" y2="610.00" stroke="#111" stroke-width="1.4" />
<text x="439.30" y="622.50" font-size="11.2" text-anchor="middle" fill="#111" transform="translate(0 618.58) scale(1 1.1) translate(0 -618.58)" >80</text>
<text x="352.80" y="637.00" font-size="11.2" text-anchor="middle" fill="#111" textLength="112.8" lengthAdjust="spacing" transform="translate(0 633.08) scale(1 1.1) translate(0 -633.08)" >Survival    time (months)</text>
<text x="0" y="0" font-size="11.2" text-anchor="middle" fill="#111" transform="translate(231.80,545.00) rotate(-90)" >Percent survival</text>
<text x="270.80" y="587.90" font-size="11.2" text-anchor="start" fill="#111" transform="translate(0 583.98) scale(1 1.1) translate(0 -583.98)" font-style="italic">P</text>
<text x="277.60" y="587.90" font-size="11.2" text-anchor="start" fill="#111" transform="translate(0 583.98) scale(1 1.1) translate(0 -583.98)" >&lt;0.05</text>
<line x1="337.40" y1="482.60" x2="350.30" y2="482.60" stroke="#ff2020" stroke-width="1.4" />
<line x1="343.80" y1="480.50" x2="343.80" y2="484.00" stroke="#222" stroke-width="1.0" />
<text x="353.00" y="486.40" font-size="11.2" text-anchor="start" fill="#111" transform="translate(0 482.48) scale(1 1.1) translate(0 -482.48)" >FBL high (n = 23)</text>
<line x1="337.40" y1="500.20" x2="350.30" y2="500.20" stroke="#2020e0" stroke-width="1.4" />
<line x1="343.80" y1="498.10" x2="343.80" y2="501.60" stroke="#222" stroke-width="1.0" />
<text x="353.00" y="504.00" font-size="11.2" text-anchor="start" fill="#111" transform="translate(0 500.08) scale(1 1.1) translate(0 -500.08)" >FBL low  (n = 67)</text>
<polyline points="254.90,476.90 259.30,476.90 259.30,481.00 262.00,481.00 262.00,484.00 264.50,484.00 264.50,487.00 267.50,487.00 267.50,490.00 270.00,490.00 270.00,492.50 272.00,492.50 272.00,494.00 274.50,494.00 274.50,497.00 276.10,497.00 276.10,499.90 277.60,499.90 277.60,505.80 282.70,505.80 282.70,509.40 284.90,509.40 284.90,515.30 287.00,515.30 287.00,517.40 293.60,517.40 293.60,519.20 305.30,519.20 305.30,521.10 312.60,521.10 312.60,523.30 326.90,523.30 326.90,526.40 331.40,526.40 331.40,531.60 335.60,531.60 335.60,535.10 344.40,535.10 344.40,542.10 351.40,542.10 351.40,544.90 356.60,544.90 356.60,546.70 374.20,546.70 374.20,550.90 398.70,550.90 398.70,559.00 414.50,559.00" fill="none" stroke="#1e1ee8" stroke-width="1.5" />
<polyline points="254.90,476.90 261.50,476.90 261.50,488.20 264.10,488.20 264.10,492.60 267.30,492.60 267.30,499.20 268.50,499.20 268.50,516.40 271.40,516.40 271.40,521.10 275.40,521.10 275.40,526.90 277.60,526.90 277.60,533.10 307.90,533.10 307.90,538.90 312.60,538.90 312.60,545.20 319.60,545.20 319.60,551.00 328.60,551.00 328.60,556.80 345.40,556.80 345.40,563.10 359.50,563.10 359.50,569.50 361.90,569.50 361.90,575.40 396.90,575.40 396.90,581.40 400.40,581.40 400.40,587.70 412.00,587.70" fill="none" stroke="#ff2020" stroke-width="1.5" />
<line x1="261.50" y1="478.50" x2="261.50" y2="481.50" stroke="#111" stroke-width="1.0" />
<line x1="264.10" y1="483.50" x2="264.10" y2="486.50" stroke="#111" stroke-width="1.0" />
<line x1="267.30" y1="486.50" x2="267.30" y2="489.50" stroke="#111" stroke-width="1.0" />
<line x1="270.00" y1="489.50" x2="270.00" y2="492.50" stroke="#111" stroke-width="1.0" />
<line x1="272.50" y1="492.50" x2="272.50" y2="495.50" stroke="#111" stroke-width="1.0" />
<line x1="276.10" y1="496.50" x2="276.10" y2="499.50" stroke="#111" stroke-width="1.0" />
<line x1="282.70" y1="506.50" x2="282.70" y2="509.50" stroke="#111" stroke-width="1.0" />
<line x1="287.00" y1="514.50" x2="287.00" y2="517.50" stroke="#111" stroke-width="1.0" />
<line x1="293.60" y1="516.50" x2="293.60" y2="519.50" stroke="#111" stroke-width="1.0" />
<line x1="312.60" y1="520.50" x2="312.60" y2="523.50" stroke="#111" stroke-width="1.0" />
<line x1="331.40" y1="528.50" x2="331.40" y2="531.50" stroke="#111" stroke-width="1.0" />
<line x1="344.40" y1="539.50" x2="344.40" y2="542.50" stroke="#111" stroke-width="1.0" />
<line x1="356.60" y1="544.00" x2="356.60" y2="547.00" stroke="#111" stroke-width="1.0" />
<line x1="300.00" y1="531.60" x2="300.00" y2="534.60" stroke="#111" stroke-width="1.0" />
<line x1="385.00" y1="549.40" x2="385.00" y2="552.40" stroke="#111" stroke-width="1.0" />
<line x1="388.00" y1="549.40" x2="388.00" y2="552.40" stroke="#111" stroke-width="1.0" />
<line x1="391.00" y1="549.40" x2="391.00" y2="552.40" stroke="#111" stroke-width="1.0" />
<line x1="394.00" y1="549.40" x2="394.00" y2="552.40" stroke="#111" stroke-width="1.0" />
<line x1="397.00" y1="549.40" x2="397.00" y2="552.40" stroke="#111" stroke-width="1.0" />
<line x1="404.00" y1="557.50" x2="404.00" y2="560.50" stroke="#111" stroke-width="1.0" />
<line x1="408.00" y1="557.50" x2="408.00" y2="560.50" stroke="#111" stroke-width="1.0" />
<line x1="412.00" y1="557.50" x2="412.00" y2="560.50" stroke="#111" stroke-width="1.0" />
<line x1="407.00" y1="586.20" x2="407.00" y2="589.20" stroke="#111" stroke-width="1.0" />
<line x1="411.00" y1="586.20" x2="411.00" y2="589.20" stroke="#111" stroke-width="1.0" />
<text x="458.30" y="448.30" font-size="10.2" text-anchor="start" fill="#111" transform="translate(0 444.73) scale(1 1.1) translate(0 -444.73)" >G</text>
<rect x="490.00" y="475.30" width="185.70" height="132.40" fill="none" stroke="#444" stroke-width="1.3" />
<text x="487.00" y="611.40" font-size="11.2" text-anchor="end" fill="#111" transform="translate(0 607.48) scale(1 1.1) translate(0 -607.48)" >0.0</text>
<text x="487.00" y="584.92" font-size="11.2" text-anchor="end" fill="#111" transform="translate(0 581.00) scale(1 1.1) translate(0 -581.00)" >0.2</text>
<text x="487.00" y="558.44" font-size="11.2" text-anchor="end" fill="#111" transform="translate(0 554.52) scale(1 1.1) translate(0 -554.52)" >0.4</text>
<text x="487.00" y="531.96" font-size="11.2" text-anchor="end" fill="#111" transform="translate(0 528.04) scale(1 1.1) translate(0 -528.04)" >0.6</text>
<text x="487.00" y="505.48" font-size="11.2" text-anchor="end" fill="#111" transform="translate(0 501.56) scale(1 1.1) translate(0 -501.56)" >0.8</text>
<text x="487.00" y="479.00" font-size="11.2" text-anchor="end" fill="#111" transform="translate(0 475.08) scale(1 1.1) translate(0 -475.08)" >1.0</text>
<text x="0" y="0" font-size="11.2" text-anchor="middle" fill="#111" transform="translate(466.00,548.00) rotate(-90)" >FBL  expression</text>
<text x="530.60" y="625.50" font-size="11.2" text-anchor="middle" fill="#111" transform="translate(0 621.58) scale(1 1.1) translate(0 -621.58)" >I-II</text>
<text x="586.20" y="625.50" font-size="11.2" text-anchor="middle" fill="#111" transform="translate(0 621.58) scale(1 1.1) translate(0 -621.58)" >III</text>
<text x="643.10" y="625.50" font-size="11.2" text-anchor="middle" fill="#111" transform="translate(0 621.58) scale(1 1.1) translate(0 -621.58)" >IV</text>
<line x1="529.10" y1="510.39" x2="529.10" y2="538.19" stroke="#2a2a2a" stroke-width="1.6" />
<line x1="529.10" y1="573.54" x2="529.10" y2="598.03" stroke="#2a2a2a" stroke-width="1.6" />
<line x1="520.00" y1="510.39" x2="538.20" y2="510.39" stroke="#2a2a2a" stroke-width="1.6" />
<line x1="520.00" y1="598.03" x2="538.20" y2="598.03" stroke="#2a2a2a" stroke-width="1.6" />
<rect x="510.50" y="538.19" width="37.20" height="35.35" fill="#0a0aff" stroke="#222" stroke-width="1.3" />
<line x1="510.50" y1="565.33" x2="547.70" y2="565.33" stroke="#222" stroke-width="1.4" />
<line x1="584.70" y1="494.10" x2="584.70" y2="511.31" stroke="#2a2a2a" stroke-width="1.6" />
<line x1="584.70" y1="573.54" x2="584.70" y2="584.40" stroke="#2a2a2a" stroke-width="1.6" />
<line x1="576.50" y1="494.10" x2="592.90" y2="494.10" stroke="#2a2a2a" stroke-width="1.6" />
<line x1="576.50" y1="584.40" x2="592.90" y2="584.40" stroke="#2a2a2a" stroke-width="1.6" />
<rect x="566.00" y="511.31" width="37.30" height="62.23" fill="#ff1a0a" stroke="#222" stroke-width="1.3" />
<line x1="566.00" y1="537.53" x2="603.30" y2="537.53" stroke="#222" stroke-width="1.4" />
<line x1="640.50" y1="502.18" x2="640.50" y2="556.06" stroke="#2a1010" stroke-width="1.7" />
<line x1="631.80" y1="502.18" x2="649.70" y2="502.18" stroke="#2a0a0a" stroke-width="2.2" />
<line x1="631.80" y1="502.18" x2="649.70" y2="502.18" stroke="#d02020" stroke-width="1.0" stroke-dasharray="0.8 0.8"/>
<line x1="631.80" y1="556.06" x2="649.70" y2="556.06" stroke="#2a0a0a" stroke-width="2.2" />
<line x1="631.80" y1="556.06" x2="649.70" y2="556.06" stroke="#d02020" stroke-width="1.0" stroke-dasharray="0.8 0.8"/>
<line x1="622.20" y1="532.23" x2="659.30" y2="532.23" stroke="#2a0a0a" stroke-width="2.2" />
<line x1="622.20" y1="532.23" x2="659.30" y2="532.23" stroke="#d02020" stroke-width="1.0" stroke-dasharray="0.8 0.8"/>
<line x1="523.00" y1="486.60" x2="586.20" y2="486.60" stroke="#444" stroke-width="1.4" />
<text x="553.60" y="486.00" font-size="9.5" text-anchor="middle" fill="#111" transform="translate(0 482.68) scale(1 1.1) translate(0 -482.68)" >***</text>
<text x="7.40" y="649.00" font-size="10.2" text-anchor="start" fill="#111" transform="translate(0 645.43) scale(1 1.1) translate(0 -645.43)" >H</text>
<text x="125.00" y="668.20" font-size="11.2" text-anchor="middle" fill="#111" transform="translate(0 664.28) scale(1 1.1) translate(0 -664.28)" >FBL (2091)</text>
<rect x="32.80" y="671.60" width="185.50" height="133.00" fill="none" stroke="#222" stroke-width="1.2" />
<line x1="28.50" y1="801.00" x2="32.80" y2="801.00" stroke="#222" stroke-width="1.2" />
<text x="26.60" y="804.70" font-size="11.2" text-anchor="end" fill="#111" transform="translate(0 800.78) scale(1 1.1) translate(0 -800.78)" >0.0</text>
<line x1="28.50" y1="777.00" x2="32.80" y2="777.00" stroke="#222" stroke-width="1.2" />
<text x="26.60" y="780.70" font-size="11.2" text-anchor="end" fill="#111" transform="translate(0 776.78) scale(1 1.1) translate(0 -776.78)" >0.2</text>
<line x1="28.50" y1="753.00" x2="32.80" y2="753.00" stroke="#222" stroke-width="1.2" />
<text x="26.60" y="756.70" font-size="11.2" text-anchor="end" fill="#111" transform="translate(0 752.78) scale(1 1.1) translate(0 -752.78)" >0.4</text>
<line x1="28.50" y1="729.00" x2="32.80" y2="729.00" stroke="#222" stroke-width="1.2" />
<text x="26.60" y="732.70" font-size="11.2" text-anchor="end" fill="#111" transform="translate(0 728.78) scale(1 1.1) translate(0 -728.78)" >0.6</text>
<line x1="28.50" y1="705.00" x2="32.80" y2="705.00" stroke="#222" stroke-width="1.2" />
<text x="26.60" y="708.70" font-size="11.2" text-anchor="end" fill="#111" transform="translate(0 704.78) scale(1 1.1) translate(0 -704.78)" >0.8</text>
<line x1="28.50" y1="681.00" x2="32.80" y2="681.00" stroke="#222" stroke-width="1.2" />
<text x="26.60" y="684.70" font-size="11.2" text-anchor="end" fill="#111" transform="translate(0 680.78) scale(1 1.1) translate(0 -680.78)" >1.0</text>
<text x="0" y="0" font-size="11.2" text-anchor="middle" fill="#111" transform="translate(8.60,739.50) rotate(-90)" >Probability</text>
<line x1="39.60" y1="804.60" x2="39.60" y2="809.00" stroke="#222" stroke-width="1.2" />
<text x="39.60" y="820.00" font-size="11.2" text-anchor="middle" fill="#111" transform="translate(0 816.08) scale(1 1.1) translate(0 -816.08)" >0</text>
<line x1="67.70" y1="804.60" x2="67.70" y2="809.00" stroke="#222" stroke-width="1.2" />
<text x="66.10" y="820.00" font-size="11.2" text-anchor="middle" fill="#111" transform="translate(0 816.08) scale(1 1.1) translate(0 -816.08)" >20</text>
<line x1="95.80" y1="804.60" x2="95.80" y2="809.00" stroke="#222" stroke-width="1.2" />
<text x="95.00" y="820.00" font-size="11.2" text-anchor="middle" fill="#111" transform="translate(0 816.08) scale(1 1.1) translate(0 -816.08)" >40</text>
<line x1="123.90" y1="804.60" x2="123.90" y2="809.00" stroke="#222" stroke-width="1.2" />
<text x="124.20" y="820.00" font-size="11.2" text-anchor="middle" fill="#111" transform="translate(0 816.08) scale(1 1.1) translate(0 -816.08)" >60</text>
<line x1="152.00" y1="804.60" x2="152.00" y2="809.00" stroke="#222" stroke-width="1.2" />
<text x="150.00" y="820.00" font-size="11.2" text-anchor="middle" fill="#111" transform="translate(0 816.08) scale(1 1.1) translate(0 -816.08)" >80</text>
<line x1="180.10" y1="804.60" x2="180.10" y2="809.00" stroke="#222" stroke-width="1.2" />
<text x="177.00" y="820.00" font-size="11.2" text-anchor="middle" fill="#111" transform="translate(0 816.08) scale(1 1.1) translate(0 -816.08)" >100</text>
<line x1="208.20" y1="804.60" x2="208.20" y2="809.00" stroke="#222" stroke-width="1.2" />
<text x="207.20" y="820.00" font-size="11.2" text-anchor="middle" fill="#111" transform="translate(0 816.08) scale(1 1.1) translate(0 -816.08)" >120</text>
<text x="38.00" y="834.20" font-size="11.2" text-anchor="start" fill="#111" transform="translate(0 830.28) scale(1 1.1) translate(0 -830.28)" >Number   at  risk    Time (months)</text>
<text x="3.50" y="847.70" font-size="11.2" text-anchor="start" fill="#111" transform="translate(0 843.78) scale(1 1.1) translate(0 -843.78)" >low</text>
<text x="3.50" y="862.00" font-size="11.2" text-anchor="start" fill="#e8281e" transform="translate(0 858.08) scale(1 1.1) translate(0 -858.08)" >high</text>
<text x="39.60" y="847.70" font-size="11.2" text-anchor="middle" fill="#111" transform="translate(0 843.78) scale(1 1.1) translate(0 -843.78)" >224</text>
<text x="66.50" y="847.70" font-size="11.2" text-anchor="middle" fill="#111" transform="translate(0 843.78) scale(1 1.1) translate(0 -843.78)" >125</text>
<text x="95.00" y="847.70" font-size="11.2" text-anchor="middle" fill="#111" transform="translate(0 843.78) scale(1 1.1) translate(0 -843.78)" >56</text>
<text x="122.50" y="847.70" font-size="11.2" text-anchor="middle" fill="#111" transform="translate(0 843.78) scale(1 1.1) translate(0 -843.78)" >31</text>
<text x="152.00" y="847.70" font-size="11.2" text-anchor="middle" fill="#111" transform="translate(0 843.78) scale(1 1.1) translate(0 -843.78)" >14</text>
<text x="175.50" y="847.70" font-size="11.2" text-anchor="middle" fill="#111" transform="translate(0 843.78) scale(1 1.1) translate(0 -843.78)" >4</text>
<text x="208.20" y="847.70" font-size="11.2" text-anchor="middle" fill="#111" transform="translate(0 843.78) scale(1 1.1) translate(0 -843.78)" >1</text>
<text x="39.60" y="862.00" font-size="11.2" text-anchor="middle" fill="#e8281e" transform="translate(0 858.08) scale(1 1.1) translate(0 -858.08)" >140</text>
<text x="68.50" y="862.00" font-size="11.2" text-anchor="middle" fill="#e8281e" transform="translate(0 858.08) scale(1 1.1) translate(0 -858.08)" >57</text>
<text x="95.00" y="862.00" font-size="11.2" text-anchor="middle" fill="#e8281e" transform="translate(0 858.08) scale(1 1.1) translate(0 -858.08)" >28</text>
<text x="122.50" y="862.00" font-size="11.2" text-anchor="middle" fill="#e8281e" transform="translate(0 858.08) scale(1 1.1) translate(0 -858.08)" >11</text>
<text x="152.00" y="862.00" font-size="11.2" text-anchor="middle" fill="#e8281e" transform="translate(0 858.08) scale(1 1.1) translate(0 -858.08)" >5</text>
<text x="177.00" y="862.00" font-size="11.2" text-anchor="middle" fill="#e8281e" transform="translate(0 858.08) scale(1 1.1) translate(0 -858.08)" >2</text>
<text x="207.00" y="862.00" font-size="11.2" text-anchor="middle" fill="#e8281e" transform="translate(0 858.08) scale(1 1.1) translate(0 -858.08)" >0</text>
<text x="214.5" y="689.2" font-size="11.2" text-anchor="end" fill="#1a1a1a">HR = 1.64 (1.16-2.32)</text>
<text x="210.0" y="700.8" font-size="11.2" text-anchor="end" fill="#1a1a1a">logrank <tspan font-style="italic">P</tspan>  = 0 .0045</text>
<text x="47.00" y="771.30" font-size="11.2" text-anchor="start" fill="#111" transform="translate(0 767.38) scale(1 1.1) translate(0 -767.38)" >Expression</text>
<line x1="39.30" y1="782.70" x2="56.40" y2="782.70" stroke="#222" stroke-width="1.2" />
<text x="62.50" y="786.40" font-size="11.2" text-anchor="start" fill="#111" transform="translate(0 782.48) scale(1 1.1) translate(0 -782.48)" >low</text>
<line x1="39.30" y1="796.20" x2="56.40" y2="796.20" stroke="#ff2a20" stroke-width="1.2" />
<text x="62.50" y="799.90" font-size="11.2" text-anchor="start" fill="#111" transform="translate(0 795.98) scale(1 1.1) translate(0 -795.98)" >high</text>
<polyline points="38.18,681.06 39.93,681.06 39.93,683.98 41.68,683.98 41.68,686.90 43.14,686.90 43.14,688.36 44.60,688.36 44.60,689.82 46.06,689.82 46.06,691.28 47.52,691.28 47.52,691.96 48.98,691.96 48.98,692.64 50.44,692.64 50.44,693.32 51.90,693.32 51.90,694.59 53.36,694.59 53.36,695.85 54.82,695.85 54.82,697.12 56.28,697.12 56.28,697.90 57.74,697.90 57.74,698.67 59.20,698.67 59.20,699.45 60.66,699.45 60.66,699.84 62.12,699.84 62.12,700.23 63.58,700.23 63.58,700.62 65.04,700.62 65.04,701.89 66.50,701.89 66.50,703.15 67.96,703.15 67.96,704.42 69.42,704.42 69.42,705.39 70.88,705.39 70.88,706.36 72.34,706.36 72.34,707.34 73.80,707.34 73.80,708.80 75.26,708.80 75.26,710.26 76.72,710.26 76.72,711.72 78.18,711.72 78.18,716.09 79.43,716.09 79.43,716.22 80.68,716.22 80.68,716.35 81.93,716.35 81.93,716.47 83.18,716.47 83.18,716.60 84.43,716.60 84.43,716.72 85.68,716.72 85.68,716.85 86.93,716.85 86.93,716.97 88.39,716.97 88.39,717.65 89.85,717.65 89.85,718.33 91.31,718.33 91.31,719.01 92.77,719.01 92.77,720.47 94.23,720.47 94.23,721.93 95.69,721.93 95.69,723.39 96.94,723.39 96.94,723.81 98.20,723.81 98.20,724.23 99.45,724.23 99.45,724.65 100.70,724.65 100.70,725.06 101.95,725.06 101.95,725.48 103.20,725.48 103.20,725.90 104.45,725.90 104.45,726.31 105.67,726.31 105.67,727.04 106.89,727.04 106.89,727.77 108.10,727.77 108.10,728.50 109.32,728.50 109.32,729.23 110.54,729.23 110.54,729.96 111.75,729.96 111.75,730.69 113.21,730.69 113.21,731.42 114.67,731.42 114.67,732.15 116.13,732.15 116.13,732.88 117.59,732.88 117.59,733.61 119.05,733.61 119.05,733.98 120.51,733.98 120.51,734.34 121.97,734.34 121.97,734.71 123.43,734.71 123.43,735.07 132.19,735.07 133.65,735.07 133.65,735.22 135.11,735.22 135.11,735.36 136.57,735.36 136.57,735.51 138.03,735.51 138.03,735.66 138.61,735.66 138.61,741.50 152.63,741.50 154.09,741.50 154.09,742.37 156.13,742.37 156.13,748.21 157.01,748.21 157.01,762.81 190.58,762.81 191.17,762.81 191.17,772.45 211.02,772.45" fill="none" stroke="#111" stroke-width="1.3" />
<polyline points="38.18,681.06 39.42,681.06 39.42,682.88 40.66,682.88 40.66,684.71 41.90,684.71 41.90,686.53 43.14,686.53 43.14,688.36 44.60,688.36 44.60,690.79 46.06,690.79 46.06,693.22 47.52,693.22 47.52,695.66 48.98,695.66 48.98,697.60 50.44,697.60 50.44,699.55 51.90,699.55 51.90,701.50 53.36,701.50 53.36,703.93 54.82,703.93 54.82,706.36 56.28,706.36 56.28,708.80 57.74,708.80 57.74,712.45 59.20,712.45 59.20,716.09 60.66,716.09 60.66,717.55 62.12,717.55 62.12,719.01 63.58,719.01 63.58,720.47 65.04,720.47 65.04,723.39 66.50,723.39 66.50,726.31 67.96,726.31 67.96,727.77 69.42,727.77 69.42,729.23 70.88,729.23 70.88,730.69 72.34,730.69 72.34,731.20 73.80,731.20 73.80,731.72 75.26,731.72 75.26,732.23 76.72,732.23 76.72,732.74 78.18,732.74 78.18,733.32 79.64,733.32 79.64,733.91 81.09,733.91 81.09,734.49 82.55,734.49 82.55,735.07 84.01,735.07 84.01,735.80 85.47,735.80 85.47,736.53 86.93,736.53 86.93,737.26 88.39,737.26 88.39,737.99 89.61,737.99 89.61,738.24 90.83,738.24 90.83,738.48 92.04,738.48 92.04,738.72 93.26,738.72 93.26,738.97 94.48,738.97 94.48,739.21 95.69,739.21 95.69,739.45 97.15,739.45 97.15,739.96 98.61,739.96 98.61,740.47 100.07,740.47 100.07,740.99 101.53,740.99 101.53,741.50 102.99,741.50 102.99,742.76 104.45,742.76 104.45,744.03 105.91,744.03 105.91,745.29 114.67,745.29 117.01,745.29 117.01,751.13 117.59,751.13 117.59,757.85 118.81,757.85 118.81,758.19 120.02,758.19 120.02,758.53 121.24,758.53 121.24,758.87 122.46,758.87 122.46,759.21 123.67,759.21 123.67,759.55 124.89,759.55 124.89,759.89 152.63,759.89 154.09,759.89 154.09,760.77 154.96,760.77 154.96,768.65 183.28,768.65 184.16,768.65 184.16,784.12 202.26,784.12" fill="none" stroke="#ff2418" stroke-width="1.3" />
<path d="M39.93,681.98V685.98M43.87,687.09V691.09M48.25,690.30V694.30M52.63,693.22V697.22M57.01,696.28V700.28M61.39,698.04V702.04M65.77,700.52V704.52M70.15,703.88V707.88M74.53,707.53V711.53M79.64,714.24V718.24M82.55,714.53V718.53M85.47,714.82V718.82M89.12,715.99V719.99M93.50,719.20V723.20M97.15,721.88V725.88M100.07,722.85V726.85M102.99,723.83V727.83M105.67,725.04V729.04M108.10,726.50V730.50M110.54,727.96V731.96M113.21,729.42V733.42M116.13,730.88V734.88M119.05,731.98V735.98M121.97,732.71V736.71M124.89,733.07V737.07M127.81,733.07V737.07M130.73,733.07V737.07M133.65,733.22V737.22M136.57,733.51V737.51M139.78,739.50V743.50M142.12,739.50V743.50M144.45,739.50V743.50M146.79,739.50V743.50M149.12,739.50V743.50M151.46,739.50V743.50M158.13,760.81V764.81M160.36,760.81V764.81M171.56,760.81V764.81M173.80,760.81V764.81M178.27,760.81V764.81M180.51,760.81V764.81M194.48,770.45V774.45M207.71,770.45V774.45" stroke="#111" stroke-width="1.0" fill="none"/>
<path d="M40.66,682.71V686.71M45.33,690.01V694.01M49.71,696.58V700.58M54.09,703.15V707.15M57.74,710.45V714.45M61.39,716.28V720.28M65.04,721.39V725.39M68.69,726.50V730.50M72.34,729.20V733.20M75.26,730.23V734.23M78.18,731.32V735.32M81.09,732.49V736.49M84.01,733.80V737.80M86.93,735.26V739.26M90.22,736.36V740.36M93.87,737.09V741.09M97.15,737.96V741.96M100.07,738.99V742.99M103.72,741.39V745.39M107.37,743.29V747.29M110.29,743.29V747.29M113.21,743.29V747.29M119.42,756.36V760.36M123.07,757.38V761.38M126.28,757.89V761.89M129.05,757.89V761.89M131.82,757.89V761.89M134.60,757.89V761.89M137.37,757.89V761.89M140.15,757.89V761.89M142.92,757.89V761.89M145.69,757.89V761.89M148.47,757.89V761.89M159.21,766.65V770.65M194.72,782.12V786.12M197.74,782.12V786.12M200.75,782.12V786.12" stroke="#ff2418" stroke-width="1.0" fill="none"/>
<text x="230.60" y="648.30" font-size="10.2" text-anchor="start" fill="#111" transform="translate(0 644.73) scale(1 1.1) translate(0 -644.73)" >I</text>
<text x="258.0" y="668.0" font-size="11.2" fill="#1a1a1a">Kruskal-Wallis test <tspan font-style="italic">P</tspan> = 2.5e-22</text>
<rect x="254.50" y="673.00" width="185.00" height="133.30" fill="none" stroke="#222" stroke-width="1.2" />
<line x1="250.70" y1="767.50" x2="254.50" y2="767.50" stroke="#222" stroke-width="1.2" />
<text x="250.00" y="771.30" font-size="11.2" text-anchor="end" fill="#111" transform="translate(0 767.38) scale(1 1.1) translate(0 -767.38)" >8</text>
<line x1="250.70" y1="725.50" x2="254.50" y2="725.50" stroke="#222" stroke-width="1.2" />
<text x="250.00" y="729.30" font-size="11.2" text-anchor="end" fill="#111" transform="translate(0 725.38) scale(1 1.1) translate(0 -725.38)" >12</text>
<line x1="250.70" y1="683.50" x2="254.50" y2="683.50" stroke="#222" stroke-width="1.2" />
<text x="250.00" y="687.30" font-size="11.2" text-anchor="end" fill="#111" transform="translate(0 683.38) scale(1 1.1) translate(0 -683.38)" >16</text>
<text x="0" y="0" font-size="11.2" text-anchor="middle" fill="#111" transform="translate(236.80,737.00) rotate(-90)" >FBL  expression</text>
<line x1="281.20" y1="806.30" x2="281.20" y2="810.00" stroke="#222" stroke-width="1.2" />
<text x="281.20" y="821.00" font-size="11.2" text-anchor="middle" fill="#111" transform="translate(0 817.08) scale(1 1.1) translate(0 -817.08)" >G1</text>
<text x="281.20" y="834.00" font-size="11.2" text-anchor="middle" fill="#111" transform="translate(0 830.08) scale(1 1.1) translate(0 -830.08)" >(n =1 71)</text>
<line x1="281.20" y1="759.52" x2="281.20" y2="775.48" stroke="#c8442e" stroke-width="1.3" />
<line x1="281.20" y1="786.72" x2="281.20" y2="800.05" stroke="#c8442e" stroke-width="1.3" />
<line x1="271.68" y1="759.52" x2="290.72" y2="759.52" stroke="#c8442e" stroke-width="1.3" />
<line x1="271.68" y1="800.05" x2="290.72" y2="800.05" stroke="#c8442e" stroke-width="1.3" />
<rect x="270.00" y="775.48" width="22.40" height="11.24" fill="none" stroke="#c8442e" stroke-width="1.3" />
<line x1="270.00" y1="781.25" x2="292.40" y2="781.25" stroke="#c8442e" stroke-width="1.3" />
<path d="M283.92,774.77m-1.0,0a1.0,1.0 0 1,0 2.0,0a1.0,1.0 0 1,0 -2.0,0M280.78,770.30m-1.0,0a1.0,1.0 0 1,0 2.0,0a1.0,1.0 0 1,0 -2.0,0M287.41,778.13m-1.0,0a1.0,1.0 0 1,0 2.0,0a1.0,1.0 0 1,0 -2.0,0M281.45,766.83m-1.0,0a1.0,1.0 0 1,0 2.0,0a1.0,1.0 0 1,0 -2.0,0M271.18,787.36m-1.0,0a1.0,1.0 0 1,0 2.0,0a1.0,1.0 0 1,0 -2.0,0M278.60,781.45m-1.0,0a1.0,1.0 0 1,0 2.0,0a1.0,1.0 0 1,0 -2.0,0M287.12,783.97m-1.0,0a1.0,1.0 0 1,0 2.0,0a1.0,1.0 0 1,0 -2.0,0M275.80,782.87m-1.0,0a1.0,1.0 0 1,0 2.0,0a1.0,1.0 0 1,0 -2.0,0M291.23,780.99m-1.0,0a1.0,1.0 0 1,0 2.0,0a1.0,1.0 0 1,0 -2.0,0M286.01,778.82m-1.0,0a1.0,1.0 0 1,0 2.0,0a1.0,1.0 0 1,0 -2.0,0M271.81,773.11m-1.0,0a1.0,1.0 0 1,0 2.0,0a1.0,1.0 0 1,0 -2.0,0M277.75,789.39m-1.0,0a1.0,1.0 0 1,0 2.0,0a1.0,1.0 0 1,0 -2.0,0M290.31,785.38m-1.0,0a1.0,1.0 0 1,0 2.0,0a1.0,1.0 0 1,0 -2.0,0M278.55,781.19m-1.0,0a1.0,1.0 0 1,0 2.0,0a1.0,1.0 0 1,0 -2.0,0M273.64,772.61m-1.0,0a1.0,1.0 0 1,0 2.0,0a1.0,1.0 0 1,0 -2.0,0M289.83,768.57m-1.0,0a1.0,1.0 0 1,0 2.0,0a1.0,1.0 0 1,0 -2.0,0M278.03,791.35m-1.0,0a1.0,1.0 0 1,0 2.0,0a1.0,1.0 0 1,0 -2.0,0M280.89,778.19m-1.0,0a1.0,1.0 0 1,0 2.0,0a1.0,1.0 0 1,0 -2.0,0M288.58,780.37m-1.0,0a1.0,1.0 0 1,0 2.0,0a1.0,1.0 0 1,0 -2.0,0M275.85,779.14m-1.0,0a1.0,1.0 0 1,0 2.0,0a1.0,1.0 0 1,0 -2.0,0M290.65,780.18m-1.0,0a1.0,1.0 0 1,0 2.0,0a1.0,1.0 0 1,0 -2.0,0M289.14,786.84m-1.0,0a1.0,1.0 0 1,0 2.0,0a1.0,1.0 0 1,0 -2.0,0M282.83,780.83m-1.0,0a1.0,1.0 0 1,0 2.0,0a1.0,1.0 0 1,0 -2.0,0M285.83,795.37m-1.0,0a1.0,1.0 0 1,0 2.0,0a1.0,1.0 0 1,0 -2.0,0M287.79,774.46m-1.0,0a1.0,1.0 0 1,0 2.0,0a1.0,1.0 0 1,0 -2.0,0M275.17,774.67m-1.0,0a1.0,1.0 0 1,0 2.0,0a1.0,1.0 0 1,0 -2.0,0M279.38,765.84m-1.0,0a1.0,1.0 0 1,0 2.0,0a1.0,1.0 0 1,0 -2.0,0M278.48,789.33m-1.0,0a1.0,1.0 0 1,0 2.0,0a1.0,1.0 0 1,0 -2.0,0M291.18,789.09m-1.0,0a1.0,1.0 0 1,0 2.0,0a1.0,1.0 0 1,0 -2.0,0M278.91,778.78m-1.0,0a1.0,1.0 0 1,0 2.0,0a1.0,1.0 0 1,0 -2.0,0M285.60,777.62m-1.0,0a1.0,1.0 0 1,0 2.0,0a1.0,1.0 0 1,0 -2.0,0M291.14,780.64m-1.0,0a1.0,1.0 0 1,0 2.0,0a1.0,1.0 0 1,0 -2.0,0M282.22,790.93m-1.0,0a1.0,1.0 0 1,0 2.0,0a1.0,1.0 0 1,0 -2.0,0M286.20,781.01m-1.0,0a1.0,1.0 0 1,0 2.0,0a1.0,1.0 0 1,0 -2.0,0M282.34,779.26m-1.0,0a1.0,1.0 0 1,0 2.0,0a1.0,1.0 0 1,0 -2.0,0M283.67,770.03m-1.0,0a1.0,1.0 0 1,0 2.0,0a1.0,1.0 0 1,0 -2.0,0M278.14,779.11m-1.0,0a1.0,1.0 0 1,0 2.0,0a1.0,1.0 0 1,0 -2.0,0M289.81,776.65m-1.0,0a1.0,1.0 0 1,0 2.0,0a1.0,1.0 0 1,0 -2.0,0M277.30,787.66m-1.0,0a1.0,1.0 0 1,0 2.0,0a1.0,1.0 0 1,0 -2.0,0M273.20,772.04m-1.0,0a1.0,1.0 0 1,0 2.0,0a1.0,1.0 0 1,0 -2.0,0M286.78,767.28m-1.0,0a1.0,1.0 0 1,0 2.0,0a1.0,1.0 0 1,0 -2.0,0M278.68,775.14m-1.0,0a1.0,1.0 0 1,0 2.0,0a1.0,1.0 0 1,0 -2.0,0M289.24,786.33m-1.0,0a1.0,1.0 0 1,0 2.0,0a1.0,1.0 0 1,0 -2.0,0M290.44,792.67m-1.0,0a1.0,1.0 0 1,0 2.0,0a1.0,1.0 0 1,0 -2.0,0M283.02,761.08m-1.0,0a1.0,1.0 0 1,0 2.0,0a1.0,1.0 0 1,0 -2.0,0M288.92,767.45m-1.0,0a1.0,1.0 0 1,0 2.0,0a1.0,1.0 0 1,0 -2.0,0M276.10,789.32m-1.0,0a1.0,1.0 0 1,0 2.0,0a1.0,1.0 0 1,0 -2.0,0M288.78,780.79m-1.0,0a1.0,1.0 0 1,0 2.0,0a1.0,1.0 0 1,0 -2.0,0M287.35,779.60m-1.0,0a1.0,1.0 0 1,0 2.0,0a1.0,1.0 0 1,0 -2.0,0M286.72,778.57m-1.0,0a1.0,1.0 0 1,0 2.0,0a1.0,1.0 0 1,0 -2.0,0M272.17,797.02m-1.0,0a1.0,1.0 0 1,0 2.0,0a1.0,1.0 0 1,0 -2.0,0M276.32,779.58m-1.0,0a1.0,1.0 0 1,0 2.0,0a1.0,1.0 0 1,0 -2.0,0M274.56,783.41m-1.0,0a1.0,1.0 0 1,0 2.0,0a1.0,1.0 0 1,0 -2.0,0M272.52,772.85m-1.0,0a1.0,1.0 0 1,0 2.0,0a1.0,1.0 0 1,0 -2.0,0M290.95,790.62m-1.0,0a1.0,1.0 0 1,0 2.0,0a1.0,1.0 0 1,0 -2.0,0M286.16,766.09m-1.0,0a1.0,1.0 0 1,0 2.0,0a1.0,1.0 0 1,0 -2.0,0M290.45,787.54m-1.0,0a1.0,1.0 0 1,0 2.0,0a1.0,1.0 0 1,0 -2.0,0M281.72,780.42m-1.0,0a1.0,1.0 0 1,0 2.0,0a1.0,1.0 0 1,0 -2.0,0M275.40,781.52m-1.0,0a1.0,1.0 0 1,0 2.0,0a1.0,1.0 0 1,0 -2.0,0M288.02,783.23m-1.0,0a1.0,1.0 0 1,0 2.0,0a1.0,1.0 0 1,0 -2.0,0M283.24,776.44m-1.0,0a1.0,1.0 0 1,0 2.0,0a1.0,1.0 0 1,0 -2.0,0M279.71,797.75m-1.0,0a1.0,1.0 0 1,0 2.0,0a1.0,1.0 0 1,0 -2.0,0M277.33,795.39m-1.0,0a1.0,1.0 0 1,0 2.0,0a1.0,1.0 0 1,0 -2.0,0M281.89,789.16m-1.0,0a1.0,1.0 0 1,0 2.0,0a1.0,1.0 0 1,0 -2.0,0M271.33,783.57m-1.0,0a1.0,1.0 0 1,0 2.0,0a1.0,1.0 0 1,0 -2.0,0M284.94,767.21m-1.0,0a1.0,1.0 0 1,0 2.0,0a1.0,1.0 0 1,0 -2.0,0M283.09,779.52m-1.0,0a1.0,1.0 0 1,0 2.0,0a1.0,1.0 0 1,0 -2.0,0M284.10,781.77m-1.0,0a1.0,1.0 0 1,0 2.0,0a1.0,1.0 0 1,0 -2.0,0M276.31,774.68m-1.0,0a1.0,1.0 0 1,0 2.0,0a1.0,1.0 0 1,0 -2.0,0M279.30,790.11m-1.0,0a1.0,1.0 0 1,0 2.0,0a1.0,1.0 0 1,0 -2.0,0M273.81,763.78m-1.0,0a1.0,1.0 0 1,0 2.0,0a1.0,1.0 0 1,0 -2.0,0M273.03,785.89m-1.0,0a1.0,1.0 0 1,0 2.0,0a1.0,1.0 0 1,0 -2.0,0M280.13,779.69m-1.0,0a1.0,1.0 0 1,0 2.0,0a1.0,1.0 0 1,0 -2.0,0M273.96,780.21m-1.0,0a1.0,1.0 0 1,0 2.0,0a1.0,1.0 0 1,0 -2.0,0M273.67,773.09m-1.0,0a1.0,1.0 0 1,0 2.0,0a1.0,1.0 0 1,0 -2.0,0M281.98,790.25m-1.0,0a1.0,1.0 0 1,0 2.0,0a1.0,1.0 0 1,0 -2.0,0M275.55,785.62m-1.0,0a1.0,1.0 0 1,0 2.0,0a1.0,1.0 0 1,0 -2.0,0M274.47,772.58m-1.0,0a1.0,1.0 0 1,0 2.0,0a1.0,1.0 0 1,0 -2.0,0M285.43,777.99m-1.0,0a1.0,1.0 0 1,0 2.0,0a1.0,1.0 0 1,0 -2.0,0M282.21,773.84m-1.0,0a1.0,1.0 0 1,0 2.0,0a1.0,1.0 0 1,0 -2.0,0M288.74,768.69m-1.0,0a1.0,1.0 0 1,0 2.0,0a1.0,1.0 0 1,0 -2.0,0M286.73,777.50m-1.0,0a1.0,1.0 0 1,0 2.0,0a1.0,1.0 0 1,0 -2.0,0M280.47,780.99m-1.0,0a1.0,1.0 0 1,0 2.0,0a1.0,1.0 0 1,0 -2.0,0M272.40,782.26m-1.0,0a1.0,1.0 0 1,0 2.0,0a1.0,1.0 0 1,0 -2.0,0M285.46,780.80m-1.0,0a1.0,1.0 0 1,0 2.0,0a1.0,1.0 0 1,0 -2.0,0M276.22,786.40m-1.0,0a1.0,1.0 0 1,0 2.0,0a1.0,1.0 0 1,0 -2.0,0M271.96,783.63m-1.0,0a1.0,1.0 0 1,0 2.0,0a1.0,1.0 0 1,0 -2.0,0M278.96,788.07m-1.0,0a1.0,1.0 0 1,0 2.0,0a1.0,1.0 0 1,0 -2.0,0M277.07,787.78m-1.0,0a1.0,1.0 0 1,0 2.0,0a1.0,1.0 0 1,0 -2.0,0M281.26,764.60m-1.0,0a1.0,1.0 0 1,0 2.0,0a1.0,1.0 0 1,0 -2.0,0M283.24,796.06m-1.0,0a1.0,1.0 0 1,0 2.0,0a1.0,1.0 0 1,0 -2.0,0M281.37,787.43m-1.0,0a1.0,1.0 0 1,0 2.0,0a1.0,1.0 0 1,0 -2.0,0M277.37,783.36m-1.0,0a1.0,1.0 0 1,0 2.0,0a1.0,1.0 0 1,0 -2.0,0M281.72,771.70m-1.0,0a1.0,1.0 0 1,0 2.0,0a1.0,1.0 0 1,0 -2.0,0M287.54,784.06m-1.0,0a1.0,1.0 0 1,0 2.0,0a1.0,1.0 0 1,0 -2.0,0M290.81,782.38m-1.0,0a1.0,1.0 0 1,0 2.0,0a1.0,1.0 0 1,0 -2.0,0M291.14,785.73m-1.0,0a1.0,1.0 0 1,0 2.0,0a1.0,1.0 0 1,0 -2.0,0M273.29,775.51m-1.0,0a1.0,1.0 0 1,0 2.0,0a1.0,1.0 0 1,0 -2.0,0M287.54,778.37m-1.0,0a1.0,1.0 0 1,0 2.0,0a1.0,1.0 0 1,0 -2.0,0M286.44,779.76m-1.0,0a1.0,1.0 0 1,0 2.0,0a1.0,1.0 0 1,0 -2.0,0M271.52,792.24m-1.0,0a1.0,1.0 0 1,0 2.0,0a1.0,1.0 0 1,0 -2.0,0M284.12,777.54m-1.0,0a1.0,1.0 0 1,0 2.0,0a1.0,1.0 0 1,0 -2.0,0M278.97,790.66m-1.0,0a1.0,1.0 0 1,0 2.0,0a1.0,1.0 0 1,0 -2.0,0M279.21,777.71m-1.0,0a1.0,1.0 0 1,0 2.0,0a1.0,1.0 0 1,0 -2.0,0M279.87,780.85m-1.0,0a1.0,1.0 0 1,0 2.0,0a1.0,1.0 0 1,0 -2.0,0M276.10,778.65m-1.0,0a1.0,1.0 0 1,0 2.0,0a1.0,1.0 0 1,0 -2.0,0M285.71,785.61m-1.0,0a1.0,1.0 0 1,0 2.0,0a1.0,1.0 0 1,0 -2.0,0M280.31,795.97m-1.0,0a1.0,1.0 0 1,0 2.0,0a1.0,1.0 0 1,0 -2.0,0M280.93,780.56m-1.0,0a1.0,1.0 0 1,0 2.0,0a1.0,1.0 0 1,0 -2.0,0M283.86,773.07m-1.0,0a1.0,1.0 0 1,0 2.0,0a1.0,1.0 0 1,0 -2.0,0M280.79,777.83m-1.0,0a1.0,1.0 0 1,0 2.0,0a1.0,1.0 0 1,0 -2.0,0M281.04,782.06m-1.0,0a1.0,1.0 0 1,0 2.0,0a1.0,1.0 0 1,0 -2.0,0M286.84,784.84m-1.0,0a1.0,1.0 0 1,0 2.0,0a1.0,1.0 0 1,0 -2.0,0M283.76,798.39m-1.0,0a1.0,1.0 0 1,0 2.0,0a1.0,1.0 0 1,0 -2.0,0M288.44,780.59m-1.0,0a1.0,1.0 0 1,0 2.0,0a1.0,1.0 0 1,0 -2.0,0M285.21,793.60m-1.0,0a1.0,1.0 0 1,0 2.0,0a1.0,1.0 0 1,0 -2.0,0M289.60,783.81m-1.0,0a1.0,1.0 0 1,0 2.0,0a1.0,1.0 0 1,0 -2.0,0M278.90,786.95m-1.0,0a1.0,1.0 0 1,0 2.0,0a1.0,1.0 0 1,0 -2.0,0M290.55,792.93m-1.0,0a1.0,1.0 0 1,0 2.0,0a1.0,1.0 0 1,0 -2.0,0M291.06,791.51m-1.0,0a1.0,1.0 0 1,0 2.0,0a1.0,1.0 0 1,0 -2.0,0M277.40,774.05m-1.0,0a1.0,1.0 0 1,0 2.0,0a1.0,1.0 0 1,0 -2.0,0M279.01,780.97m-1.0,0a1.0,1.0 0 1,0 2.0,0a1.0,1.0 0 1,0 -2.0,0M272.72,774.80m-1.0,0a1.0,1.0 0 1,0 2.0,0a1.0,1.0 0 1,0 -2.0,0M277.22,772.89m-1.0,0a1.0,1.0 0 1,0 2.0,0a1.0,1.0 0 1,0 -2.0,0M280.44,768.40m-1.0,0a1.0,1.0 0 1,0 2.0,0a1.0,1.0 0 1,0 -2.0,0M273.30,786.02m-1.0,0a1.0,1.0 0 1,0 2.0,0a1.0,1.0 0 1,0 -2.0,0M275.27,768.76m-1.0,0a1.0,1.0 0 1,0 2.0,0a1.0,1.0 0 1,0 -2.0,0M277.88,784.80m-1.0,0a1.0,1.0 0 1,0 2.0,0a1.0,1.0 0 1,0 -2.0,0M276.38,789.18m-1.0,0a1.0,1.0 0 1,0 2.0,0a1.0,1.0 0 1,0 -2.0,0M290.30,791.04m-1.0,0a1.0,1.0 0 1,0 2.0,0a1.0,1.0 0 1,0 -2.0,0M288.16,784.05m-1.0,0a1.0,1.0 0 1,0 2.0,0a1.0,1.0 0 1,0 -2.0,0M274.21,775.52m-1.0,0a1.0,1.0 0 1,0 2.0,0a1.0,1.0 0 1,0 -2.0,0M283.18,783.58m-1.0,0a1.0,1.0 0 1,0 2.0,0a1.0,1.0 0 1,0 -2.0,0M276.71,786.30m-1.0,0a1.0,1.0 0 1,0 2.0,0a1.0,1.0 0 1,0 -2.0,0M280.53,795.59m-1.0,0a1.0,1.0 0 1,0 2.0,0a1.0,1.0 0 1,0 -2.0,0M279.93,767.62m-1.0,0a1.0,1.0 0 1,0 2.0,0a1.0,1.0 0 1,0 -2.0,0M274.63,786.26m-1.0,0a1.0,1.0 0 1,0 2.0,0a1.0,1.0 0 1,0 -2.0,0M278.87,785.79m-1.0,0a1.0,1.0 0 1,0 2.0,0a1.0,1.0 0 1,0 -2.0,0M290.49,782.01m-1.0,0a1.0,1.0 0 1,0 2.0,0a1.0,1.0 0 1,0 -2.0,0M271.81,775.93m-1.0,0a1.0,1.0 0 1,0 2.0,0a1.0,1.0 0 1,0 -2.0,0M285.32,774.05m-1.0,0a1.0,1.0 0 1,0 2.0,0a1.0,1.0 0 1,0 -2.0,0M271.50,799.31m-1.0,0a1.0,1.0 0 1,0 2.0,0a1.0,1.0 0 1,0 -2.0,0M283.37,783.61m-1.0,0a1.0,1.0 0 1,0 2.0,0a1.0,1.0 0 1,0 -2.0,0M285.24,781.27m-1.0,0a1.0,1.0 0 1,0 2.0,0a1.0,1.0 0 1,0 -2.0,0M282.10,781.19m-1.0,0a1.0,1.0 0 1,0 2.0,0a1.0,1.0 0 1,0 -2.0,0M273.03,780.23m-1.0,0a1.0,1.0 0 1,0 2.0,0a1.0,1.0 0 1,0 -2.0,0M289.15,784.57m-1.0,0a1.0,1.0 0 1,0 2.0,0a1.0,1.0 0 1,0 -2.0,0M278.58,772.72m-1.0,0a1.0,1.0 0 1,0 2.0,0a1.0,1.0 0 1,0 -2.0,0M287.70,771.50m-1.0,0a1.0,1.0 0 1,0 2.0,0a1.0,1.0 0 1,0 -2.0,0M281.79,770.20m-1.0,0a1.0,1.0 0 1,0 2.0,0a1.0,1.0 0 1,0 -2.0,0M279.24,776.14m-1.0,0a1.0,1.0 0 1,0 2.0,0a1.0,1.0 0 1,0 -2.0,0M282.25,779.62m-1.0,0a1.0,1.0 0 1,0 2.0,0a1.0,1.0 0 1,0 -2.0,0M288.12,778.92m-1.0,0a1.0,1.0 0 1,0 2.0,0a1.0,1.0 0 1,0 -2.0,0M289.77,766.45m-1.0,0a1.0,1.0 0 1,0 2.0,0a1.0,1.0 0 1,0 -2.0,0M282.85,780.09m-1.0,0a1.0,1.0 0 1,0 2.0,0a1.0,1.0 0 1,0 -2.0,0M272.74,782.30m-1.0,0a1.0,1.0 0 1,0 2.0,0a1.0,1.0 0 1,0 -2.0,0M286.43,770.11m-1.0,0a1.0,1.0 0 1,0 2.0,0a1.0,1.0 0 1,0 -2.0,0M274.92,789.39m-1.0,0a1.0,1.0 0 1,0 2.0,0a1.0,1.0 0 1,0 -2.0,0M283.35,767.02m-1.0,0a1.0,1.0 0 1,0 2.0,0a1.0,1.0 0 1,0 -2.0,0M283.62,775.66m-1.0,0a1.0,1.0 0 1,0 2.0,0a1.0,1.0 0 1,0 -2.0,0M277.93,795.94m-1.0,0a1.0,1.0 0 1,0 2.0,0a1.0,1.0 0 1,0 -2.0,0M276.56,778.56m-1.0,0a1.0,1.0 0 1,0 2.0,0a1.0,1.0 0 1,0 -2.0,0M283.76,785.48m-1.0,0a1.0,1.0 0 1,0 2.0,0a1.0,1.0 0 1,0 -2.0,0M289.07,775.67m-1.0,0a1.0,1.0 0 1,0 2.0,0a1.0,1.0 0 1,0 -2.0,0M281.44,778.45m-1.0,0a1.0,1.0 0 1,0 2.0,0a1.0,1.0 0 1,0 -2.0,0M284.79,779.91m-1.0,0a1.0,1.0 0 1,0 2.0,0a1.0,1.0 0 1,0 -2.0,0M272.30,778.82m-1.0,0a1.0,1.0 0 1,0 2.0,0a1.0,1.0 0 1,0 -2.0,0M271.87,775.12m-1.0,0a1.0,1.0 0 1,0 2.0,0a1.0,1.0 0 1,0 -2.0,0M284.29,793.83m-1.0,0a1.0,1.0 0 1,0 2.0,0a1.0,1.0 0 1,0 -2.0,0M274.31,780.86m-1.0,0a1.0,1.0 0 1,0 2.0,0a1.0,1.0 0 1,0 -2.0,0M281.98,765.99m-1.0,0a1.0,1.0 0 1,0 2.0,0a1.0,1.0 0 1,0 -2.0,0" fill="#c8442e" opacity="0.85"/>
<line x1="325.20" y1="806.30" x2="325.20" y2="810.00" stroke="#222" stroke-width="1.2" />
<text x="325.20" y="821.00" font-size="11.2" text-anchor="middle" fill="#111" transform="translate(0 817.08) scale(1 1.1) translate(0 -817.08)" >G2</text>
<text x="325.20" y="834.00" font-size="11.2" text-anchor="middle" fill="#111" transform="translate(0 830.08) scale(1 1.1) translate(0 -830.08)" >(n = 89)</text>
<line x1="325.20" y1="752.27" x2="325.20" y2="771.70" stroke="#3b80c8" stroke-width="1.3" />
<line x1="325.20" y1="785.35" x2="325.20" y2="792.70" stroke="#3b80c8" stroke-width="1.3" />
<line x1="315.68" y1="752.27" x2="334.72" y2="752.27" stroke="#3b80c8" stroke-width="1.3" />
<line x1="315.68" y1="792.70" x2="334.72" y2="792.70" stroke="#3b80c8" stroke-width="1.3" />
<rect x="314.00" y="771.70" width="22.40" height="13.65" fill="none" stroke="#3b80c8" stroke-width="1.3" />
<line x1="314.00" y1="778.74" x2="336.40" y2="778.74" stroke="#3b80c8" stroke-width="1.3" />
<path d="M323.35,764.51m-1.0,0a1.0,1.0 0 1,0 2.0,0a1.0,1.0 0 1,0 -2.0,0M325.70,784.66m-1.0,0a1.0,1.0 0 1,0 2.0,0a1.0,1.0 0 1,0 -2.0,0M331.80,789.53m-1.0,0a1.0,1.0 0 1,0 2.0,0a1.0,1.0 0 1,0 -2.0,0M322.22,778.08m-1.0,0a1.0,1.0 0 1,0 2.0,0a1.0,1.0 0 1,0 -2.0,0M325.86,775.90m-1.0,0a1.0,1.0 0 1,0 2.0,0a1.0,1.0 0 1,0 -2.0,0M329.43,783.07m-1.0,0a1.0,1.0 0 1,0 2.0,0a1.0,1.0 0 1,0 -2.0,0M325.08,783.25m-1.0,0a1.0,1.0 0 1,0 2.0,0a1.0,1.0 0 1,0 -2.0,0M331.38,768.38m-1.0,0a1.0,1.0 0 1,0 2.0,0a1.0,1.0 0 1,0 -2.0,0M333.39,761.95m-1.0,0a1.0,1.0 0 1,0 2.0,0a1.0,1.0 0 1,0 -2.0,0M330.80,781.77m-1.0,0a1.0,1.0 0 1,0 2.0,0a1.0,1.0 0 1,0 -2.0,0M333.32,785.13m-1.0,0a1.0,1.0 0 1,0 2.0,0a1.0,1.0 0 1,0 -2.0,0M322.99,753.48m-1.0,0a1.0,1.0 0 1,0 2.0,0a1.0,1.0 0 1,0 -2.0,0M334.11,783.32m-1.0,0a1.0,1.0 0 1,0 2.0,0a1.0,1.0 0 1,0 -2.0,0M315.35,762.16m-1.0,0a1.0,1.0 0 1,0 2.0,0a1.0,1.0 0 1,0 -2.0,0M322.21,785.69m-1.0,0a1.0,1.0 0 1,0 2.0,0a1.0,1.0 0 1,0 -2.0,0M330.35,789.18m-1.0,0a1.0,1.0 0 1,0 2.0,0a1.0,1.0 0 1,0 -2.0,0M328.16,787.78m-1.0,0a1.0,1.0 0 1,0 2.0,0a1.0,1.0 0 1,0 -2.0,0M325.93,766.40m-1.0,0a1.0,1.0 0 1,0 2.0,0a1.0,1.0 0 1,0 -2.0,0M332.89,758.89m-1.0,0a1.0,1.0 0 1,0 2.0,0a1.0,1.0 0 1,0 -2.0,0M326.31,769.16m-1.0,0a1.0,1.0 0 1,0 2.0,0a1.0,1.0 0 1,0 -2.0,0M330.04,761.35m-1.0,0a1.0,1.0 0 1,0 2.0,0a1.0,1.0 0 1,0 -2.0,0M316.79,771.63m-1.0,0a1.0,1.0 0 1,0 2.0,0a1.0,1.0 0 1,0 -2.0,0M323.30,785.18m-1.0,0a1.0,1.0 0 1,0 2.0,0a1.0,1.0 0 1,0 -2.0,0M331.55,773.25m-1.0,0a1.0,1.0 0 1,0 2.0,0a1.0,1.0 0 1,0 -2.0,0M322.42,767.40m-1.0,0a1.0,1.0 0 1,0 2.0,0a1.0,1.0 0 1,0 -2.0,0M323.65,777.13m-1.0,0a1.0,1.0 0 1,0 2.0,0a1.0,1.0 0 1,0 -2.0,0M326.82,777.00m-1.0,0a1.0,1.0 0 1,0 2.0,0a1.0,1.0 0 1,0 -2.0,0M319.37,763.98m-1.0,0a1.0,1.0 0 1,0 2.0,0a1.0,1.0 0 1,0 -2.0,0M317.28,776.27m-1.0,0a1.0,1.0 0 1,0 2.0,0a1.0,1.0 0 1,0 -2.0,0M333.16,767.68m-1.0,0a1.0,1.0 0 1,0 2.0,0a1.0,1.0 0 1,0 -2.0,0M325.48,784.13m-1.0,0a1.0,1.0 0 1,0 2.0,0a1.0,1.0 0 1,0 -2.0,0M323.67,773.37m-1.0,0a1.0,1.0 0 1,0 2.0,0a1.0,1.0 0 1,0 -2.0,0M328.04,773.51m-1.0,0a1.0,1.0 0 1,0 2.0,0a1.0,1.0 0 1,0 -2.0,0M328.24,776.53m-1.0,0a1.0,1.0 0 1,0 2.0,0a1.0,1.0 0 1,0 -2.0,0M323.79,782.47m-1.0,0a1.0,1.0 0 1,0 2.0,0a1.0,1.0 0 1,0 -2.0,0M320.47,787.18m-1.0,0a1.0,1.0 0 1,0 2.0,0a1.0,1.0 0 1,0 -2.0,0M325.96,770.60m-1.0,0a1.0,1.0 0 1,0 2.0,0a1.0,1.0 0 1,0 -2.0,0M331.71,781.36m-1.0,0a1.0,1.0 0 1,0 2.0,0a1.0,1.0 0 1,0 -2.0,0M326.94,778.04m-1.0,0a1.0,1.0 0 1,0 2.0,0a1.0,1.0 0 1,0 -2.0,0M329.85,773.36m-1.0,0a1.0,1.0 0 1,0 2.0,0a1.0,1.0 0 1,0 -2.0,0M322.72,752.54m-1.0,0a1.0,1.0 0 1,0 2.0,0a1.0,1.0 0 1,0 -2.0,0M328.51,779.42m-1.0,0a1.0,1.0 0 1,0 2.0,0a1.0,1.0 0 1,0 -2.0,0M326.84,778.19m-1.0,0a1.0,1.0 0 1,0 2.0,0a1.0,1.0 0 1,0 -2.0,0M319.70,784.74m-1.0,0a1.0,1.0 0 1,0 2.0,0a1.0,1.0 0 1,0 -2.0,0M331.50,763.02m-1.0,0a1.0,1.0 0 1,0 2.0,0a1.0,1.0 0 1,0 -2.0,0M322.59,782.11m-1.0,0a1.0,1.0 0 1,0 2.0,0a1.0,1.0 0 1,0 -2.0,0M331.78,778.37m-1.0,0a1.0,1.0 0 1,0 2.0,0a1.0,1.0 0 1,0 -2.0,0M322.97,789.98m-1.0,0a1.0,1.0 0 1,0 2.0,0a1.0,1.0 0 1,0 -2.0,0M327.79,778.72m-1.0,0a1.0,1.0 0 1,0 2.0,0a1.0,1.0 0 1,0 -2.0,0M332.56,791.39m-1.0,0a1.0,1.0 0 1,0 2.0,0a1.0,1.0 0 1,0 -2.0,0M330.27,787.75m-1.0,0a1.0,1.0 0 1,0 2.0,0a1.0,1.0 0 1,0 -2.0,0M330.88,784.16m-1.0,0a1.0,1.0 0 1,0 2.0,0a1.0,1.0 0 1,0 -2.0,0M331.11,773.30m-1.0,0a1.0,1.0 0 1,0 2.0,0a1.0,1.0 0 1,0 -2.0,0M332.21,772.68m-1.0,0a1.0,1.0 0 1,0 2.0,0a1.0,1.0 0 1,0 -2.0,0M333.07,781.67m-1.0,0a1.0,1.0 0 1,0 2.0,0a1.0,1.0 0 1,0 -2.0,0M327.89,771.06m-1.0,0a1.0,1.0 0 1,0 2.0,0a1.0,1.0 0 1,0 -2.0,0M318.07,774.69m-1.0,0a1.0,1.0 0 1,0 2.0,0a1.0,1.0 0 1,0 -2.0,0M328.88,774.86m-1.0,0a1.0,1.0 0 1,0 2.0,0a1.0,1.0 0 1,0 -2.0,0M321.08,785.66m-1.0,0a1.0,1.0 0 1,0 2.0,0a1.0,1.0 0 1,0 -2.0,0M325.15,777.37m-1.0,0a1.0,1.0 0 1,0 2.0,0a1.0,1.0 0 1,0 -2.0,0M329.50,771.99m-1.0,0a1.0,1.0 0 1,0 2.0,0a1.0,1.0 0 1,0 -2.0,0M321.88,775.65m-1.0,0a1.0,1.0 0 1,0 2.0,0a1.0,1.0 0 1,0 -2.0,0M328.21,763.65m-1.0,0a1.0,1.0 0 1,0 2.0,0a1.0,1.0 0 1,0 -2.0,0M317.96,783.22m-1.0,0a1.0,1.0 0 1,0 2.0,0a1.0,1.0 0 1,0 -2.0,0M316.28,773.85m-1.0,0a1.0,1.0 0 1,0 2.0,0a1.0,1.0 0 1,0 -2.0,0M317.60,782.19m-1.0,0a1.0,1.0 0 1,0 2.0,0a1.0,1.0 0 1,0 -2.0,0M332.87,788.59m-1.0,0a1.0,1.0 0 1,0 2.0,0a1.0,1.0 0 1,0 -2.0,0M329.73,779.91m-1.0,0a1.0,1.0 0 1,0 2.0,0a1.0,1.0 0 1,0 -2.0,0M327.11,780.46m-1.0,0a1.0,1.0 0 1,0 2.0,0a1.0,1.0 0 1,0 -2.0,0M334.52,789.91m-1.0,0a1.0,1.0 0 1,0 2.0,0a1.0,1.0 0 1,0 -2.0,0M322.66,774.61m-1.0,0a1.0,1.0 0 1,0 2.0,0a1.0,1.0 0 1,0 -2.0,0M322.49,788.16m-1.0,0a1.0,1.0 0 1,0 2.0,0a1.0,1.0 0 1,0 -2.0,0M322.10,789.59m-1.0,0a1.0,1.0 0 1,0 2.0,0a1.0,1.0 0 1,0 -2.0,0M324.33,778.29m-1.0,0a1.0,1.0 0 1,0 2.0,0a1.0,1.0 0 1,0 -2.0,0M319.63,771.93m-1.0,0a1.0,1.0 0 1,0 2.0,0a1.0,1.0 0 1,0 -2.0,0M328.09,778.24m-1.0,0a1.0,1.0 0 1,0 2.0,0a1.0,1.0 0 1,0 -2.0,0M324.29,780.70m-1.0,0a1.0,1.0 0 1,0 2.0,0a1.0,1.0 0 1,0 -2.0,0M326.87,776.33m-1.0,0a1.0,1.0 0 1,0 2.0,0a1.0,1.0 0 1,0 -2.0,0M316.87,765.51m-1.0,0a1.0,1.0 0 1,0 2.0,0a1.0,1.0 0 1,0 -2.0,0M331.23,784.80m-1.0,0a1.0,1.0 0 1,0 2.0,0a1.0,1.0 0 1,0 -2.0,0M321.71,778.36m-1.0,0a1.0,1.0 0 1,0 2.0,0a1.0,1.0 0 1,0 -2.0,0M316.09,782.06m-1.0,0a1.0,1.0 0 1,0 2.0,0a1.0,1.0 0 1,0 -2.0,0M318.88,772.53m-1.0,0a1.0,1.0 0 1,0 2.0,0a1.0,1.0 0 1,0 -2.0,0M332.20,770.54m-1.0,0a1.0,1.0 0 1,0 2.0,0a1.0,1.0 0 1,0 -2.0,0M319.58,767.20m-1.0,0a1.0,1.0 0 1,0 2.0,0a1.0,1.0 0 1,0 -2.0,0M317.45,769.19m-1.0,0a1.0,1.0 0 1,0 2.0,0a1.0,1.0 0 1,0 -2.0,0M323.29,770.66m-1.0,0a1.0,1.0 0 1,0 2.0,0a1.0,1.0 0 1,0 -2.0,0M329.22,778.27m-1.0,0a1.0,1.0 0 1,0 2.0,0a1.0,1.0 0 1,0 -2.0,0M325.98,785.53m-1.0,0a1.0,1.0 0 1,0 2.0,0a1.0,1.0 0 1,0 -2.0,0" fill="#3b80c8" opacity="0.85"/>
<line x1="368.90" y1="806.30" x2="368.90" y2="810.00" stroke="#222" stroke-width="1.2" />
<text x="368.90" y="821.00" font-size="11.2" text-anchor="middle" fill="#111" transform="translate(0 817.08) scale(1 1.1) translate(0 -817.08)" >G3</text>
<text x="368.90" y="834.00" font-size="11.2" text-anchor="middle" fill="#111" transform="translate(0 830.08) scale(1 1.1) translate(0 -830.08)" >(n = 82)</text>
<line x1="368.90" y1="754.90" x2="368.90" y2="772.23" stroke="#e38b2a" stroke-width="1.3" />
<line x1="368.90" y1="784.72" x2="368.90" y2="799.52" stroke="#e38b2a" stroke-width="1.3" />
<line x1="359.38" y1="754.90" x2="378.42" y2="754.90" stroke="#e38b2a" stroke-width="1.3" />
<line x1="359.38" y1="799.52" x2="378.42" y2="799.52" stroke="#e38b2a" stroke-width="1.3" />
<rect x="357.70" y="772.23" width="22.40" height="12.50" fill="none" stroke="#e38b2a" stroke-width="1.3" />
<line x1="357.70" y1="778.74" x2="380.10" y2="778.74" stroke="#e38b2a" stroke-width="1.3" />
<path d="M370.90,772.80m-1.0,0a1.0,1.0 0 1,0 2.0,0a1.0,1.0 0 1,0 -2.0,0M360.76,775.22m-1.0,0a1.0,1.0 0 1,0 2.0,0a1.0,1.0 0 1,0 -2.0,0M375.31,775.25m-1.0,0a1.0,1.0 0 1,0 2.0,0a1.0,1.0 0 1,0 -2.0,0M369.31,767.11m-1.0,0a1.0,1.0 0 1,0 2.0,0a1.0,1.0 0 1,0 -2.0,0M364.92,779.38m-1.0,0a1.0,1.0 0 1,0 2.0,0a1.0,1.0 0 1,0 -2.0,0M365.23,779.80m-1.0,0a1.0,1.0 0 1,0 2.0,0a1.0,1.0 0 1,0 -2.0,0M374.64,771.29m-1.0,0a1.0,1.0 0 1,0 2.0,0a1.0,1.0 0 1,0 -2.0,0M359.51,783.24m-1.0,0a1.0,1.0 0 1,0 2.0,0a1.0,1.0 0 1,0 -2.0,0M374.37,798.24m-1.0,0a1.0,1.0 0 1,0 2.0,0a1.0,1.0 0 1,0 -2.0,0M370.51,778.54m-1.0,0a1.0,1.0 0 1,0 2.0,0a1.0,1.0 0 1,0 -2.0,0M360.43,769.99m-1.0,0a1.0,1.0 0 1,0 2.0,0a1.0,1.0 0 1,0 -2.0,0M378.27,759.49m-1.0,0a1.0,1.0 0 1,0 2.0,0a1.0,1.0 0 1,0 -2.0,0M369.52,776.31m-1.0,0a1.0,1.0 0 1,0 2.0,0a1.0,1.0 0 1,0 -2.0,0M362.13,793.30m-1.0,0a1.0,1.0 0 1,0 2.0,0a1.0,1.0 0 1,0 -2.0,0M372.04,786.12m-1.0,0a1.0,1.0 0 1,0 2.0,0a1.0,1.0 0 1,0 -2.0,0M366.67,767.23m-1.0,0a1.0,1.0 0 1,0 2.0,0a1.0,1.0 0 1,0 -2.0,0M364.61,777.77m-1.0,0a1.0,1.0 0 1,0 2.0,0a1.0,1.0 0 1,0 -2.0,0M360.64,781.64m-1.0,0a1.0,1.0 0 1,0 2.0,0a1.0,1.0 0 1,0 -2.0,0M374.01,786.18m-1.0,0a1.0,1.0 0 1,0 2.0,0a1.0,1.0 0 1,0 -2.0,0M361.83,764.09m-1.0,0a1.0,1.0 0 1,0 2.0,0a1.0,1.0 0 1,0 -2.0,0M372.16,780.35m-1.0,0a1.0,1.0 0 1,0 2.0,0a1.0,1.0 0 1,0 -2.0,0M367.74,774.52m-1.0,0a1.0,1.0 0 1,0 2.0,0a1.0,1.0 0 1,0 -2.0,0M376.26,777.70m-1.0,0a1.0,1.0 0 1,0 2.0,0a1.0,1.0 0 1,0 -2.0,0M367.39,769.83m-1.0,0a1.0,1.0 0 1,0 2.0,0a1.0,1.0 0 1,0 -2.0,0M368.37,783.46m-1.0,0a1.0,1.0 0 1,0 2.0,0a1.0,1.0 0 1,0 -2.0,0M370.04,790.86m-1.0,0a1.0,1.0 0 1,0 2.0,0a1.0,1.0 0 1,0 -2.0,0M368.79,782.77m-1.0,0a1.0,1.0 0 1,0 2.0,0a1.0,1.0 0 1,0 -2.0,0M364.96,774.09m-1.0,0a1.0,1.0 0 1,0 2.0,0a1.0,1.0 0 1,0 -2.0,0M377.23,781.60m-1.0,0a1.0,1.0 0 1,0 2.0,0a1.0,1.0 0 1,0 -2.0,0M367.40,773.52m-1.0,0a1.0,1.0 0 1,0 2.0,0a1.0,1.0 0 1,0 -2.0,0M363.14,778.01m-1.0,0a1.0,1.0 0 1,0 2.0,0a1.0,1.0 0 1,0 -2.0,0M376.33,776.50m-1.0,0a1.0,1.0 0 1,0 2.0,0a1.0,1.0 0 1,0 -2.0,0M363.47,785.86m-1.0,0a1.0,1.0 0 1,0 2.0,0a1.0,1.0 0 1,0 -2.0,0M371.94,767.00m-1.0,0a1.0,1.0 0 1,0 2.0,0a1.0,1.0 0 1,0 -2.0,0M369.47,793.12m-1.0,0a1.0,1.0 0 1,0 2.0,0a1.0,1.0 0 1,0 -2.0,0M366.39,774.09m-1.0,0a1.0,1.0 0 1,0 2.0,0a1.0,1.0 0 1,0 -2.0,0M375.59,781.07m-1.0,0a1.0,1.0 0 1,0 2.0,0a1.0,1.0 0 1,0 -2.0,0M372.76,766.52m-1.0,0a1.0,1.0 0 1,0 2.0,0a1.0,1.0 0 1,0 -2.0,0M376.79,786.93m-1.0,0a1.0,1.0 0 1,0 2.0,0a1.0,1.0 0 1,0 -2.0,0M375.88,777.71m-1.0,0a1.0,1.0 0 1,0 2.0,0a1.0,1.0 0 1,0 -2.0,0M374.39,770.24m-1.0,0a1.0,1.0 0 1,0 2.0,0a1.0,1.0 0 1,0 -2.0,0M372.44,767.66m-1.0,0a1.0,1.0 0 1,0 2.0,0a1.0,1.0 0 1,0 -2.0,0M363.78,760.19m-1.0,0a1.0,1.0 0 1,0 2.0,0a1.0,1.0 0 1,0 -2.0,0M378.91,782.96m-1.0,0a1.0,1.0 0 1,0 2.0,0a1.0,1.0 0 1,0 -2.0,0M378.50,782.98m-1.0,0a1.0,1.0 0 1,0 2.0,0a1.0,1.0 0 1,0 -2.0,0M362.19,770.74m-1.0,0a1.0,1.0 0 1,0 2.0,0a1.0,1.0 0 1,0 -2.0,0M364.32,789.01m-1.0,0a1.0,1.0 0 1,0 2.0,0a1.0,1.0 0 1,0 -2.0,0M364.20,770.81m-1.0,0a1.0,1.0 0 1,0 2.0,0a1.0,1.0 0 1,0 -2.0,0M373.82,775.24m-1.0,0a1.0,1.0 0 1,0 2.0,0a1.0,1.0 0 1,0 -2.0,0M374.74,790.99m-1.0,0a1.0,1.0 0 1,0 2.0,0a1.0,1.0 0 1,0 -2.0,0M375.42,765.13m-1.0,0a1.0,1.0 0 1,0 2.0,0a1.0,1.0 0 1,0 -2.0,0M378.55,792.84m-1.0,0a1.0,1.0 0 1,0 2.0,0a1.0,1.0 0 1,0 -2.0,0M369.18,793.13m-1.0,0a1.0,1.0 0 1,0 2.0,0a1.0,1.0 0 1,0 -2.0,0M378.36,778.67m-1.0,0a1.0,1.0 0 1,0 2.0,0a1.0,1.0 0 1,0 -2.0,0M372.21,784.25m-1.0,0a1.0,1.0 0 1,0 2.0,0a1.0,1.0 0 1,0 -2.0,0M364.76,786.86m-1.0,0a1.0,1.0 0 1,0 2.0,0a1.0,1.0 0 1,0 -2.0,0M361.58,772.45m-1.0,0a1.0,1.0 0 1,0 2.0,0a1.0,1.0 0 1,0 -2.0,0M358.90,772.09m-1.0,0a1.0,1.0 0 1,0 2.0,0a1.0,1.0 0 1,0 -2.0,0M374.21,770.22m-1.0,0a1.0,1.0 0 1,0 2.0,0a1.0,1.0 0 1,0 -2.0,0M359.80,773.14m-1.0,0a1.0,1.0 0 1,0 2.0,0a1.0,1.0 0 1,0 -2.0,0M369.11,781.67m-1.0,0a1.0,1.0 0 1,0 2.0,0a1.0,1.0 0 1,0 -2.0,0M364.78,782.14m-1.0,0a1.0,1.0 0 1,0 2.0,0a1.0,1.0 0 1,0 -2.0,0M367.15,792.50m-1.0,0a1.0,1.0 0 1,0 2.0,0a1.0,1.0 0 1,0 -2.0,0M366.72,773.87m-1.0,0a1.0,1.0 0 1,0 2.0,0a1.0,1.0 0 1,0 -2.0,0M365.85,779.35m-1.0,0a1.0,1.0 0 1,0 2.0,0a1.0,1.0 0 1,0 -2.0,0M372.97,783.29m-1.0,0a1.0,1.0 0 1,0 2.0,0a1.0,1.0 0 1,0 -2.0,0M364.00,765.62m-1.0,0a1.0,1.0 0 1,0 2.0,0a1.0,1.0 0 1,0 -2.0,0M365.12,771.63m-1.0,0a1.0,1.0 0 1,0 2.0,0a1.0,1.0 0 1,0 -2.0,0M361.54,784.07m-1.0,0a1.0,1.0 0 1,0 2.0,0a1.0,1.0 0 1,0 -2.0,0M365.78,795.83m-1.0,0a1.0,1.0 0 1,0 2.0,0a1.0,1.0 0 1,0 -2.0,0M371.56,770.79m-1.0,0a1.0,1.0 0 1,0 2.0,0a1.0,1.0 0 1,0 -2.0,0M375.32,782.10m-1.0,0a1.0,1.0 0 1,0 2.0,0a1.0,1.0 0 1,0 -2.0,0M358.89,781.64m-1.0,0a1.0,1.0 0 1,0 2.0,0a1.0,1.0 0 1,0 -2.0,0M365.68,762.81m-1.0,0a1.0,1.0 0 1,0 2.0,0a1.0,1.0 0 1,0 -2.0,0M363.12,774.48m-1.0,0a1.0,1.0 0 1,0 2.0,0a1.0,1.0 0 1,0 -2.0,0M359.33,771.34m-1.0,0a1.0,1.0 0 1,0 2.0,0a1.0,1.0 0 1,0 -2.0,0M370.38,776.86m-1.0,0a1.0,1.0 0 1,0 2.0,0a1.0,1.0 0 1,0 -2.0,0M369.99,784.13m-1.0,0a1.0,1.0 0 1,0 2.0,0a1.0,1.0 0 1,0 -2.0,0M371.35,768.24m-1.0,0a1.0,1.0 0 1,0 2.0,0a1.0,1.0 0 1,0 -2.0,0M362.23,793.28m-1.0,0a1.0,1.0 0 1,0 2.0,0a1.0,1.0 0 1,0 -2.0,0M377.54,778.45m-1.0,0a1.0,1.0 0 1,0 2.0,0a1.0,1.0 0 1,0 -2.0,0M365.04,782.92m-1.0,0a1.0,1.0 0 1,0 2.0,0a1.0,1.0 0 1,0 -2.0,0" fill="#e38b2a" opacity="0.85"/>
<line x1="413.10" y1="806.30" x2="413.10" y2="810.00" stroke="#222" stroke-width="1.2" />
<text x="410.60" y="821.00" font-size="11.2" text-anchor="middle" fill="#111" transform="translate(0 817.08) scale(1 1.1) translate(0 -817.08)" >Normal</text>
<text x="410.60" y="834.00" font-size="11.2" text-anchor="middle" fill="#111" transform="translate(0 830.08) scale(1 1.1) translate(0 -830.08)" >(n = 50)</text>
<line x1="413.10" y1="786.40" x2="413.10" y2="791.86" stroke="#2e9a48" stroke-width="1.3" />
<line x1="413.10" y1="796.90" x2="413.10" y2="800.05" stroke="#2e9a48" stroke-width="1.3" />
<line x1="403.33" y1="786.40" x2="422.88" y2="786.40" stroke="#2e9a48" stroke-width="1.3" />
<line x1="403.33" y1="800.05" x2="422.88" y2="800.05" stroke="#2e9a48" stroke-width="1.3" />
<rect x="401.60" y="791.86" width="23.00" height="5.04" fill="none" stroke="#2e9a48" stroke-width="1.3" />
<line x1="401.60" y1="794.27" x2="424.60" y2="794.27" stroke="#2e9a48" stroke-width="1.3" />
<path d="M410.95,794.32m-1.0,0a1.0,1.0 0 1,0 2.0,0a1.0,1.0 0 1,0 -2.0,0M419.13,791.67m-1.0,0a1.0,1.0 0 1,0 2.0,0a1.0,1.0 0 1,0 -2.0,0M417.85,790.49m-1.0,0a1.0,1.0 0 1,0 2.0,0a1.0,1.0 0 1,0 -2.0,0M407.80,799.16m-1.0,0a1.0,1.0 0 1,0 2.0,0a1.0,1.0 0 1,0 -2.0,0M411.72,795.65m-1.0,0a1.0,1.0 0 1,0 2.0,0a1.0,1.0 0 1,0 -2.0,0M420.85,791.41m-1.0,0a1.0,1.0 0 1,0 2.0,0a1.0,1.0 0 1,0 -2.0,0M422.72,792.71m-1.0,0a1.0,1.0 0 1,0 2.0,0a1.0,1.0 0 1,0 -2.0,0M421.76,794.31m-1.0,0a1.0,1.0 0 1,0 2.0,0a1.0,1.0 0 1,0 -2.0,0M418.99,799.84m-1.0,0a1.0,1.0 0 1,0 2.0,0a1.0,1.0 0 1,0 -2.0,0M406.62,792.88m-1.0,0a1.0,1.0 0 1,0 2.0,0a1.0,1.0 0 1,0 -2.0,0M421.62,788.03m-1.0,0a1.0,1.0 0 1,0 2.0,0a1.0,1.0 0 1,0 -2.0,0M417.54,798.89m-1.0,0a1.0,1.0 0 1,0 2.0,0a1.0,1.0 0 1,0 -2.0,0M414.11,797.77m-1.0,0a1.0,1.0 0 1,0 2.0,0a1.0,1.0 0 1,0 -2.0,0M405.25,793.58m-1.0,0a1.0,1.0 0 1,0 2.0,0a1.0,1.0 0 1,0 -2.0,0M403.39,792.27m-1.0,0a1.0,1.0 0 1,0 2.0,0a1.0,1.0 0 1,0 -2.0,0M409.16,799.91m-1.0,0a1.0,1.0 0 1,0 2.0,0a1.0,1.0 0 1,0 -2.0,0M415.79,790.93m-1.0,0a1.0,1.0 0 1,0 2.0,0a1.0,1.0 0 1,0 -2.0,0M404.05,790.16m-1.0,0a1.0,1.0 0 1,0 2.0,0a1.0,1.0 0 1,0 -2.0,0M414.64,794.03m-1.0,0a1.0,1.0 0 1,0 2.0,0a1.0,1.0 0 1,0 -2.0,0M410.27,797.21m-1.0,0a1.0,1.0 0 1,0 2.0,0a1.0,1.0 0 1,0 -2.0,0M411.87,797.23m-1.0,0a1.0,1.0 0 1,0 2.0,0a1.0,1.0 0 1,0 -2.0,0M418.27,796.60m-1.0,0a1.0,1.0 0 1,0 2.0,0a1.0,1.0 0 1,0 -2.0,0M418.56,793.05m-1.0,0a1.0,1.0 0 1,0 2.0,0a1.0,1.0 0 1,0 -2.0,0M407.41,791.38m-1.0,0a1.0,1.0 0 1,0 2.0,0a1.0,1.0 0 1,0 -2.0,0M406.05,786.81m-1.0,0a1.0,1.0 0 1,0 2.0,0a1.0,1.0 0 1,0 -2.0,0M411.26,790.83m-1.0,0a1.0,1.0 0 1,0 2.0,0a1.0,1.0 0 1,0 -2.0,0M410.05,795.40m-1.0,0a1.0,1.0 0 1,0 2.0,0a1.0,1.0 0 1,0 -2.0,0M413.87,791.60m-1.0,0a1.0,1.0 0 1,0 2.0,0a1.0,1.0 0 1,0 -2.0,0M403.81,790.84m-1.0,0a1.0,1.0 0 1,0 2.0,0a1.0,1.0 0 1,0 -2.0,0M404.38,791.20m-1.0,0a1.0,1.0 0 1,0 2.0,0a1.0,1.0 0 1,0 -2.0,0M409.82,793.46m-1.0,0a1.0,1.0 0 1,0 2.0,0a1.0,1.0 0 1,0 -2.0,0M408.78,791.63m-1.0,0a1.0,1.0 0 1,0 2.0,0a1.0,1.0 0 1,0 -2.0,0M412.54,791.44m-1.0,0a1.0,1.0 0 1,0 2.0,0a1.0,1.0 0 1,0 -2.0,0M418.72,798.95m-1.0,0a1.0,1.0 0 1,0 2.0,0a1.0,1.0 0 1,0 -2.0,0M415.50,795.55m-1.0,0a1.0,1.0 0 1,0 2.0,0a1.0,1.0 0 1,0 -2.0,0M418.18,797.26m-1.0,0a1.0,1.0 0 1,0 2.0,0a1.0,1.0 0 1,0 -2.0,0M421.96,791.41m-1.0,0a1.0,1.0 0 1,0 2.0,0a1.0,1.0 0 1,0 -2.0,0M408.22,795.61m-1.0,0a1.0,1.0 0 1,0 2.0,0a1.0,1.0 0 1,0 -2.0,0M413.68,799.12m-1.0,0a1.0,1.0 0 1,0 2.0,0a1.0,1.0 0 1,0 -2.0,0M404.71,787.69m-1.0,0a1.0,1.0 0 1,0 2.0,0a1.0,1.0 0 1,0 -2.0,0M418.28,794.76m-1.0,0a1.0,1.0 0 1,0 2.0,0a1.0,1.0 0 1,0 -2.0,0M411.52,797.17m-1.0,0a1.0,1.0 0 1,0 2.0,0a1.0,1.0 0 1,0 -2.0,0M408.07,797.03m-1.0,0a1.0,1.0 0 1,0 2.0,0a1.0,1.0 0 1,0 -2.0,0M420.67,794.89m-1.0,0a1.0,1.0 0 1,0 2.0,0a1.0,1.0 0 1,0 -2.0,0M405.15,797.54m-1.0,0a1.0,1.0 0 1,0 2.0,0a1.0,1.0 0 1,0 -2.0,0M408.82,798.39m-1.0,0a1.0,1.0 0 1,0 2.0,0a1.0,1.0 0 1,0 -2.0,0M413.88,791.81m-1.0,0a1.0,1.0 0 1,0 2.0,0a1.0,1.0 0 1,0 -2.0,0M417.17,794.78m-1.0,0a1.0,1.0 0 1,0 2.0,0a1.0,1.0 0 1,0 -2.0,0M422.83,799.01m-1.0,0a1.0,1.0 0 1,0 2.0,0a1.0,1.0 0 1,0 -2.0,0M418.93,794.59m-1.0,0a1.0,1.0 0 1,0 2.0,0a1.0,1.0 0 1,0 -2.0,0" fill="#2e9a48" opacity="0.85"/>
<circle cx="367.70" cy="728.00" r="0.9" fill="#e38b2a" />
<circle cx="325.50" cy="744.50" r="0.9" fill="#3b80c8" />
<line x1="365.10" y1="681.50" x2="409.00" y2="681.50" stroke="#222" stroke-width="1.2" />
<text x="389.20" y="683.50" font-size="10.5" text-anchor="middle" fill="#555" transform="translate(0 679.83) scale(1 1.1) translate(0 -679.83)" >****</text>
<line x1="321.00" y1="690.50" x2="409.00" y2="690.50" stroke="#222" stroke-width="1.2" />
<text x="377.00" y="691.80" font-size="10.5" text-anchor="middle" fill="#555" transform="translate(0 688.12) scale(1 1.1) translate(0 -688.12)" >****</text>
<line x1="325.40" y1="698.50" x2="369.30" y2="698.50" stroke="#222" stroke-width="1.2" />
<text x="353.00" y="697.80" font-size="11.2" text-anchor="middle" fill="#111" transform="translate(0 693.88) scale(1 1.1) translate(0 -693.88)" >ns</text>
<line x1="281.00" y1="707.50" x2="413.20" y2="707.50" stroke="#222" stroke-width="1.2" />
<text x="347.10" y="709.50" font-size="10.5" text-anchor="middle" fill="#555" transform="translate(0 705.83) scale(1 1.1) translate(0 -705.83)" >****</text>
<line x1="281.00" y1="716.50" x2="369.30" y2="716.50" stroke="#222" stroke-width="1.2" />
<text x="328.00" y="718.60" font-size="10.5" text-anchor="middle" fill="#555" transform="translate(0 714.93) scale(1 1.1) translate(0 -714.93)" >*</text>
<line x1="281.00" y1="724.50" x2="325.40" y2="724.50" stroke="#222" stroke-width="1.2" />
<text x="305.70" y="727.30" font-size="10.5" text-anchor="middle" fill="#555" transform="translate(0 723.62) scale(1 1.1) translate(0 -723.62)" >*</text>
<text x="457.30" y="648.00" font-size="10.6" text-anchor="start" fill="#111" transform="translate(0 644.29) scale(1 1.1) translate(0 -644.29)" >J</text>
<rect x="490.60" y="661.40" width="185.80" height="133.10" fill="none" stroke="#222" stroke-width="1.2" />
<line x1="487.50" y1="779.60" x2="490.60" y2="779.60" stroke="#222" stroke-width="1.2" />
<text x="487.20" y="783.40" font-size="11.2" text-anchor="end" fill="#111" transform="translate(0 779.48) scale(1 1.1) translate(0 -779.48)" >0.00</text>
<line x1="487.50" y1="752.00" x2="490.60" y2="752.00" stroke="#222" stroke-width="1.2" />
<text x="487.20" y="755.80" font-size="11.2" text-anchor="end" fill="#111" transform="translate(0 751.88) scale(1 1.1) translate(0 -751.88)" >0.25</text>
<line x1="487.50" y1="724.40" x2="490.60" y2="724.40" stroke="#222" stroke-width="1.2" />
<text x="487.20" y="728.20" font-size="11.2" text-anchor="end" fill="#111" transform="translate(0 724.28) scale(1 1.1) translate(0 -724.28)" >0.50</text>
<line x1="487.50" y1="696.80" x2="490.60" y2="696.80" stroke="#222" stroke-width="1.2" />
<text x="487.20" y="700.60" font-size="11.2" text-anchor="end" fill="#111" transform="translate(0 696.68) scale(1 1.1) translate(0 -696.68)" >0.75</text>
<line x1="487.50" y1="669.20" x2="490.60" y2="669.20" stroke="#222" stroke-width="1.2" />
<text x="487.20" y="673.00" font-size="11.2" text-anchor="end" fill="#111" transform="translate(0 669.08) scale(1 1.1) translate(0 -669.08)" >1.00</text>
<text x="0" y="0" font-size="11.2" text-anchor="middle" fill="#111" transform="translate(460.00,725.00) rotate(-90)" >Overall  survival probability</text>
<polyline points="499.40,668.80 502.80,668.80 502.80,670.23 506.20,670.23 506.20,671.67 509.60,671.67 509.60,673.10 513.25,673.10 513.25,674.60 516.90,674.60 516.90,676.10 520.55,676.10 520.55,678.25 524.20,678.25 524.20,680.40 528.60,680.40 528.60,682.60 533.00,682.60 533.00,684.80 538.80,684.80 538.80,685.50 542.45,685.50 542.45,685.70 546.10,685.70 546.10,685.90 549.75,685.90 549.75,686.10 553.40,686.10 553.40,686.30 556.80,686.30 556.80,687.27 560.20,687.27 560.20,688.23 563.60,688.23 563.60,689.20 568.00,689.20 568.00,691.40 572.40,691.40 572.40,693.60 576.80,693.60 576.80,696.00 596.10,696.00 596.10,696.00 599.16,696.00 599.16,696.60 602.22,696.60 602.22,697.20 605.28,697.20 605.28,697.80 608.34,697.80 608.34,698.40 611.40,698.40 611.40,699.00 614.80,699.00 614.80,701.10 657.10,701.10 657.10,701.10" fill="none" stroke="#c8402e" stroke-width="1.1" stroke-dasharray="2.2 1.6"/>
<polyline points="499.40,668.80 503.80,668.80 503.80,676.10 509.60,676.10 509.60,681.90 513.25,681.90 513.25,685.55 516.90,685.55 516.90,689.20 520.55,689.20 520.55,691.75 524.20,691.75 524.20,694.30 527.85,694.30 527.85,696.15 531.50,696.15 531.50,698.00 535.15,698.00 535.15,699.80 538.80,699.80 538.80,701.60 550.50,701.60 550.50,701.60 556.30,701.60 556.30,705.30 559.95,705.30 559.95,706.00 563.60,706.00 563.60,706.70 567.25,706.70 567.25,708.55 570.90,708.55 570.90,710.40 573.80,710.40 573.80,714.70 576.80,714.70 576.80,720.20 596.10,720.20 596.10,720.20 599.58,720.20 599.58,721.85 603.05,721.85 603.05,723.50 606.52,723.50 606.52,725.15 610.00,725.15 610.00,726.80 611.40,726.80 611.40,739.20 614.10,739.20 614.10,750.60 657.10,750.60 657.10,750.60" fill="none" stroke="#c8402e" stroke-width="1.1" stroke-dasharray="2.2 1.6"/>
<polyline points="499.40,668.80 503.05,668.80 503.05,670.25 506.70,670.25 506.70,671.70 510.10,671.70 510.10,674.13 513.50,674.13 513.50,676.57 516.90,676.57 516.90,679.00 520.55,679.00 520.55,681.90 524.20,681.90 524.20,684.80 528.10,684.80 528.10,686.27 532.00,686.27 532.00,687.73 535.90,687.73 535.90,689.20 539.55,689.20 539.55,689.95 543.20,689.95 543.20,690.70 546.40,690.70 546.40,690.98 549.60,690.98 549.60,691.26 552.80,691.26 552.80,691.54 556.00,691.54 556.00,691.82 559.20,691.82 559.20,692.10 563.60,692.10 563.60,695.05 568.00,695.05 568.00,698.00 571.65,698.00 571.65,698.52 575.30,698.52 575.30,699.05 578.95,699.05 578.95,699.58 582.60,699.58 582.60,700.10 585.70,700.10 585.70,700.50 588.80,700.50 588.80,700.90 591.90,700.90 591.90,701.30 595.00,701.30 595.00,701.70 639.10,701.70 639.10,701.70" fill="none" stroke="#3b80c8" stroke-width="1.1" stroke-dasharray="2.2 1.6"/>
<polyline points="499.40,668.80 503.80,668.80 503.80,679.00 509.60,679.00 509.60,687.70 513.25,687.70 513.25,692.85 516.90,692.85 516.90,698.00 520.55,698.00 520.55,700.90 524.20,700.90 524.20,703.80 530.00,703.80 530.00,708.20 533.65,708.20 533.65,711.85 537.30,711.85 537.30,715.50 538.80,715.50 538.80,718.40 550.50,718.40 550.50,718.40 551.20,718.40 551.20,722.80 562.20,722.80 562.20,722.80 562.90,722.80 562.90,733.00 582.60,733.00 582.60,733.00 584.10,733.00 584.10,740.50 640.50,740.50 640.50,740.50 640.50,740.50 640.50,764.20 646.70,764.20 646.70,764.20 647.40,764.20 647.40,775.30 651.20,775.30 651.20,776.00 655.00,776.00 655.00,776.70" fill="none" stroke="#3b80c8" stroke-width="1.1" stroke-dasharray="2.2 1.6"/>
<polyline points="499.40,668.80 503.05,668.80 503.05,671.70 506.70,671.70 506.70,674.60 509.60,674.60 509.60,686.30 515.40,686.30 515.40,695.00 518.40,695.00 518.40,702.30 524.20,702.30 524.20,705.30 528.60,705.30 528.60,708.20 534.40,708.20 534.40,711.10 538.05,711.10 538.05,711.85 541.70,711.85 541.70,712.60 546.10,712.60 546.10,713.65 550.50,713.65 550.50,714.70 556.30,714.70 556.30,718.40 560.70,718.40 560.70,719.15 565.10,719.15 565.10,719.90 570.90,719.90 570.90,721.30 574.80,721.30 574.80,722.27 578.70,722.27 578.70,723.23 582.60,723.23 582.60,724.20 585.00,724.20 585.00,726.80 666.10,726.80 666.10,726.80" fill="none" stroke="#e08a2c" stroke-width="1.1" stroke-dasharray="2.2 1.6"/>
<polyline points="499.40,668.80 503.80,668.80 503.80,684.80 508.10,684.80 508.10,693.60 511.10,693.60 511.10,703.80 514.00,703.80 514.00,714.00 518.40,714.00 518.40,719.90 524.20,719.90 524.20,724.20 530.00,724.20 530.00,735.90 534.40,735.90 534.40,740.30 538.80,740.30 538.80,741.75 543.20,741.75 543.20,743.20 546.60,743.20 546.60,744.67 550.00,744.67 550.00,746.13 553.40,746.13 553.40,747.60 559.20,747.60 559.20,749.10 563.55,749.10 563.55,749.80 567.90,749.80 567.90,750.50 573.80,750.50 573.80,754.90 579.70,754.90 579.70,759.30 585.00,759.30 585.00,763.50 612.00,763.50 612.00,763.50 613.40,763.50 613.40,770.40 614.80,770.40 614.80,778.10 666.10,778.10 666.10,778.10" fill="none" stroke="#e08a2c" stroke-width="1.1" stroke-dasharray="2.2 1.6"/>
<line x1="499.40" y1="724.20" x2="614.10" y2="724.20" stroke="#111" stroke-width="1.3" stroke-dasharray="2 1.5"/>
<line x1="528.90" y1="724.20" x2="528.90" y2="779.30" stroke="#111" stroke-width="1.3" stroke-dasharray="2 1.5"/>
<line x1="583.30" y1="724.20" x2="583.30" y2="779.30" stroke="#111" stroke-width="1.3" stroke-dasharray="2 1.5"/>
<line x1="614.10" y1="724.20" x2="614.10" y2="779.30" stroke="#111" stroke-width="1.3" stroke-dasharray="2 1.5"/>
<polyline points="499.40,668.80 503.05,668.80 503.05,672.45 506.70,672.45 506.70,676.10 510.35,676.10 510.35,677.15 514.00,677.15 514.00,678.20 518.40,678.20 518.40,684.10 524.20,684.10 524.20,689.20 530.00,689.20 530.00,692.10 534.40,692.10 534.40,692.85 538.80,692.85 538.80,693.60 542.07,693.60 542.07,693.77 545.35,693.77 545.35,693.95 548.62,693.95 548.62,694.12 551.90,694.12 551.90,694.30 556.30,694.30 556.30,696.50 559.95,696.50 559.95,697.95 563.60,697.95 563.60,699.40 569.50,699.40 569.50,700.90 573.80,700.90 573.80,703.80 576.00,703.80 576.00,709.50 595.40,709.50 595.40,709.50 595.40,709.50 595.40,714.30 611.40,714.30 611.40,714.30 611.40,714.30 611.40,722.60 614.10,722.60 614.10,722.60 614.10,722.60 614.10,731.60 657.10,731.60 657.10,731.60" fill="none" stroke="#c8402e" stroke-width="2.6" />
<polyline points="499.40,668.80 503.80,668.80 503.80,676.10 509.60,676.10 509.60,681.90 515.40,681.90 515.40,687.00 519.80,687.00 519.80,690.70 525.70,690.70 525.70,694.30 531.50,694.30 531.50,696.50 534.40,696.50 534.40,699.40 537.30,699.40 537.30,705.30 540.60,705.30 540.60,705.65 543.90,705.65 543.90,706.00 547.20,706.00 547.20,706.35 550.50,706.35 550.50,706.70 551.20,706.70 551.20,710.40 562.20,710.40 562.20,710.40 562.90,710.40 562.90,718.40 582.60,718.40 582.60,718.40 583.30,718.40 583.30,724.10 641.20,724.10 641.20,724.10 641.20,724.10 641.20,742.70 646.70,742.70 646.70,742.70 646.70,742.70 646.70,761.40 655.00,761.40 655.00,761.40" fill="none" stroke="#3b80c8" stroke-width="2.6" />
<polyline points="499.40,668.80 503.05,668.80 503.05,674.60 506.70,674.60 506.70,680.40 511.10,680.40 511.10,689.20 513.20,689.20 513.20,698.00 516.90,698.00 516.90,706.70 519.80,706.70 519.80,708.90 522.70,708.90 522.70,710.40 524.90,710.40 524.90,713.30 526.40,713.30 526.40,716.20 528.60,716.20 528.60,721.30 530.00,721.30 530.00,724.20 532.20,724.20 532.20,725.70 534.40,725.70 534.40,728.60 538.80,728.60 538.80,730.10 543.90,730.10 543.90,731.50 546.10,731.50 546.10,733.00 549.75,733.00 549.75,733.35 553.40,733.35 553.40,733.70 554.90,733.70 554.90,736.60 558.30,736.60 558.30,736.87 561.70,736.87 561.70,737.13 565.10,737.13 565.10,737.40 567.30,737.40 567.30,740.30 571.00,740.30 571.00,741.80 573.80,741.80 573.80,744.70 579.70,744.70 579.70,746.10 581.10,746.10 581.10,750.60 612.00,750.60 612.00,750.60 612.00,750.60 612.00,760.70 614.80,760.70 614.80,760.70 614.80,760.70 614.80,770.20 666.10,770.20 666.10,770.20" fill="none" stroke="#e08a2c" stroke-width="2.6" />
<text x="497.0" y="791.0" font-size="11.2" fill="#1a1a1a"><tspan font-style="italic">P</tspan>&lt;0.0001</text>
<text x="553.00" y="791.00" font-size="11.2" text-anchor="start" fill="#111" transform="translate(0 787.08) scale(1 1.1) translate(0 -787.08)" >Median  time: 6.9,4.9,1.8</text>
<text x="571.80" y="672.50" font-size="11.2" text-anchor="start" fill="#111" transform="translate(0 668.58) scale(1 1.1) translate(0 -668.58)" >Group</text>
<line x1="606.50" y1="669.60" x2="614.00" y2="669.60" stroke="#c8402e" stroke-width="2.6" />
<text x="616.60" y="673.40" font-size="11.2" text-anchor="start" fill="#111" textLength="57.4" lengthAdjust="spacing" transform="translate(0 669.48) scale(1 1.1) translate(0 -669.48)" >Groups = G1</text>
<line x1="606.50" y1="679.65" x2="614.00" y2="679.65" stroke="#3b80c8" stroke-width="2.6" />
<text x="616.60" y="683.45" font-size="11.2" text-anchor="start" fill="#111" textLength="57.4" lengthAdjust="spacing" transform="translate(0 679.53) scale(1 1.1) translate(0 -679.53)" >Groups = G2</text>
<line x1="606.50" y1="689.70" x2="614.00" y2="689.70" stroke="#e08a2c" stroke-width="2.6" />
<text x="616.60" y="693.50" font-size="11.2" text-anchor="start" fill="#111" textLength="57.4" lengthAdjust="spacing" transform="translate(0 689.58) scale(1 1.1) translate(0 -689.58)" >Groups = G3</text>
<rect x="491.20" y="802.00" width="184.20" height="29.60" fill="none" stroke="#222" stroke-width="1.2" />
<text x="487.70" y="811.40" font-size="11.2" text-anchor="end" fill="#111" textLength="42.5" lengthAdjust="spacing" transform="translate(0 807.48) scale(1 1.1) translate(0 -807.48)" >Groups 1</text>
<text x="499.00" y="811.40" font-size="11.2" text-anchor="middle" fill="#111" transform="translate(0 807.48) scale(1 1.1) translate(0 -807.48)" >171</text>
<text x="538.50" y="811.40" font-size="11.2" text-anchor="middle" fill="#111" transform="translate(0 807.48) scale(1 1.1) translate(0 -807.48)" >57</text>
<text x="575.50" y="811.40" font-size="11.2" text-anchor="middle" fill="#111" transform="translate(0 807.48) scale(1 1.1) translate(0 -807.48)" >23</text>
<text x="620.50" y="811.40" font-size="11.2" text-anchor="middle" fill="#111" transform="translate(0 807.48) scale(1 1.1) translate(0 -807.48)" >4</text>
<text x="662.00" y="811.40" font-size="11.2" text-anchor="middle" fill="#111" transform="translate(0 807.48) scale(1 1.1) translate(0 -807.48)" >0</text>
<text x="487.70" y="821.70" font-size="11.2" text-anchor="end" fill="#111" textLength="42.5" lengthAdjust="spacing" transform="translate(0 817.78) scale(1 1.1) translate(0 -817.78)" >Groups 2</text>
<text x="499.00" y="821.70" font-size="11.2" text-anchor="middle" fill="#111" transform="translate(0 817.78) scale(1 1.1) translate(0 -817.78)" >88</text>
<text x="538.50" y="821.70" font-size="11.2" text-anchor="middle" fill="#111" transform="translate(0 817.78) scale(1 1.1) translate(0 -817.78)" >25</text>
<text x="575.50" y="821.70" font-size="11.2" text-anchor="middle" fill="#111" transform="translate(0 817.78) scale(1 1.1) translate(0 -817.78)" >10</text>
<text x="620.50" y="821.70" font-size="11.2" text-anchor="middle" fill="#111" transform="translate(0 817.78) scale(1 1.1) translate(0 -817.78)" >3</text>
<text x="662.00" y="821.70" font-size="11.2" text-anchor="middle" fill="#111" transform="translate(0 817.78) scale(1 1.1) translate(0 -817.78)" >0</text>
<text x="487.70" y="831.80" font-size="11.2" text-anchor="end" fill="#111" textLength="42.5" lengthAdjust="spacing" transform="translate(0 827.88) scale(1 1.1) translate(0 -827.88)" >Groups 3</text>
<text x="499.00" y="831.80" font-size="11.2" text-anchor="middle" fill="#111" transform="translate(0 827.88) scale(1 1.1) translate(0 -827.88)" >82</text>
<text x="538.50" y="831.80" font-size="11.2" text-anchor="middle" fill="#111" transform="translate(0 827.88) scale(1 1.1) translate(0 -827.88)" >18</text>
<text x="575.50" y="831.80" font-size="11.2" text-anchor="middle" fill="#111" transform="translate(0 827.88) scale(1 1.1) translate(0 -827.88)" >6</text>
<text x="620.50" y="831.80" font-size="11.2" text-anchor="middle" fill="#111" transform="translate(0 827.88) scale(1 1.1) translate(0 -827.88)" >1</text>
<text x="662.00" y="831.80" font-size="11.2" text-anchor="middle" fill="#111" transform="translate(0 827.88) scale(1 1.1) translate(0 -827.88)" >1</text>
<text x="499.00" y="843.60" font-size="11.2" text-anchor="middle" fill="#111" transform="translate(0 839.68) scale(1 1.1) translate(0 -839.68)" >0</text>
<text x="538.50" y="843.60" font-size="11.2" text-anchor="middle" fill="#111" transform="translate(0 839.68) scale(1 1.1) translate(0 -839.68)" >2.5</text>
<text x="575.50" y="843.60" font-size="11.2" text-anchor="middle" fill="#111" transform="translate(0 839.68) scale(1 1.1) translate(0 -839.68)" >5</text>
<text x="620.50" y="843.60" font-size="11.2" text-anchor="middle" fill="#111" transform="translate(0 839.68) scale(1 1.1) translate(0 -839.68)" >7.5</text>
<text x="662.00" y="843.60" font-size="11.2" text-anchor="middle" fill="#111" transform="translate(0 839.68) scale(1 1.1) translate(0 -839.68)" >10</text>
<text x="586.20" y="855.60" font-size="11.2" text-anchor="middle" fill="#111" transform="translate(0 851.68) scale(1 1.1) translate(0 -851.68)" >Time (years)</text>
</svg>
</body></html>
